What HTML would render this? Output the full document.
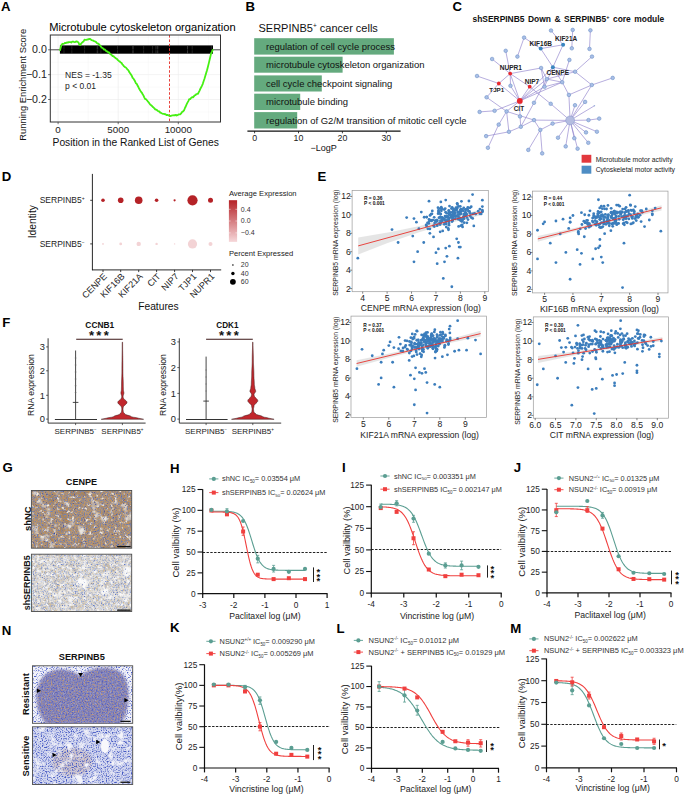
<!DOCTYPE html><html><head><meta charset="utf-8"><style>html,body{margin:0;padding:0;background:#fff;}svg{display:block;font-family:"Liberation Sans",sans-serif;}</style></head><body>
<svg width="685" height="796" viewBox="0 0 685 796">
<rect x="0.00" y="0.00" width="685.00" height="796.00" fill="#fff"/>
<text x="1.00" y="11.00" font-size="13.20" text-anchor="start" font-weight="bold" fill="#000">A</text>
<text x="245.50" y="11.00" font-size="13.20" text-anchor="start" font-weight="bold" fill="#000">B</text>
<text x="452.50" y="11.00" font-size="13.20" text-anchor="start" font-weight="bold" fill="#000">C</text>
<text x="1.80" y="181.00" font-size="13.20" text-anchor="start" font-weight="bold" fill="#000">D</text>
<text x="317.40" y="181.00" font-size="13.20" text-anchor="start" font-weight="bold" fill="#000">E</text>
<text x="2.20" y="327.00" font-size="13.20" text-anchor="start" font-weight="bold" fill="#000">F</text>
<text x="2.60" y="472.30" font-size="13.20" text-anchor="start" font-weight="bold" fill="#000">G</text>
<text x="170.00" y="473.10" font-size="13.20" text-anchor="start" font-weight="bold" fill="#000">H</text>
<text x="342.00" y="472.00" font-size="13.20" text-anchor="start" font-weight="bold" fill="#000">I</text>
<text x="513.80" y="472.00" font-size="13.20" text-anchor="start" font-weight="bold" fill="#000">J</text>
<text x="1.80" y="635.40" font-size="13.20" text-anchor="start" font-weight="bold" fill="#000">N</text>
<text x="170.00" y="632.20" font-size="13.20" text-anchor="start" font-weight="bold" fill="#000">K</text>
<text x="336.50" y="633.00" font-size="13.20" text-anchor="start" font-weight="bold" fill="#000">L</text>
<text x="510.30" y="633.00" font-size="13.20" text-anchor="start" font-weight="bold" fill="#000">M</text>
<clipPath id="clipA"><rect x="0" y="0" width="229.5" height="40"/></clipPath>
<text x="49.20" y="30.80" font-size="11.15" text-anchor="start" fill="#000">Microtubule cytoskeleton organization</text>
<rect x="50.30" y="35.00" width="170.20" height="87.00" fill="#fff"/>
<line x1="50.30" y1="37.38" x2="220.50" y2="37.38" stroke="#f2f2f2" stroke-width="0.4"/>
<line x1="50.30" y1="49.80" x2="220.50" y2="49.80" stroke="#ebebeb" stroke-width="0.6"/>
<line x1="50.30" y1="62.22" x2="220.50" y2="62.22" stroke="#f2f2f2" stroke-width="0.4"/>
<line x1="50.30" y1="74.65" x2="220.50" y2="74.65" stroke="#ebebeb" stroke-width="0.6"/>
<line x1="50.30" y1="87.07" x2="220.50" y2="87.07" stroke="#f2f2f2" stroke-width="0.4"/>
<line x1="50.30" y1="99.50" x2="220.50" y2="99.50" stroke="#ebebeb" stroke-width="0.6"/>
<line x1="50.30" y1="111.92" x2="220.50" y2="111.92" stroke="#f2f2f2" stroke-width="0.4"/>
<line x1="58.10" y1="35.00" x2="58.10" y2="122.00" stroke="#ebebeb" stroke-width="0.6"/>
<line x1="88.15" y1="35.00" x2="88.15" y2="122.00" stroke="#f2f2f2" stroke-width="0.4"/>
<line x1="118.20" y1="35.00" x2="118.20" y2="122.00" stroke="#ebebeb" stroke-width="0.6"/>
<line x1="148.25" y1="35.00" x2="148.25" y2="122.00" stroke="#f2f2f2" stroke-width="0.4"/>
<line x1="178.30" y1="35.00" x2="178.30" y2="122.00" stroke="#ebebeb" stroke-width="0.6"/>
<line x1="208.35" y1="35.00" x2="208.35" y2="122.00" stroke="#f2f2f2" stroke-width="0.4"/>
<rect x="59.90" y="45.40" width="153.10" height="8.30" fill="#000"/>
<line x1="97.69" y1="45.40" x2="97.69" y2="53.70" stroke="#666" stroke-width="0.35"/>
<line x1="143.63" y1="45.40" x2="143.63" y2="53.70" stroke="#666" stroke-width="0.35"/>
<line x1="117.49" y1="45.40" x2="117.49" y2="53.70" stroke="#666" stroke-width="0.35"/>
<line x1="152.59" y1="45.40" x2="152.59" y2="53.70" stroke="#666" stroke-width="0.35"/>
<line x1="155.86" y1="45.40" x2="155.86" y2="53.70" stroke="#666" stroke-width="0.35"/>
<line x1="71.83" y1="45.40" x2="71.83" y2="53.70" stroke="#666" stroke-width="0.35"/>
<line x1="63.98" y1="45.40" x2="63.98" y2="53.70" stroke="#666" stroke-width="0.35"/>
<line x1="187.62" y1="45.40" x2="187.62" y2="53.70" stroke="#666" stroke-width="0.35"/>
<line x1="100.90" y1="45.40" x2="100.90" y2="53.70" stroke="#666" stroke-width="0.35"/>
<line x1="97.15" y1="45.40" x2="97.15" y2="53.70" stroke="#666" stroke-width="0.35"/>
<line x1="211.35" y1="45.40" x2="211.35" y2="53.70" stroke="#666" stroke-width="0.35"/>
<line x1="132.54" y1="45.40" x2="132.54" y2="53.70" stroke="#666" stroke-width="0.35"/>
<line x1="187.47" y1="45.40" x2="187.47" y2="53.70" stroke="#666" stroke-width="0.35"/>
<line x1="133.45" y1="45.40" x2="133.45" y2="53.70" stroke="#666" stroke-width="0.35"/>
<line x1="157.86" y1="45.40" x2="157.86" y2="53.70" stroke="#666" stroke-width="0.35"/>
<line x1="84.59" y1="45.40" x2="84.59" y2="53.70" stroke="#666" stroke-width="0.35"/>
<line x1="157.23" y1="45.40" x2="157.23" y2="53.70" stroke="#666" stroke-width="0.35"/>
<line x1="192.21" y1="45.40" x2="192.21" y2="53.70" stroke="#666" stroke-width="0.35"/>
<line x1="50.30" y1="49.80" x2="220.50" y2="49.80" stroke="#000" stroke-width="0.7"/>
<line x1="169.50" y1="35.00" x2="169.50" y2="122.00" stroke="#e8403a" stroke-width="1.0" stroke-dasharray="2.6,1.8"/>
<path d="M59.90,50.82 L60.75,47.40 L61.60,44.65 L62.48,43.77 L63.36,43.94 L64.24,43.47 L65.12,42.86 L66.00,43.01 L66.88,42.40 L67.76,42.65 L68.64,42.15 L69.52,42.03 L70.40,42.22 L71.29,42.51 L72.18,41.70 L73.06,41.69 L73.95,41.98 L74.84,42.19 L75.72,41.70 L76.61,41.41 L77.50,41.88 L78.37,42.25 L79.23,44.36 L80.10,45.09 L80.98,43.88 L81.86,42.80 L82.74,41.93 L83.62,41.38 L84.50,39.68 L85.38,39.96 L86.27,39.91 L87.15,39.52 L88.03,39.58 L88.92,38.98 L89.80,38.86 L90.67,39.37 L91.53,40.21 L92.40,40.33 L93.27,40.58 L94.13,41.22 L95.00,41.45 L95.90,41.92 L96.80,43.04 L97.70,43.57 L98.60,43.74 L99.48,44.97 L100.36,45.83 L101.24,47.08 L102.12,47.83 L103.00,48.29 L103.88,49.62 L104.75,49.39 L105.62,50.33 L106.50,51.31 L107.38,51.34 L108.25,52.31 L109.12,52.50 L110.00,53.77 L110.88,54.55 L111.76,55.05 L112.64,56.05 L113.52,56.17 L114.40,57.25 L115.28,57.83 L116.16,58.51 L117.04,59.08 L117.92,60.15 L118.80,60.94 L119.68,61.37 L120.56,62.46 L121.44,62.76 L122.32,64.30 L123.20,65.15 L124.08,66.39 L124.96,67.12 L125.84,67.48 L126.72,68.49 L127.60,69.67 L128.44,70.37 L129.28,72.16 L130.12,73.22 L130.96,74.52 L131.80,75.81 L132.64,77.87 L133.48,78.58 L134.32,80.05 L135.16,81.54 L136.00,83.37 L136.84,84.00 L137.67,85.79 L138.51,87.30 L139.35,89.06 L140.18,90.41 L141.02,91.87 L141.85,92.71 L142.69,94.26 L143.53,95.62 L144.36,97.57 L145.20,99.06 L146.05,99.24 L146.90,100.25 L147.75,101.29 L148.60,102.28 L149.45,103.52 L150.30,104.61 L151.15,105.28 L152.00,106.00 L152.81,107.01 L153.62,107.55 L154.43,108.33 L155.24,109.31 L156.06,109.63 L156.87,110.05 L157.68,110.74 L158.49,111.39 L159.30,111.35 L160.24,112.64 L161.18,112.96 L162.12,113.49 L163.06,113.86 L164.00,113.89 L164.84,114.23 L165.69,114.26 L166.53,115.12 L167.37,114.88 L168.21,115.21 L169.06,115.68 L169.90,115.96 L170.75,116.01 L171.60,115.59 L172.45,115.40 L173.30,115.42 L174.15,115.23 L175.00,115.36 L175.90,114.84 L176.80,115.51 L177.70,115.06 L178.60,114.42 L179.50,114.34 L180.40,114.25 L181.30,113.16 L182.20,111.82 L183.10,111.45 L184.00,110.49 L184.87,108.22 L185.73,106.48 L186.60,104.34 L187.47,102.60 L188.33,101.09 L189.20,99.26 L190.15,99.20 L191.10,97.91 L192.05,97.15 L193.00,97.45 L193.83,96.41 L194.67,95.41 L195.50,95.19 L196.33,94.06 L197.17,93.94 L198.00,93.78 L198.80,92.20 L199.60,90.58 L200.40,88.68 L201.20,87.33 L202.00,85.67 L202.80,83.85 L203.60,81.19 L204.40,79.02 L205.20,76.15 L206.00,73.62 L207.00,70.24 L208.00,66.45 L209.00,62.35 L210.10,57.71 L211.20,53.12 L212.10,51.29 L213.00,49.30" fill="none" stroke="#45f012" stroke-width="1.8" stroke-linejoin="round"/>
<rect x="50.3" y="35.0" width="170.2" height="87.0" fill="none" stroke="#333" stroke-width="1.0"/>
<line x1="48.10" y1="49.80" x2="50.30" y2="49.80" stroke="#333" stroke-width="0.7"/>
<text x="46.80" y="53.45" font-size="10.60" text-anchor="end" fill="#222">0.0</text>
<line x1="48.10" y1="74.65" x2="50.30" y2="74.65" stroke="#333" stroke-width="0.7"/>
<text x="46.80" y="78.30" font-size="10.60" text-anchor="end" fill="#222">−0.1</text>
<line x1="48.10" y1="99.50" x2="50.30" y2="99.50" stroke="#333" stroke-width="0.7"/>
<text x="46.80" y="103.15" font-size="10.60" text-anchor="end" fill="#222">−0.2</text>
<line x1="58.10" y1="122.00" x2="58.10" y2="124.20" stroke="#333" stroke-width="0.7"/>
<text x="58.10" y="132.97" font-size="9.80" text-anchor="middle" fill="#222">0</text>
<line x1="118.20" y1="122.00" x2="118.20" y2="124.20" stroke="#333" stroke-width="0.7"/>
<text x="118.20" y="132.97" font-size="9.80" text-anchor="middle" fill="#222">5000</text>
<line x1="178.30" y1="122.00" x2="178.30" y2="124.20" stroke="#333" stroke-width="0.7"/>
<text x="178.30" y="132.97" font-size="9.80" text-anchor="middle" fill="#222">10000</text>
<text x="135.70" y="145.54" font-size="10.29" text-anchor="middle" fill="#111">Position in the Ranked List of Genes</text>
<text x="25.72" y="84.80" font-size="9.37" text-anchor="middle" fill="#111" transform="rotate(-90 25.72 84.80)">Running Enrichment Score</text>
<text x="65.10" y="78.32" font-size="8.50" text-anchor="start" fill="#222">NES = -1.35</text>
<text x="65.10" y="88.82" font-size="8.50" text-anchor="start" fill="#222">p &lt; 0.01</text>
<text x="258.50" y="31.98" font-size="11.00" text-anchor="start" fill="#111">SERPINB5<tspan font-size="6.5" dy="-3.8">+</tspan><tspan dy="3.8"> cancer cells</tspan></text>
<rect x="254.20" y="38.20" width="139.70" height="16.40" fill="#64aa7e"/>
<rect x="254.20" y="56.70" width="88.40" height="16.00" fill="#64aa7e"/>
<rect x="254.20" y="75.40" width="67.60" height="16.10" fill="#64aa7e"/>
<rect x="254.20" y="93.70" width="46.00" height="16.30" fill="#64aa7e"/>
<rect x="254.20" y="112.10" width="43.00" height="16.40" fill="#64aa7e"/>
<text x="266.00" y="49.66" font-size="9.47" text-anchor="start" fill="#111">regulation of cell cycle process</text>
<text x="266.00" y="67.96" font-size="9.47" text-anchor="start" fill="#111">microtubule cytoskeleton organization</text>
<text x="266.00" y="86.71" font-size="9.47" text-anchor="start" fill="#111">cell cycle checkpoint signaling</text>
<text x="266.00" y="105.11" font-size="9.47" text-anchor="start" fill="#111">microtubule binding</text>
<text x="266.00" y="123.56" font-size="9.47" text-anchor="start" fill="#111">regulation of G2/M transition of mitotic cell cycle</text>
<line x1="247.40" y1="131.10" x2="400.60" y2="131.10" stroke="#111" stroke-width="1.1"/>
<line x1="254.60" y1="131.10" x2="254.60" y2="133.30" stroke="#111" stroke-width="0.8"/>
<text x="254.60" y="141.23" font-size="8.80" text-anchor="middle" fill="#222">0</text>
<line x1="298.50" y1="131.10" x2="298.50" y2="133.30" stroke="#111" stroke-width="0.8"/>
<text x="298.50" y="141.23" font-size="8.80" text-anchor="middle" fill="#222">10</text>
<line x1="342.40" y1="131.10" x2="342.40" y2="133.30" stroke="#111" stroke-width="0.8"/>
<text x="342.40" y="141.23" font-size="8.80" text-anchor="middle" fill="#222">20</text>
<line x1="386.30" y1="131.10" x2="386.30" y2="133.30" stroke="#111" stroke-width="0.8"/>
<text x="386.30" y="141.23" font-size="8.80" text-anchor="middle" fill="#222">30</text>
<text x="323.60" y="150.90" font-size="9.00" text-anchor="middle" fill="#111">−LogP</text>
<text x="472.50" y="21.70" font-size="8.44" text-anchor="start" font-weight="bold" fill="#111" word-spacing="1.2">shSERPINB5 Down &amp; SERPINB5<tspan font-size="5.5" dy="-3.2">+</tspan><tspan dy="3.2"> core module</tspan></text>
<line x1="551.00" y1="30.50" x2="563.10" y2="44.80" stroke="#8f82cc" stroke-width="0.65"/>
<line x1="572.70" y1="29.90" x2="571.80" y2="48.30" stroke="#8f82cc" stroke-width="0.65"/>
<line x1="590.40" y1="30.30" x2="589.50" y2="48.90" stroke="#8f82cc" stroke-width="0.65"/>
<line x1="524.10" y1="37.60" x2="540.70" y2="48.60" stroke="#8f82cc" stroke-width="0.65"/>
<line x1="524.10" y1="37.60" x2="517.40" y2="56.60" stroke="#8f82cc" stroke-width="0.65"/>
<line x1="540.70" y1="48.60" x2="563.10" y2="44.80" stroke="#8f82cc" stroke-width="0.65"/>
<line x1="540.70" y1="48.60" x2="552.90" y2="67.20" stroke="#8f82cc" stroke-width="0.65"/>
<line x1="563.10" y1="44.80" x2="552.90" y2="67.20" stroke="#8f82cc" stroke-width="0.65"/>
<line x1="505.70" y1="50.80" x2="510.20" y2="73.60" stroke="#8f82cc" stroke-width="0.65"/>
<line x1="492.10" y1="59.00" x2="510.20" y2="73.60" stroke="#8f82cc" stroke-width="0.65"/>
<line x1="477.00" y1="76.00" x2="498.80" y2="83.50" stroke="#8f82cc" stroke-width="0.65"/>
<line x1="510.20" y1="73.60" x2="498.80" y2="83.50" stroke="#8f82cc" stroke-width="0.65"/>
<line x1="510.20" y1="73.60" x2="541.10" y2="68.00" stroke="#8f82cc" stroke-width="0.65"/>
<line x1="510.20" y1="73.60" x2="519.80" y2="100.90" stroke="#8f82cc" stroke-width="0.65"/>
<line x1="498.80" y1="83.50" x2="519.80" y2="100.90" stroke="#8f82cc" stroke-width="0.65"/>
<line x1="529.70" y1="86.70" x2="519.80" y2="100.90" stroke="#8f82cc" stroke-width="0.65"/>
<line x1="541.10" y1="68.00" x2="546.80" y2="79.10" stroke="#8f82cc" stroke-width="0.65"/>
<line x1="541.10" y1="68.00" x2="544.50" y2="86.80" stroke="#8f82cc" stroke-width="0.65"/>
<line x1="569.40" y1="59.90" x2="562.20" y2="82.20" stroke="#8f82cc" stroke-width="0.65"/>
<line x1="592.00" y1="56.60" x2="575.10" y2="71.70" stroke="#8f82cc" stroke-width="0.65"/>
<line x1="575.10" y1="71.70" x2="546.80" y2="79.10" stroke="#8f82cc" stroke-width="0.65"/>
<line x1="575.10" y1="71.70" x2="591.80" y2="85.00" stroke="#8f82cc" stroke-width="0.65"/>
<line x1="612.70" y1="77.90" x2="591.80" y2="85.00" stroke="#8f82cc" stroke-width="0.65"/>
<line x1="591.80" y1="85.00" x2="570.10" y2="120.40" stroke="#8f82cc" stroke-width="0.65"/>
<line x1="546.80" y1="79.10" x2="519.80" y2="100.90" stroke="#8f82cc" stroke-width="0.65"/>
<line x1="544.50" y1="86.80" x2="519.80" y2="100.90" stroke="#8f82cc" stroke-width="0.65"/>
<line x1="562.20" y1="82.20" x2="546.80" y2="79.10" stroke="#8f82cc" stroke-width="0.65"/>
<line x1="562.20" y1="82.20" x2="544.50" y2="86.80" stroke="#8f82cc" stroke-width="0.65"/>
<line x1="562.20" y1="82.20" x2="568.90" y2="94.90" stroke="#8f82cc" stroke-width="0.65"/>
<line x1="568.90" y1="94.90" x2="570.10" y2="120.40" stroke="#8f82cc" stroke-width="0.65"/>
<line x1="575.00" y1="105.20" x2="570.10" y2="120.40" stroke="#8f82cc" stroke-width="0.65"/>
<line x1="585.10" y1="101.90" x2="570.10" y2="120.40" stroke="#8f82cc" stroke-width="0.65"/>
<line x1="594.40" y1="105.80" x2="570.10" y2="120.40" stroke="#8f82cc" stroke-width="0.65"/>
<line x1="588.50" y1="120.10" x2="570.10" y2="120.40" stroke="#8f82cc" stroke-width="0.65"/>
<line x1="599.20" y1="118.60" x2="588.50" y2="120.10" stroke="#8f82cc" stroke-width="0.65"/>
<line x1="586.00" y1="132.40" x2="570.10" y2="120.40" stroke="#8f82cc" stroke-width="0.65"/>
<line x1="596.90" y1="131.70" x2="570.10" y2="120.40" stroke="#8f82cc" stroke-width="0.65"/>
<line x1="574.30" y1="138.20" x2="570.10" y2="120.40" stroke="#8f82cc" stroke-width="0.65"/>
<line x1="588.30" y1="142.80" x2="570.10" y2="120.40" stroke="#8f82cc" stroke-width="0.65"/>
<line x1="565.70" y1="146.40" x2="570.10" y2="120.40" stroke="#8f82cc" stroke-width="0.65"/>
<line x1="577.60" y1="148.70" x2="570.10" y2="120.40" stroke="#8f82cc" stroke-width="0.65"/>
<line x1="558.00" y1="137.70" x2="570.10" y2="120.40" stroke="#8f82cc" stroke-width="0.65"/>
<line x1="552.60" y1="123.60" x2="570.10" y2="120.40" stroke="#8f82cc" stroke-width="0.65"/>
<line x1="534.00" y1="120.10" x2="570.10" y2="120.40" stroke="#8f82cc" stroke-width="0.65"/>
<line x1="550.70" y1="103.80" x2="570.10" y2="120.40" stroke="#8f82cc" stroke-width="0.65"/>
<line x1="529.70" y1="86.70" x2="550.70" y2="103.80" stroke="#8f82cc" stroke-width="0.65"/>
<line x1="534.00" y1="102.80" x2="546.80" y2="79.10" stroke="#8f82cc" stroke-width="0.65"/>
<line x1="486.60" y1="97.30" x2="498.80" y2="83.50" stroke="#8f82cc" stroke-width="0.65"/>
<line x1="486.60" y1="97.30" x2="506.60" y2="111.40" stroke="#8f82cc" stroke-width="0.65"/>
<line x1="479.60" y1="111.90" x2="494.60" y2="110.80" stroke="#8f82cc" stroke-width="0.65"/>
<line x1="494.60" y1="110.80" x2="519.80" y2="100.90" stroke="#8f82cc" stroke-width="0.65"/>
<line x1="506.60" y1="111.40" x2="534.00" y2="120.10" stroke="#8f82cc" stroke-width="0.65"/>
<line x1="520.00" y1="116.40" x2="519.80" y2="100.90" stroke="#8f82cc" stroke-width="0.65"/>
<line x1="520.00" y1="116.40" x2="520.80" y2="126.80" stroke="#8f82cc" stroke-width="0.65"/>
<line x1="506.60" y1="111.40" x2="508.90" y2="131.80" stroke="#8f82cc" stroke-width="0.65"/>
<line x1="498.70" y1="124.60" x2="506.60" y2="111.40" stroke="#8f82cc" stroke-width="0.65"/>
<line x1="498.70" y1="124.60" x2="487.90" y2="147.80" stroke="#8f82cc" stroke-width="0.65"/>
<line x1="486.10" y1="136.10" x2="508.90" y2="131.80" stroke="#8f82cc" stroke-width="0.65"/>
<line x1="508.90" y1="131.80" x2="520.80" y2="126.80" stroke="#8f82cc" stroke-width="0.65"/>
<line x1="520.80" y1="126.80" x2="534.00" y2="120.10" stroke="#8f82cc" stroke-width="0.65"/>
<line x1="534.00" y1="120.10" x2="540.30" y2="129.90" stroke="#8f82cc" stroke-width="0.65"/>
<line x1="540.30" y1="129.90" x2="528.30" y2="149.90" stroke="#8f82cc" stroke-width="0.65"/>
<line x1="540.30" y1="129.90" x2="542.20" y2="153.40" stroke="#8f82cc" stroke-width="0.65"/>
<line x1="540.30" y1="129.90" x2="552.60" y2="123.60" stroke="#8f82cc" stroke-width="0.65"/>
<line x1="510.50" y1="85.80" x2="519.80" y2="100.90" stroke="#8f82cc" stroke-width="0.65"/>
<line x1="510.20" y1="73.60" x2="510.50" y2="85.80" stroke="#8f82cc" stroke-width="0.65"/>
<line x1="552.90" y1="67.20" x2="544.50" y2="86.80" stroke="#8f82cc" stroke-width="0.65"/>
<line x1="575.10" y1="71.70" x2="552.90" y2="67.20" stroke="#8f82cc" stroke-width="0.65"/>
<line x1="534.00" y1="102.80" x2="520.80" y2="126.80" stroke="#8f82cc" stroke-width="0.65"/>
<line x1="519.80" y1="100.90" x2="552.90" y2="67.20" stroke="#8f82cc" stroke-width="0.65"/>
<line x1="529.70" y1="86.70" x2="510.20" y2="73.60" stroke="#8f82cc" stroke-width="0.65"/>
<line x1="506.60" y1="111.40" x2="519.80" y2="100.90" stroke="#8f82cc" stroke-width="0.65"/>
<line x1="568.90" y1="94.90" x2="591.80" y2="85.00" stroke="#8f82cc" stroke-width="0.65"/>
<line x1="519.80" y1="100.90" x2="562.20" y2="82.20" stroke="#8f82cc" stroke-width="0.65"/>
<line x1="552.90" y1="67.20" x2="562.20" y2="82.20" stroke="#8f82cc" stroke-width="0.65"/>
<circle cx="551.00" cy="30.50" r="1.80" fill="#a9bfe6" stroke="#6f92c8" stroke-width="0.6"/>
<circle cx="572.70" cy="29.90" r="1.80" fill="#a9bfe6" stroke="#6f92c8" stroke-width="0.6"/>
<circle cx="590.40" cy="30.30" r="1.80" fill="#a9bfe6" stroke="#6f92c8" stroke-width="0.6"/>
<circle cx="524.10" cy="37.60" r="1.80" fill="#a9bfe6" stroke="#6f92c8" stroke-width="0.6"/>
<circle cx="540.70" cy="48.60" r="2.00" fill="#3a86c0"/>
<circle cx="563.10" cy="44.80" r="2.00" fill="#3a86c0"/>
<circle cx="571.80" cy="48.30" r="1.80" fill="#a9bfe6" stroke="#6f92c8" stroke-width="0.6"/>
<circle cx="589.50" cy="48.90" r="1.80" fill="#a9bfe6" stroke="#6f92c8" stroke-width="0.6"/>
<circle cx="505.70" cy="50.80" r="1.80" fill="#a9bfe6" stroke="#6f92c8" stroke-width="0.6"/>
<circle cx="517.40" cy="56.60" r="1.80" fill="#a9bfe6" stroke="#6f92c8" stroke-width="0.6"/>
<circle cx="492.10" cy="59.00" r="1.80" fill="#a9bfe6" stroke="#6f92c8" stroke-width="0.6"/>
<circle cx="569.40" cy="59.90" r="1.80" fill="#a9bfe6" stroke="#6f92c8" stroke-width="0.6"/>
<circle cx="592.00" cy="56.60" r="1.80" fill="#a9bfe6" stroke="#6f92c8" stroke-width="0.6"/>
<circle cx="552.90" cy="67.20" r="2.00" fill="#3a86c0"/>
<circle cx="541.10" cy="68.00" r="1.80" fill="#a9bfe6" stroke="#6f92c8" stroke-width="0.6"/>
<circle cx="575.10" cy="71.70" r="1.80" fill="#a9bfe6" stroke="#6f92c8" stroke-width="0.6"/>
<circle cx="510.20" cy="73.60" r="1.90" fill="#e8282e"/>
<circle cx="477.00" cy="76.00" r="1.80" fill="#a9bfe6" stroke="#6f92c8" stroke-width="0.6"/>
<circle cx="546.80" cy="79.10" r="1.80" fill="#a9bfe6" stroke="#6f92c8" stroke-width="0.6"/>
<circle cx="562.20" cy="82.20" r="1.80" fill="#a9bfe6" stroke="#6f92c8" stroke-width="0.6"/>
<circle cx="498.80" cy="83.50" r="1.90" fill="#e8282e"/>
<circle cx="529.70" cy="86.70" r="1.90" fill="#e8282e"/>
<circle cx="510.50" cy="85.80" r="1.80" fill="#a9bfe6" stroke="#6f92c8" stroke-width="0.6"/>
<circle cx="544.50" cy="86.80" r="1.80" fill="#a9bfe6" stroke="#6f92c8" stroke-width="0.6"/>
<circle cx="612.70" cy="77.90" r="1.80" fill="#a9bfe6" stroke="#6f92c8" stroke-width="0.6"/>
<circle cx="591.80" cy="85.00" r="1.80" fill="#a9bfe6" stroke="#6f92c8" stroke-width="0.6"/>
<circle cx="486.60" cy="97.30" r="1.80" fill="#a9bfe6" stroke="#6f92c8" stroke-width="0.6"/>
<circle cx="568.90" cy="94.90" r="1.80" fill="#a9bfe6" stroke="#6f92c8" stroke-width="0.6"/>
<circle cx="519.80" cy="100.90" r="2.90" fill="#e8282e"/>
<circle cx="534.00" cy="102.80" r="1.80" fill="#a9bfe6" stroke="#6f92c8" stroke-width="0.6"/>
<circle cx="550.70" cy="103.80" r="1.80" fill="#a9bfe6" stroke="#6f92c8" stroke-width="0.6"/>
<circle cx="575.00" cy="105.20" r="1.80" fill="#a9bfe6" stroke="#6f92c8" stroke-width="0.6"/>
<circle cx="585.10" cy="101.90" r="1.80" fill="#a9bfe6" stroke="#6f92c8" stroke-width="0.6"/>
<circle cx="594.40" cy="105.80" r="0.80" fill="#9ab0dc"/>
<circle cx="479.60" cy="111.90" r="1.80" fill="#a9bfe6" stroke="#6f92c8" stroke-width="0.6"/>
<circle cx="494.60" cy="110.80" r="1.80" fill="#a9bfe6" stroke="#6f92c8" stroke-width="0.6"/>
<circle cx="506.60" cy="111.40" r="1.80" fill="#a9bfe6" stroke="#6f92c8" stroke-width="0.6"/>
<circle cx="520.00" cy="116.40" r="1.80" fill="#a9bfe6" stroke="#6f92c8" stroke-width="0.6"/>
<circle cx="534.00" cy="120.10" r="1.80" fill="#a9bfe6" stroke="#6f92c8" stroke-width="0.6"/>
<circle cx="552.60" cy="123.60" r="1.80" fill="#a9bfe6" stroke="#6f92c8" stroke-width="0.6"/>
<circle cx="570.10" cy="120.40" r="4.40" fill="#b4bce0" stroke="#8a98cc" stroke-width="0.6"/>
<circle cx="588.50" cy="120.10" r="1.80" fill="#a9bfe6" stroke="#6f92c8" stroke-width="0.6"/>
<circle cx="599.20" cy="118.60" r="1.80" fill="#a9bfe6" stroke="#6f92c8" stroke-width="0.6"/>
<circle cx="498.70" cy="124.60" r="1.80" fill="#a9bfe6" stroke="#6f92c8" stroke-width="0.6"/>
<circle cx="520.80" cy="126.80" r="1.80" fill="#a9bfe6" stroke="#6f92c8" stroke-width="0.6"/>
<circle cx="540.30" cy="129.90" r="1.80" fill="#a9bfe6" stroke="#6f92c8" stroke-width="0.6"/>
<circle cx="508.90" cy="131.80" r="1.80" fill="#a9bfe6" stroke="#6f92c8" stroke-width="0.6"/>
<circle cx="586.00" cy="132.40" r="1.80" fill="#a9bfe6" stroke="#6f92c8" stroke-width="0.6"/>
<circle cx="596.90" cy="131.70" r="1.80" fill="#a9bfe6" stroke="#6f92c8" stroke-width="0.6"/>
<circle cx="486.10" cy="136.10" r="1.80" fill="#a9bfe6" stroke="#6f92c8" stroke-width="0.6"/>
<circle cx="558.00" cy="137.70" r="1.80" fill="#a9bfe6" stroke="#6f92c8" stroke-width="0.6"/>
<circle cx="574.30" cy="138.20" r="1.80" fill="#a9bfe6" stroke="#6f92c8" stroke-width="0.6"/>
<circle cx="588.30" cy="142.80" r="1.80" fill="#a9bfe6" stroke="#6f92c8" stroke-width="0.6"/>
<circle cx="487.90" cy="147.80" r="1.80" fill="#a9bfe6" stroke="#6f92c8" stroke-width="0.6"/>
<circle cx="565.70" cy="146.40" r="1.80" fill="#a9bfe6" stroke="#6f92c8" stroke-width="0.6"/>
<circle cx="577.60" cy="148.70" r="1.80" fill="#a9bfe6" stroke="#6f92c8" stroke-width="0.6"/>
<circle cx="528.30" cy="149.90" r="1.80" fill="#a9bfe6" stroke="#6f92c8" stroke-width="0.6"/>
<circle cx="542.20" cy="153.40" r="1.80" fill="#a9bfe6" stroke="#6f92c8" stroke-width="0.6"/>
<text x="540.80" y="45.54" font-size="6.50" text-anchor="middle" font-weight="bold" fill="#222">KIF16B</text>
<text x="566.10" y="41.12" font-size="6.44" text-anchor="middle" font-weight="bold" fill="#222">KIF21A</text>
<text x="510.90" y="69.95" font-size="6.55" text-anchor="middle" font-weight="bold" fill="#222">NUPR1</text>
<text x="557.80" y="74.84" font-size="6.50" text-anchor="middle" font-weight="bold" fill="#222">CENPE</text>
<text x="532.00" y="83.94" font-size="6.52" text-anchor="middle" font-weight="bold" fill="#222">NIP7</text>
<text x="496.80" y="91.84" font-size="6.23" text-anchor="middle" font-weight="bold" fill="#222">TJP1</text>
<text x="518.90" y="110.58" font-size="6.33" text-anchor="middle" font-weight="bold" fill="#222">CIT</text>
<rect x="581.60" y="154.80" width="9.70" height="7.90" fill="#e2383d"/>
<rect x="581.60" y="165.70" width="9.70" height="8.00" fill="#4e8dc4"/>
<text x="595.70" y="161.54" font-size="6.79" text-anchor="start" fill="#222">Microtubule motor activity</text>
<text x="595.70" y="172.05" font-size="6.83" text-anchor="start" fill="#222">Cytoskeletal motor activity</text>
<line x1="92.40" y1="173.90" x2="92.40" y2="270.20" stroke="#111" stroke-width="0.9"/>
<line x1="92.00" y1="269.90" x2="221.20" y2="269.90" stroke="#111" stroke-width="0.9"/>
<line x1="90.20" y1="200.30" x2="92.40" y2="200.30" stroke="#111" stroke-width="0.8"/>
<text x="84.60" y="203.22" font-size="8.49" text-anchor="end" fill="#222">SERPINB5<tspan font-size="5" dy="-3">+</tspan></text>
<line x1="90.20" y1="243.90" x2="92.40" y2="243.90" stroke="#111" stroke-width="0.8"/>
<text x="84.60" y="246.82" font-size="8.49" text-anchor="end" fill="#222">SERPINB5<tspan font-size="5" dy="-3">−</tspan></text>
<text x="35.94" y="221.70" font-size="10.30" text-anchor="middle" fill="#111" transform="rotate(-90 35.94 221.70)">Identity</text>
<circle cx="103.00" cy="200.30" r="1.80" fill="#b52227"/>
<circle cx="103.00" cy="243.90" r="0.90" fill="#f3d3d5"/>
<line x1="103.00" y1="269.90" x2="103.00" y2="272.10" stroke="#111" stroke-width="0.8"/>
<text x="107.60" y="277.00" font-size="9.00" text-anchor="end" fill="#222" transform="rotate(-45 107.60 277.00)">CENPE</text>
<circle cx="120.70" cy="200.30" r="2.80" fill="#b52227"/>
<circle cx="120.70" cy="243.90" r="1.40" fill="#f3d3d5"/>
<line x1="120.70" y1="269.90" x2="120.70" y2="272.10" stroke="#111" stroke-width="0.8"/>
<text x="125.30" y="277.00" font-size="9.00" text-anchor="end" fill="#222" transform="rotate(-45 125.30 277.00)">KIF16B</text>
<circle cx="138.70" cy="200.30" r="3.80" fill="#b52227"/>
<circle cx="138.70" cy="243.90" r="2.20" fill="#f3d3d5"/>
<line x1="138.70" y1="269.90" x2="138.70" y2="272.10" stroke="#111" stroke-width="0.8"/>
<text x="143.30" y="277.00" font-size="9.00" text-anchor="end" fill="#222" transform="rotate(-45 143.30 277.00)">KIF21A</text>
<circle cx="156.60" cy="200.30" r="1.80" fill="#b52227"/>
<circle cx="156.60" cy="243.90" r="1.20" fill="#f3d3d5"/>
<line x1="156.60" y1="269.90" x2="156.60" y2="272.10" stroke="#111" stroke-width="0.8"/>
<text x="161.20" y="277.00" font-size="9.00" text-anchor="end" fill="#222" transform="rotate(-45 161.20 277.00)">CIT</text>
<circle cx="174.60" cy="200.30" r="1.10" fill="#b52227"/>
<circle cx="174.60" cy="243.90" r="0.70" fill="#f3d3d5"/>
<line x1="174.60" y1="269.90" x2="174.60" y2="272.10" stroke="#111" stroke-width="0.8"/>
<text x="179.20" y="277.00" font-size="9.00" text-anchor="end" fill="#222" transform="rotate(-45 179.20 277.00)">NIP7</text>
<circle cx="192.50" cy="200.30" r="5.10" fill="#b52227"/>
<circle cx="192.50" cy="243.90" r="4.60" fill="#f3d3d5"/>
<line x1="192.50" y1="269.90" x2="192.50" y2="272.10" stroke="#111" stroke-width="0.8"/>
<text x="197.10" y="277.00" font-size="9.00" text-anchor="end" fill="#222" transform="rotate(-45 197.10 277.00)">TJP1</text>
<circle cx="210.50" cy="200.30" r="2.50" fill="#b52227"/>
<circle cx="210.50" cy="243.90" r="2.00" fill="#f3d3d5"/>
<line x1="210.50" y1="269.90" x2="210.50" y2="272.10" stroke="#111" stroke-width="0.8"/>
<text x="215.10" y="277.00" font-size="9.00" text-anchor="end" fill="#222" transform="rotate(-45 215.10 277.00)">NUPR1</text>
<text x="158.40" y="309.53" font-size="10.26" text-anchor="middle" fill="#111">Features</text>
<text x="228.90" y="195.61" font-size="7.58" text-anchor="start" fill="#222">Average Expression</text>
<defs><linearGradient id="gD" x1="0" y1="0" x2="0" y2="1"><stop offset="0" stop-color="#b52227"/><stop offset="1" stop-color="#f6d8da"/></linearGradient></defs>
<rect x="228.90" y="200.20" width="8.20" height="41.70" fill="url(#gD)"/>
<line x1="228.90" y1="209.30" x2="230.60" y2="209.30" stroke="#fff" stroke-width="0.5"/>
<line x1="235.40" y1="209.30" x2="237.10" y2="209.30" stroke="#fff" stroke-width="0.5"/>
<text x="240.80" y="211.71" font-size="7.00" text-anchor="start" fill="#333">0.4</text>
<line x1="228.90" y1="221.00" x2="230.60" y2="221.00" stroke="#fff" stroke-width="0.5"/>
<line x1="235.40" y1="221.00" x2="237.10" y2="221.00" stroke="#fff" stroke-width="0.5"/>
<text x="240.80" y="223.41" font-size="7.00" text-anchor="start" fill="#333">0.0</text>
<line x1="228.90" y1="232.90" x2="230.60" y2="232.90" stroke="#fff" stroke-width="0.5"/>
<line x1="235.40" y1="232.90" x2="237.10" y2="232.90" stroke="#fff" stroke-width="0.5"/>
<text x="240.80" y="235.31" font-size="7.00" text-anchor="start" fill="#333">−0.4</text>
<text x="228.90" y="256.12" font-size="7.62" text-anchor="start" fill="#222">Percent Expressed</text>
<circle cx="232.90" cy="265.00" r="0.80" fill="#000"/>
<text x="240.80" y="267.41" font-size="7.00" text-anchor="start" fill="#333">20</text>
<circle cx="232.90" cy="273.50" r="1.70" fill="#000"/>
<text x="240.80" y="275.91" font-size="7.00" text-anchor="start" fill="#333">40</text>
<circle cx="232.90" cy="281.80" r="2.90" fill="#000"/>
<text x="240.80" y="284.21" font-size="7.00" text-anchor="start" fill="#333">60</text>
<rect x="352.10" y="190.50" width="136.20" height="101.20" fill="#fff" stroke="#9a9a9a" stroke-width="0.7"/>
<path d="M358.20,237.40 Q420.00,228.65 481.80,209.00 L481.80,215.00 Q420.00,229.25 358.20,254.40 Z" fill="#d4d4d4" fill-opacity="0.6"/>
<circle cx="434.17" cy="217.34" r="1.40" fill="#3b7dbc"/>
<circle cx="463.98" cy="216.42" r="1.40" fill="#3b7dbc"/>
<circle cx="432.76" cy="220.07" r="1.40" fill="#3b7dbc"/>
<circle cx="457.03" cy="208.87" r="1.40" fill="#3b7dbc"/>
<circle cx="434.28" cy="226.56" r="1.40" fill="#3b7dbc"/>
<circle cx="460.09" cy="211.72" r="1.40" fill="#3b7dbc"/>
<circle cx="471.21" cy="206.73" r="1.40" fill="#3b7dbc"/>
<circle cx="449.24" cy="217.99" r="1.40" fill="#3b7dbc"/>
<circle cx="482.36" cy="211.57" r="1.40" fill="#3b7dbc"/>
<circle cx="440.07" cy="224.57" r="1.40" fill="#3b7dbc"/>
<circle cx="451.89" cy="215.15" r="1.40" fill="#3b7dbc"/>
<circle cx="445.98" cy="217.46" r="1.40" fill="#3b7dbc"/>
<circle cx="454.28" cy="211.65" r="1.40" fill="#3b7dbc"/>
<circle cx="465.34" cy="212.15" r="1.40" fill="#3b7dbc"/>
<circle cx="426.57" cy="217.04" r="1.40" fill="#3b7dbc"/>
<circle cx="431.54" cy="220.90" r="1.40" fill="#3b7dbc"/>
<circle cx="430.82" cy="220.08" r="1.40" fill="#3b7dbc"/>
<circle cx="440.16" cy="217.07" r="1.40" fill="#3b7dbc"/>
<circle cx="482.36" cy="210.24" r="1.40" fill="#3b7dbc"/>
<circle cx="461.93" cy="221.30" r="1.40" fill="#3b7dbc"/>
<circle cx="446.74" cy="213.30" r="1.40" fill="#3b7dbc"/>
<circle cx="449.37" cy="214.40" r="1.40" fill="#3b7dbc"/>
<circle cx="452.00" cy="221.50" r="1.40" fill="#3b7dbc"/>
<circle cx="458.18" cy="219.21" r="1.40" fill="#3b7dbc"/>
<circle cx="475.75" cy="214.06" r="1.40" fill="#3b7dbc"/>
<circle cx="459.83" cy="214.38" r="1.40" fill="#3b7dbc"/>
<circle cx="463.40" cy="217.02" r="1.40" fill="#3b7dbc"/>
<circle cx="464.03" cy="214.26" r="1.40" fill="#3b7dbc"/>
<circle cx="467.58" cy="209.42" r="1.40" fill="#3b7dbc"/>
<circle cx="452.51" cy="220.15" r="1.40" fill="#3b7dbc"/>
<circle cx="460.92" cy="211.59" r="1.40" fill="#3b7dbc"/>
<circle cx="472.66" cy="213.96" r="1.40" fill="#3b7dbc"/>
<circle cx="458.06" cy="211.93" r="1.40" fill="#3b7dbc"/>
<circle cx="454.41" cy="214.31" r="1.40" fill="#3b7dbc"/>
<circle cx="453.06" cy="219.03" r="1.40" fill="#3b7dbc"/>
<circle cx="436.99" cy="221.07" r="1.40" fill="#3b7dbc"/>
<circle cx="458.55" cy="206.29" r="1.40" fill="#3b7dbc"/>
<circle cx="463.74" cy="207.80" r="1.40" fill="#3b7dbc"/>
<circle cx="461.05" cy="210.29" r="1.40" fill="#3b7dbc"/>
<circle cx="453.07" cy="211.45" r="1.40" fill="#3b7dbc"/>
<circle cx="474.43" cy="213.34" r="1.40" fill="#3b7dbc"/>
<circle cx="441.29" cy="207.19" r="1.40" fill="#3b7dbc"/>
<circle cx="453.90" cy="210.19" r="1.40" fill="#3b7dbc"/>
<circle cx="462.35" cy="220.18" r="1.40" fill="#3b7dbc"/>
<circle cx="482.36" cy="200.15" r="1.40" fill="#3b7dbc"/>
<circle cx="452.99" cy="211.58" r="1.40" fill="#3b7dbc"/>
<circle cx="452.32" cy="220.76" r="1.40" fill="#3b7dbc"/>
<circle cx="449.11" cy="214.43" r="1.40" fill="#3b7dbc"/>
<circle cx="465.60" cy="209.34" r="1.40" fill="#3b7dbc"/>
<circle cx="451.41" cy="208.55" r="1.40" fill="#3b7dbc"/>
<circle cx="440.39" cy="213.82" r="1.40" fill="#3b7dbc"/>
<circle cx="465.55" cy="214.89" r="1.40" fill="#3b7dbc"/>
<circle cx="426.56" cy="225.94" r="1.40" fill="#3b7dbc"/>
<circle cx="453.80" cy="212.66" r="1.40" fill="#3b7dbc"/>
<circle cx="471.41" cy="217.68" r="1.40" fill="#3b7dbc"/>
<circle cx="450.64" cy="212.61" r="1.40" fill="#3b7dbc"/>
<circle cx="448.49" cy="229.73" r="1.40" fill="#3b7dbc"/>
<circle cx="461.44" cy="201.29" r="1.40" fill="#3b7dbc"/>
<circle cx="464.10" cy="218.63" r="1.40" fill="#3b7dbc"/>
<circle cx="445.07" cy="216.06" r="1.40" fill="#3b7dbc"/>
<circle cx="482.36" cy="206.56" r="1.40" fill="#3b7dbc"/>
<circle cx="452.14" cy="207.29" r="1.40" fill="#3b7dbc"/>
<circle cx="449.51" cy="206.12" r="1.40" fill="#3b7dbc"/>
<circle cx="441.41" cy="220.64" r="1.40" fill="#3b7dbc"/>
<circle cx="460.29" cy="206.42" r="1.40" fill="#3b7dbc"/>
<circle cx="459.39" cy="212.81" r="1.40" fill="#3b7dbc"/>
<circle cx="426.15" cy="224.95" r="1.40" fill="#3b7dbc"/>
<circle cx="442.41" cy="220.77" r="1.40" fill="#3b7dbc"/>
<circle cx="458.49" cy="216.51" r="1.40" fill="#3b7dbc"/>
<circle cx="461.19" cy="213.67" r="1.40" fill="#3b7dbc"/>
<circle cx="446.14" cy="216.43" r="1.40" fill="#3b7dbc"/>
<circle cx="456.37" cy="210.33" r="1.40" fill="#3b7dbc"/>
<circle cx="444.20" cy="218.75" r="1.40" fill="#3b7dbc"/>
<circle cx="432.30" cy="210.93" r="1.40" fill="#3b7dbc"/>
<circle cx="470.11" cy="213.37" r="1.40" fill="#3b7dbc"/>
<circle cx="444.19" cy="224.30" r="1.40" fill="#3b7dbc"/>
<circle cx="452.89" cy="214.62" r="1.40" fill="#3b7dbc"/>
<circle cx="479.91" cy="209.09" r="1.40" fill="#3b7dbc"/>
<circle cx="440.16" cy="231.78" r="1.40" fill="#3b7dbc"/>
<circle cx="469.54" cy="211.44" r="1.40" fill="#3b7dbc"/>
<circle cx="429.00" cy="219.45" r="1.40" fill="#3b7dbc"/>
<circle cx="429.01" cy="201.19" r="1.40" fill="#3b7dbc"/>
<circle cx="465.64" cy="210.09" r="1.40" fill="#3b7dbc"/>
<circle cx="448.26" cy="228.50" r="1.40" fill="#3b7dbc"/>
<circle cx="448.91" cy="225.14" r="1.40" fill="#3b7dbc"/>
<circle cx="458.62" cy="226.46" r="1.40" fill="#3b7dbc"/>
<circle cx="438.42" cy="211.85" r="1.40" fill="#3b7dbc"/>
<circle cx="472.69" cy="218.40" r="1.40" fill="#3b7dbc"/>
<circle cx="430.01" cy="215.38" r="1.40" fill="#3b7dbc"/>
<circle cx="462.07" cy="219.41" r="1.40" fill="#3b7dbc"/>
<circle cx="441.29" cy="221.87" r="1.40" fill="#3b7dbc"/>
<circle cx="434.64" cy="223.10" r="1.40" fill="#3b7dbc"/>
<circle cx="467.41" cy="209.09" r="1.40" fill="#3b7dbc"/>
<circle cx="478.23" cy="211.26" r="1.40" fill="#3b7dbc"/>
<circle cx="448.79" cy="222.00" r="1.40" fill="#3b7dbc"/>
<circle cx="448.95" cy="223.80" r="1.40" fill="#3b7dbc"/>
<circle cx="426.74" cy="217.04" r="1.40" fill="#3b7dbc"/>
<circle cx="469.95" cy="207.78" r="1.40" fill="#3b7dbc"/>
<circle cx="468.51" cy="211.30" r="1.40" fill="#3b7dbc"/>
<circle cx="440.97" cy="217.62" r="1.40" fill="#3b7dbc"/>
<circle cx="445.59" cy="223.34" r="1.40" fill="#3b7dbc"/>
<circle cx="427.88" cy="228.87" r="1.40" fill="#3b7dbc"/>
<circle cx="450.54" cy="215.39" r="1.40" fill="#3b7dbc"/>
<circle cx="444.24" cy="209.55" r="1.40" fill="#3b7dbc"/>
<circle cx="453.02" cy="212.51" r="1.40" fill="#3b7dbc"/>
<circle cx="466.98" cy="217.53" r="1.40" fill="#3b7dbc"/>
<circle cx="424.16" cy="217.24" r="1.40" fill="#3b7dbc"/>
<circle cx="441.37" cy="210.77" r="1.40" fill="#3b7dbc"/>
<circle cx="455.15" cy="209.75" r="1.40" fill="#3b7dbc"/>
<circle cx="460.87" cy="225.70" r="1.40" fill="#3b7dbc"/>
<circle cx="460.27" cy="218.03" r="1.40" fill="#3b7dbc"/>
<circle cx="440.46" cy="220.61" r="1.40" fill="#3b7dbc"/>
<circle cx="460.93" cy="209.29" r="1.40" fill="#3b7dbc"/>
<circle cx="464.19" cy="222.72" r="1.40" fill="#3b7dbc"/>
<circle cx="442.68" cy="230.90" r="1.40" fill="#3b7dbc"/>
<circle cx="449.24" cy="213.15" r="1.40" fill="#3b7dbc"/>
<circle cx="440.35" cy="216.86" r="1.40" fill="#3b7dbc"/>
<circle cx="453.72" cy="210.02" r="1.40" fill="#3b7dbc"/>
<circle cx="439.58" cy="222.96" r="1.40" fill="#3b7dbc"/>
<circle cx="440.36" cy="208.52" r="1.40" fill="#3b7dbc"/>
<circle cx="465.26" cy="214.01" r="1.40" fill="#3b7dbc"/>
<circle cx="453.64" cy="214.98" r="1.40" fill="#3b7dbc"/>
<circle cx="453.34" cy="216.82" r="1.40" fill="#3b7dbc"/>
<circle cx="446.12" cy="224.04" r="1.40" fill="#3b7dbc"/>
<circle cx="441.99" cy="208.77" r="1.40" fill="#3b7dbc"/>
<circle cx="457.82" cy="214.43" r="1.40" fill="#3b7dbc"/>
<circle cx="447.73" cy="216.42" r="1.40" fill="#3b7dbc"/>
<circle cx="455.36" cy="218.85" r="1.40" fill="#3b7dbc"/>
<circle cx="453.25" cy="214.36" r="1.40" fill="#3b7dbc"/>
<circle cx="440.56" cy="222.54" r="1.40" fill="#3b7dbc"/>
<circle cx="437.19" cy="224.72" r="1.40" fill="#3b7dbc"/>
<circle cx="462.56" cy="226.91" r="1.40" fill="#3b7dbc"/>
<circle cx="447.03" cy="220.29" r="1.40" fill="#3b7dbc"/>
<circle cx="442.29" cy="217.30" r="1.40" fill="#3b7dbc"/>
<circle cx="465.76" cy="212.81" r="1.40" fill="#3b7dbc"/>
<circle cx="448.73" cy="219.96" r="1.40" fill="#3b7dbc"/>
<circle cx="448.88" cy="211.50" r="1.40" fill="#3b7dbc"/>
<circle cx="445.32" cy="223.59" r="1.40" fill="#3b7dbc"/>
<circle cx="433.63" cy="225.66" r="1.40" fill="#3b7dbc"/>
<circle cx="431.94" cy="213.79" r="1.40" fill="#3b7dbc"/>
<circle cx="455.38" cy="216.58" r="1.40" fill="#3b7dbc"/>
<circle cx="470.21" cy="216.00" r="1.40" fill="#3b7dbc"/>
<circle cx="460.73" cy="209.79" r="1.40" fill="#3b7dbc"/>
<circle cx="429.84" cy="228.90" r="1.40" fill="#3b7dbc"/>
<circle cx="438.15" cy="213.63" r="1.40" fill="#3b7dbc"/>
<circle cx="468.02" cy="219.58" r="1.40" fill="#3b7dbc"/>
<circle cx="464.69" cy="215.56" r="1.40" fill="#3b7dbc"/>
<circle cx="445.33" cy="220.29" r="1.40" fill="#3b7dbc"/>
<circle cx="446.26" cy="227.12" r="1.40" fill="#3b7dbc"/>
<circle cx="437.16" cy="225.68" r="1.40" fill="#3b7dbc"/>
<circle cx="457.20" cy="203.35" r="1.40" fill="#3b7dbc"/>
<circle cx="482.36" cy="211.83" r="1.40" fill="#3b7dbc"/>
<circle cx="427.49" cy="223.00" r="1.40" fill="#3b7dbc"/>
<circle cx="438.00" cy="207.71" r="1.40" fill="#3b7dbc"/>
<circle cx="458.28" cy="218.73" r="1.40" fill="#3b7dbc"/>
<circle cx="463.18" cy="210.77" r="1.40" fill="#3b7dbc"/>
<circle cx="428.78" cy="223.43" r="1.40" fill="#3b7dbc"/>
<circle cx="447.40" cy="216.73" r="1.40" fill="#3b7dbc"/>
<circle cx="452.39" cy="217.73" r="1.40" fill="#3b7dbc"/>
<circle cx="453.16" cy="218.95" r="1.40" fill="#3b7dbc"/>
<circle cx="438.57" cy="210.18" r="1.40" fill="#3b7dbc"/>
<circle cx="455.45" cy="212.83" r="1.40" fill="#3b7dbc"/>
<circle cx="429.19" cy="221.33" r="1.40" fill="#3b7dbc"/>
<circle cx="461.61" cy="221.19" r="1.40" fill="#3b7dbc"/>
<circle cx="465.36" cy="215.46" r="1.40" fill="#3b7dbc"/>
<circle cx="456.02" cy="215.88" r="1.40" fill="#3b7dbc"/>
<circle cx="453.55" cy="208.97" r="1.40" fill="#3b7dbc"/>
<circle cx="445.19" cy="208.61" r="1.40" fill="#3b7dbc"/>
<circle cx="440.11" cy="223.42" r="1.40" fill="#3b7dbc"/>
<circle cx="460.16" cy="220.23" r="1.40" fill="#3b7dbc"/>
<circle cx="445.64" cy="212.16" r="1.40" fill="#3b7dbc"/>
<circle cx="466.87" cy="222.83" r="1.40" fill="#3b7dbc"/>
<circle cx="457.41" cy="204.45" r="1.40" fill="#3b7dbc"/>
<circle cx="466.66" cy="214.38" r="1.40" fill="#3b7dbc"/>
<circle cx="442.54" cy="219.43" r="1.40" fill="#3b7dbc"/>
<circle cx="435.13" cy="220.71" r="1.40" fill="#3b7dbc"/>
<circle cx="448.10" cy="217.50" r="1.40" fill="#3b7dbc"/>
<circle cx="466.49" cy="214.36" r="1.40" fill="#3b7dbc"/>
<circle cx="431.03" cy="214.23" r="1.40" fill="#3b7dbc"/>
<circle cx="436.20" cy="221.51" r="1.40" fill="#3b7dbc"/>
<circle cx="448.81" cy="218.46" r="1.40" fill="#3b7dbc"/>
<circle cx="437.14" cy="220.23" r="1.40" fill="#3b7dbc"/>
<circle cx="479.95" cy="213.80" r="1.40" fill="#3b7dbc"/>
<circle cx="448.78" cy="210.35" r="1.40" fill="#3b7dbc"/>
<circle cx="460.61" cy="210.02" r="1.40" fill="#3b7dbc"/>
<circle cx="462.19" cy="224.82" r="1.40" fill="#3b7dbc"/>
<circle cx="439.01" cy="217.77" r="1.40" fill="#3b7dbc"/>
<circle cx="457.31" cy="207.73" r="1.40" fill="#3b7dbc"/>
<circle cx="456.92" cy="216.28" r="1.40" fill="#3b7dbc"/>
<circle cx="451.14" cy="217.27" r="1.40" fill="#3b7dbc"/>
<circle cx="453.93" cy="211.82" r="1.40" fill="#3b7dbc"/>
<circle cx="446.05" cy="221.60" r="1.40" fill="#3b7dbc"/>
<circle cx="439.13" cy="212.39" r="1.40" fill="#3b7dbc"/>
<circle cx="467.82" cy="207.34" r="1.40" fill="#3b7dbc"/>
<circle cx="462.12" cy="209.34" r="1.40" fill="#3b7dbc"/>
<circle cx="450.58" cy="212.54" r="1.40" fill="#3b7dbc"/>
<circle cx="436.48" cy="220.10" r="1.40" fill="#3b7dbc"/>
<circle cx="440.76" cy="214.12" r="1.40" fill="#3b7dbc"/>
<circle cx="442.82" cy="218.33" r="1.40" fill="#3b7dbc"/>
<circle cx="455.99" cy="207.65" r="1.40" fill="#3b7dbc"/>
<circle cx="357.82" cy="258.17" r="1.40" fill="#3b7dbc"/>
<circle cx="392.00" cy="229.59" r="1.40" fill="#3b7dbc"/>
<circle cx="398.11" cy="242.50" r="1.40" fill="#3b7dbc"/>
<circle cx="406.66" cy="217.61" r="1.40" fill="#3b7dbc"/>
<circle cx="413.98" cy="261.86" r="1.40" fill="#3b7dbc"/>
<circle cx="417.64" cy="251.72" r="1.40" fill="#3b7dbc"/>
<circle cx="423.75" cy="242.50" r="1.40" fill="#3b7dbc"/>
<circle cx="412.76" cy="236.05" r="1.40" fill="#3b7dbc"/>
<circle cx="435.96" cy="252.64" r="1.40" fill="#3b7dbc"/>
<circle cx="437.18" cy="263.71" r="1.40" fill="#3b7dbc"/>
<circle cx="438.40" cy="248.95" r="1.40" fill="#3b7dbc"/>
<circle cx="443.29" cy="278.46" r="1.40" fill="#3b7dbc"/>
<circle cx="444.51" cy="261.86" r="1.40" fill="#3b7dbc"/>
<circle cx="446.95" cy="256.33" r="1.40" fill="#3b7dbc"/>
<circle cx="445.73" cy="248.03" r="1.40" fill="#3b7dbc"/>
<circle cx="449.39" cy="246.19" r="1.40" fill="#3b7dbc"/>
<circle cx="451.83" cy="286.76" r="1.40" fill="#3b7dbc"/>
<circle cx="456.72" cy="238.81" r="1.40" fill="#3b7dbc"/>
<circle cx="458.43" cy="242.50" r="1.40" fill="#3b7dbc"/>
<circle cx="459.16" cy="247.11" r="1.40" fill="#3b7dbc"/>
<circle cx="457.94" cy="258.17" r="1.40" fill="#3b7dbc"/>
<circle cx="433.52" cy="236.97" r="1.40" fill="#3b7dbc"/>
<circle cx="472.59" cy="194.56" r="1.40" fill="#3b7dbc"/>
<circle cx="468.93" cy="201.01" r="1.40" fill="#3b7dbc"/>
<circle cx="445.73" cy="200.09" r="1.40" fill="#3b7dbc"/>
<circle cx="440.84" cy="201.93" r="1.40" fill="#3b7dbc"/>
<circle cx="481.14" cy="213.92" r="1.40" fill="#3b7dbc"/>
<circle cx="473.81" cy="225.90" r="1.40" fill="#3b7dbc"/>
<circle cx="413.98" cy="218.53" r="1.40" fill="#3b7dbc"/>
<circle cx="416.42" cy="222.22" r="1.40" fill="#3b7dbc"/>
<circle cx="421.31" cy="212.07" r="1.40" fill="#3b7dbc"/>
<circle cx="418.87" cy="228.67" r="1.40" fill="#3b7dbc"/>
<circle cx="429.86" cy="233.28" r="1.40" fill="#3b7dbc"/>
<circle cx="460.38" cy="247.11" r="1.40" fill="#3b7dbc"/>
<line x1="358.20" y1="245.90" x2="481.80" y2="212.00" stroke="#e8322c" stroke-width="0.9"/>
<line x1="350.10" y1="196.40" x2="352.10" y2="196.40" stroke="#333" stroke-width="0.6"/>
<text x="350.90" y="199.36" font-size="8.60" text-anchor="end" fill="#222">12</text>
<line x1="350.10" y1="214.84" x2="352.10" y2="214.84" stroke="#333" stroke-width="0.6"/>
<text x="350.90" y="217.80" font-size="8.60" text-anchor="end" fill="#222">10</text>
<line x1="350.10" y1="233.28" x2="352.10" y2="233.28" stroke="#333" stroke-width="0.6"/>
<text x="350.90" y="236.24" font-size="8.60" text-anchor="end" fill="#222">8</text>
<line x1="350.10" y1="251.72" x2="352.10" y2="251.72" stroke="#333" stroke-width="0.6"/>
<text x="350.90" y="254.68" font-size="8.60" text-anchor="end" fill="#222">6</text>
<line x1="350.10" y1="270.16" x2="352.10" y2="270.16" stroke="#333" stroke-width="0.6"/>
<text x="350.90" y="273.12" font-size="8.60" text-anchor="end" fill="#222">4</text>
<line x1="350.10" y1="288.60" x2="352.10" y2="288.60" stroke="#333" stroke-width="0.6"/>
<text x="350.90" y="291.56" font-size="8.60" text-anchor="end" fill="#222">2</text>
<line x1="362.70" y1="291.70" x2="362.70" y2="293.70" stroke="#333" stroke-width="0.6"/>
<text x="362.70" y="301.26" font-size="8.60" text-anchor="middle" fill="#222">4</text>
<line x1="387.12" y1="291.70" x2="387.12" y2="293.70" stroke="#333" stroke-width="0.6"/>
<text x="387.12" y="301.26" font-size="8.60" text-anchor="middle" fill="#222">5</text>
<line x1="411.54" y1="291.70" x2="411.54" y2="293.70" stroke="#333" stroke-width="0.6"/>
<text x="411.54" y="301.26" font-size="8.60" text-anchor="middle" fill="#222">6</text>
<line x1="435.96" y1="291.70" x2="435.96" y2="293.70" stroke="#333" stroke-width="0.6"/>
<text x="435.96" y="301.26" font-size="8.60" text-anchor="middle" fill="#222">7</text>
<line x1="460.38" y1="291.70" x2="460.38" y2="293.70" stroke="#333" stroke-width="0.6"/>
<text x="460.38" y="301.26" font-size="8.60" text-anchor="middle" fill="#222">8</text>
<line x1="484.80" y1="291.70" x2="484.80" y2="293.70" stroke="#333" stroke-width="0.6"/>
<text x="484.80" y="301.26" font-size="8.60" text-anchor="middle" fill="#222">9</text>
<text x="420.80" y="311.05" font-size="8.57" text-anchor="middle" fill="#222">CENPE mRNA expression (log)</text>
<text x="338.26" y="242.60" font-size="6.86" text-anchor="middle" fill="#222" transform="rotate(-90 338.26 242.60)">SERPINB5 mRNA expression (log)</text>
<text x="364.00" y="199.57" font-size="4.85" text-anchor="start" font-weight="bold" fill="#111">R = 0.36</text>
<text x="364.00" y="205.17" font-size="4.85" text-anchor="start" font-weight="bold" fill="#111">P &lt; 0.001</text>
<rect x="532.40" y="191.10" width="135.60" height="101.80" fill="#fff" stroke="#9a9a9a" stroke-width="0.7"/>
<path d="M537.80,236.10 Q599.65,223.11 661.50,205.20 L661.50,210.40 Q599.65,223.59 537.80,241.70 Z" fill="#d4d4d4" fill-opacity="0.6"/>
<circle cx="586.64" cy="220.45" r="1.40" fill="#3b7dbc"/>
<circle cx="606.49" cy="221.68" r="1.40" fill="#3b7dbc"/>
<circle cx="627.67" cy="215.75" r="1.40" fill="#3b7dbc"/>
<circle cx="606.55" cy="209.02" r="1.40" fill="#3b7dbc"/>
<circle cx="602.81" cy="226.53" r="1.40" fill="#3b7dbc"/>
<circle cx="587.85" cy="224.49" r="1.40" fill="#3b7dbc"/>
<circle cx="622.42" cy="212.11" r="1.40" fill="#3b7dbc"/>
<circle cx="630.59" cy="205.45" r="1.40" fill="#3b7dbc"/>
<circle cx="640.54" cy="210.66" r="1.40" fill="#3b7dbc"/>
<circle cx="634.35" cy="211.39" r="1.40" fill="#3b7dbc"/>
<circle cx="602.22" cy="214.78" r="1.40" fill="#3b7dbc"/>
<circle cx="613.03" cy="219.02" r="1.40" fill="#3b7dbc"/>
<circle cx="646.27" cy="208.99" r="1.40" fill="#3b7dbc"/>
<circle cx="603.80" cy="219.52" r="1.40" fill="#3b7dbc"/>
<circle cx="652.28" cy="213.84" r="1.40" fill="#3b7dbc"/>
<circle cx="624.79" cy="212.74" r="1.40" fill="#3b7dbc"/>
<circle cx="620.96" cy="213.44" r="1.40" fill="#3b7dbc"/>
<circle cx="603.88" cy="221.67" r="1.40" fill="#3b7dbc"/>
<circle cx="609.41" cy="220.32" r="1.40" fill="#3b7dbc"/>
<circle cx="626.08" cy="207.37" r="1.40" fill="#3b7dbc"/>
<circle cx="596.85" cy="216.96" r="1.40" fill="#3b7dbc"/>
<circle cx="595.28" cy="224.13" r="1.40" fill="#3b7dbc"/>
<circle cx="608.05" cy="217.89" r="1.40" fill="#3b7dbc"/>
<circle cx="604.62" cy="233.63" r="1.40" fill="#3b7dbc"/>
<circle cx="636.05" cy="216.19" r="1.40" fill="#3b7dbc"/>
<circle cx="601.21" cy="215.61" r="1.40" fill="#3b7dbc"/>
<circle cx="601.87" cy="227.37" r="1.40" fill="#3b7dbc"/>
<circle cx="620.62" cy="214.42" r="1.40" fill="#3b7dbc"/>
<circle cx="597.92" cy="215.17" r="1.40" fill="#3b7dbc"/>
<circle cx="618.61" cy="223.43" r="1.40" fill="#3b7dbc"/>
<circle cx="642.36" cy="212.30" r="1.40" fill="#3b7dbc"/>
<circle cx="592.59" cy="218.07" r="1.40" fill="#3b7dbc"/>
<circle cx="614.35" cy="212.18" r="1.40" fill="#3b7dbc"/>
<circle cx="588.89" cy="215.27" r="1.40" fill="#3b7dbc"/>
<circle cx="628.40" cy="211.81" r="1.40" fill="#3b7dbc"/>
<circle cx="622.69" cy="209.11" r="1.40" fill="#3b7dbc"/>
<circle cx="624.54" cy="215.52" r="1.40" fill="#3b7dbc"/>
<circle cx="597.72" cy="213.67" r="1.40" fill="#3b7dbc"/>
<circle cx="629.08" cy="213.95" r="1.40" fill="#3b7dbc"/>
<circle cx="614.77" cy="213.53" r="1.40" fill="#3b7dbc"/>
<circle cx="570.12" cy="221.92" r="1.40" fill="#3b7dbc"/>
<circle cx="570.12" cy="222.35" r="1.40" fill="#3b7dbc"/>
<circle cx="630.35" cy="204.81" r="1.40" fill="#3b7dbc"/>
<circle cx="603.98" cy="216.66" r="1.40" fill="#3b7dbc"/>
<circle cx="610.88" cy="230.64" r="1.40" fill="#3b7dbc"/>
<circle cx="624.65" cy="216.35" r="1.40" fill="#3b7dbc"/>
<circle cx="613.24" cy="223.12" r="1.40" fill="#3b7dbc"/>
<circle cx="611.34" cy="217.63" r="1.40" fill="#3b7dbc"/>
<circle cx="634.11" cy="213.32" r="1.40" fill="#3b7dbc"/>
<circle cx="652.33" cy="214.77" r="1.40" fill="#3b7dbc"/>
<circle cx="607.48" cy="218.91" r="1.40" fill="#3b7dbc"/>
<circle cx="598.06" cy="211.41" r="1.40" fill="#3b7dbc"/>
<circle cx="623.19" cy="223.63" r="1.40" fill="#3b7dbc"/>
<circle cx="613.90" cy="211.28" r="1.40" fill="#3b7dbc"/>
<circle cx="587.57" cy="220.51" r="1.40" fill="#3b7dbc"/>
<circle cx="607.95" cy="205.44" r="1.40" fill="#3b7dbc"/>
<circle cx="619.19" cy="219.31" r="1.40" fill="#3b7dbc"/>
<circle cx="602.35" cy="208.70" r="1.40" fill="#3b7dbc"/>
<circle cx="604.00" cy="206.26" r="1.40" fill="#3b7dbc"/>
<circle cx="585.09" cy="222.76" r="1.40" fill="#3b7dbc"/>
<circle cx="607.91" cy="222.52" r="1.40" fill="#3b7dbc"/>
<circle cx="608.37" cy="214.61" r="1.40" fill="#3b7dbc"/>
<circle cx="600.57" cy="227.63" r="1.40" fill="#3b7dbc"/>
<circle cx="635.23" cy="206.57" r="1.40" fill="#3b7dbc"/>
<circle cx="600.13" cy="217.91" r="1.40" fill="#3b7dbc"/>
<circle cx="570.12" cy="217.89" r="1.40" fill="#3b7dbc"/>
<circle cx="589.08" cy="224.26" r="1.40" fill="#3b7dbc"/>
<circle cx="649.33" cy="219.99" r="1.40" fill="#3b7dbc"/>
<circle cx="612.38" cy="223.97" r="1.40" fill="#3b7dbc"/>
<circle cx="580.15" cy="228.92" r="1.40" fill="#3b7dbc"/>
<circle cx="616.69" cy="224.71" r="1.40" fill="#3b7dbc"/>
<circle cx="601.85" cy="215.31" r="1.40" fill="#3b7dbc"/>
<circle cx="609.28" cy="225.75" r="1.40" fill="#3b7dbc"/>
<circle cx="637.84" cy="213.79" r="1.40" fill="#3b7dbc"/>
<circle cx="636.25" cy="220.58" r="1.40" fill="#3b7dbc"/>
<circle cx="641.11" cy="221.60" r="1.40" fill="#3b7dbc"/>
<circle cx="581.93" cy="224.51" r="1.40" fill="#3b7dbc"/>
<circle cx="605.60" cy="217.41" r="1.40" fill="#3b7dbc"/>
<circle cx="602.34" cy="215.77" r="1.40" fill="#3b7dbc"/>
<circle cx="635.02" cy="218.53" r="1.40" fill="#3b7dbc"/>
<circle cx="588.30" cy="223.51" r="1.40" fill="#3b7dbc"/>
<circle cx="626.12" cy="211.50" r="1.40" fill="#3b7dbc"/>
<circle cx="606.02" cy="224.37" r="1.40" fill="#3b7dbc"/>
<circle cx="611.69" cy="212.64" r="1.40" fill="#3b7dbc"/>
<circle cx="599.68" cy="212.41" r="1.40" fill="#3b7dbc"/>
<circle cx="615.88" cy="215.86" r="1.40" fill="#3b7dbc"/>
<circle cx="601.18" cy="211.84" r="1.40" fill="#3b7dbc"/>
<circle cx="612.73" cy="226.29" r="1.40" fill="#3b7dbc"/>
<circle cx="626.10" cy="218.44" r="1.40" fill="#3b7dbc"/>
<circle cx="630.56" cy="214.53" r="1.40" fill="#3b7dbc"/>
<circle cx="601.19" cy="218.54" r="1.40" fill="#3b7dbc"/>
<circle cx="603.51" cy="223.83" r="1.40" fill="#3b7dbc"/>
<circle cx="612.33" cy="213.30" r="1.40" fill="#3b7dbc"/>
<circle cx="613.21" cy="218.34" r="1.40" fill="#3b7dbc"/>
<circle cx="602.42" cy="216.12" r="1.40" fill="#3b7dbc"/>
<circle cx="616.67" cy="212.00" r="1.40" fill="#3b7dbc"/>
<circle cx="618.28" cy="205.20" r="1.40" fill="#3b7dbc"/>
<circle cx="584.90" cy="222.03" r="1.40" fill="#3b7dbc"/>
<circle cx="621.17" cy="211.73" r="1.40" fill="#3b7dbc"/>
<circle cx="585.56" cy="228.50" r="1.40" fill="#3b7dbc"/>
<circle cx="611.24" cy="212.22" r="1.40" fill="#3b7dbc"/>
<circle cx="630.87" cy="223.96" r="1.40" fill="#3b7dbc"/>
<circle cx="614.20" cy="211.14" r="1.40" fill="#3b7dbc"/>
<circle cx="612.43" cy="223.75" r="1.40" fill="#3b7dbc"/>
<circle cx="599.60" cy="227.21" r="1.40" fill="#3b7dbc"/>
<circle cx="632.51" cy="216.67" r="1.40" fill="#3b7dbc"/>
<circle cx="604.57" cy="223.95" r="1.40" fill="#3b7dbc"/>
<circle cx="609.55" cy="223.46" r="1.40" fill="#3b7dbc"/>
<circle cx="595.13" cy="220.57" r="1.40" fill="#3b7dbc"/>
<circle cx="607.99" cy="216.01" r="1.40" fill="#3b7dbc"/>
<circle cx="614.47" cy="211.06" r="1.40" fill="#3b7dbc"/>
<circle cx="611.16" cy="216.68" r="1.40" fill="#3b7dbc"/>
<circle cx="615.83" cy="222.03" r="1.40" fill="#3b7dbc"/>
<circle cx="632.39" cy="218.40" r="1.40" fill="#3b7dbc"/>
<circle cx="584.72" cy="214.77" r="1.40" fill="#3b7dbc"/>
<circle cx="623.18" cy="219.67" r="1.40" fill="#3b7dbc"/>
<circle cx="628.35" cy="210.39" r="1.40" fill="#3b7dbc"/>
<circle cx="624.04" cy="222.96" r="1.40" fill="#3b7dbc"/>
<circle cx="614.98" cy="223.44" r="1.40" fill="#3b7dbc"/>
<circle cx="601.41" cy="222.64" r="1.40" fill="#3b7dbc"/>
<circle cx="597.36" cy="217.28" r="1.40" fill="#3b7dbc"/>
<circle cx="598.36" cy="216.42" r="1.40" fill="#3b7dbc"/>
<circle cx="614.87" cy="221.04" r="1.40" fill="#3b7dbc"/>
<circle cx="614.85" cy="213.79" r="1.40" fill="#3b7dbc"/>
<circle cx="631.57" cy="216.81" r="1.40" fill="#3b7dbc"/>
<circle cx="641.76" cy="210.75" r="1.40" fill="#3b7dbc"/>
<circle cx="633.33" cy="222.69" r="1.40" fill="#3b7dbc"/>
<circle cx="593.72" cy="213.77" r="1.40" fill="#3b7dbc"/>
<circle cx="608.06" cy="215.97" r="1.40" fill="#3b7dbc"/>
<circle cx="632.55" cy="223.31" r="1.40" fill="#3b7dbc"/>
<circle cx="619.67" cy="206.14" r="1.40" fill="#3b7dbc"/>
<circle cx="625.66" cy="215.66" r="1.40" fill="#3b7dbc"/>
<circle cx="621.61" cy="216.67" r="1.40" fill="#3b7dbc"/>
<circle cx="625.21" cy="208.94" r="1.40" fill="#3b7dbc"/>
<circle cx="608.04" cy="215.36" r="1.40" fill="#3b7dbc"/>
<circle cx="617.14" cy="213.17" r="1.40" fill="#3b7dbc"/>
<circle cx="626.28" cy="222.08" r="1.40" fill="#3b7dbc"/>
<circle cx="631.91" cy="210.49" r="1.40" fill="#3b7dbc"/>
<circle cx="593.15" cy="222.21" r="1.40" fill="#3b7dbc"/>
<circle cx="586.89" cy="223.09" r="1.40" fill="#3b7dbc"/>
<circle cx="617.54" cy="223.75" r="1.40" fill="#3b7dbc"/>
<circle cx="598.65" cy="224.77" r="1.40" fill="#3b7dbc"/>
<circle cx="599.99" cy="224.01" r="1.40" fill="#3b7dbc"/>
<circle cx="593.58" cy="217.38" r="1.40" fill="#3b7dbc"/>
<circle cx="608.23" cy="223.15" r="1.40" fill="#3b7dbc"/>
<circle cx="628.84" cy="218.89" r="1.40" fill="#3b7dbc"/>
<circle cx="627.25" cy="222.87" r="1.40" fill="#3b7dbc"/>
<circle cx="636.02" cy="217.25" r="1.40" fill="#3b7dbc"/>
<circle cx="595.67" cy="217.99" r="1.40" fill="#3b7dbc"/>
<circle cx="589.01" cy="227.22" r="1.40" fill="#3b7dbc"/>
<circle cx="615.97" cy="220.19" r="1.40" fill="#3b7dbc"/>
<circle cx="618.74" cy="216.33" r="1.40" fill="#3b7dbc"/>
<circle cx="616.23" cy="216.73" r="1.40" fill="#3b7dbc"/>
<circle cx="624.09" cy="216.39" r="1.40" fill="#3b7dbc"/>
<circle cx="630.82" cy="210.19" r="1.40" fill="#3b7dbc"/>
<circle cx="578.24" cy="232.46" r="1.40" fill="#3b7dbc"/>
<circle cx="638.55" cy="216.89" r="1.40" fill="#3b7dbc"/>
<circle cx="615.08" cy="218.26" r="1.40" fill="#3b7dbc"/>
<circle cx="616.59" cy="205.10" r="1.40" fill="#3b7dbc"/>
<circle cx="599.79" cy="219.36" r="1.40" fill="#3b7dbc"/>
<circle cx="611.99" cy="224.08" r="1.40" fill="#3b7dbc"/>
<circle cx="596.94" cy="221.62" r="1.40" fill="#3b7dbc"/>
<circle cx="611.60" cy="215.96" r="1.40" fill="#3b7dbc"/>
<circle cx="578.32" cy="231.40" r="1.40" fill="#3b7dbc"/>
<circle cx="640.08" cy="215.21" r="1.40" fill="#3b7dbc"/>
<circle cx="625.96" cy="218.49" r="1.40" fill="#3b7dbc"/>
<circle cx="599.73" cy="207.95" r="1.40" fill="#3b7dbc"/>
<circle cx="590.77" cy="226.02" r="1.40" fill="#3b7dbc"/>
<circle cx="623.44" cy="216.39" r="1.40" fill="#3b7dbc"/>
<circle cx="583.83" cy="221.13" r="1.40" fill="#3b7dbc"/>
<circle cx="624.35" cy="224.87" r="1.40" fill="#3b7dbc"/>
<circle cx="602.31" cy="215.00" r="1.40" fill="#3b7dbc"/>
<circle cx="644.56" cy="226.55" r="1.40" fill="#3b7dbc"/>
<circle cx="600.08" cy="219.55" r="1.40" fill="#3b7dbc"/>
<circle cx="596.27" cy="225.26" r="1.40" fill="#3b7dbc"/>
<circle cx="603.27" cy="216.39" r="1.40" fill="#3b7dbc"/>
<circle cx="593.62" cy="215.75" r="1.40" fill="#3b7dbc"/>
<circle cx="626.06" cy="211.39" r="1.40" fill="#3b7dbc"/>
<circle cx="638.09" cy="217.40" r="1.40" fill="#3b7dbc"/>
<circle cx="610.99" cy="212.63" r="1.40" fill="#3b7dbc"/>
<circle cx="633.47" cy="209.89" r="1.40" fill="#3b7dbc"/>
<circle cx="604.14" cy="221.86" r="1.40" fill="#3b7dbc"/>
<circle cx="589.36" cy="223.58" r="1.40" fill="#3b7dbc"/>
<circle cx="596.55" cy="222.90" r="1.40" fill="#3b7dbc"/>
<circle cx="605.38" cy="214.34" r="1.40" fill="#3b7dbc"/>
<circle cx="626.45" cy="216.36" r="1.40" fill="#3b7dbc"/>
<circle cx="592.34" cy="221.05" r="1.40" fill="#3b7dbc"/>
<circle cx="619.22" cy="212.32" r="1.40" fill="#3b7dbc"/>
<circle cx="615.41" cy="213.10" r="1.40" fill="#3b7dbc"/>
<circle cx="600.63" cy="216.01" r="1.40" fill="#3b7dbc"/>
<circle cx="624.43" cy="218.33" r="1.40" fill="#3b7dbc"/>
<circle cx="598.90" cy="213.01" r="1.40" fill="#3b7dbc"/>
<circle cx="594.86" cy="216.59" r="1.40" fill="#3b7dbc"/>
<circle cx="607.23" cy="220.65" r="1.40" fill="#3b7dbc"/>
<circle cx="607.51" cy="221.14" r="1.40" fill="#3b7dbc"/>
<circle cx="611.18" cy="208.28" r="1.40" fill="#3b7dbc"/>
<circle cx="636.63" cy="215.44" r="1.40" fill="#3b7dbc"/>
<circle cx="619.86" cy="211.94" r="1.40" fill="#3b7dbc"/>
<circle cx="604.58" cy="208.87" r="1.40" fill="#3b7dbc"/>
<circle cx="612.41" cy="214.57" r="1.40" fill="#3b7dbc"/>
<circle cx="537.51" cy="230.26" r="1.40" fill="#3b7dbc"/>
<circle cx="537.51" cy="258.91" r="1.40" fill="#3b7dbc"/>
<circle cx="543.18" cy="223.80" r="1.40" fill="#3b7dbc"/>
<circle cx="544.60" cy="221.95" r="1.40" fill="#3b7dbc"/>
<circle cx="550.27" cy="243.20" r="1.40" fill="#3b7dbc"/>
<circle cx="555.94" cy="221.02" r="1.40" fill="#3b7dbc"/>
<circle cx="555.94" cy="262.60" r="1.40" fill="#3b7dbc"/>
<circle cx="560.19" cy="233.96" r="1.40" fill="#3b7dbc"/>
<circle cx="563.03" cy="219.18" r="1.40" fill="#3b7dbc"/>
<circle cx="565.86" cy="252.44" r="1.40" fill="#3b7dbc"/>
<circle cx="568.70" cy="228.42" r="1.40" fill="#3b7dbc"/>
<circle cx="570.12" cy="279.24" r="1.40" fill="#3b7dbc"/>
<circle cx="572.95" cy="215.48" r="1.40" fill="#3b7dbc"/>
<circle cx="577.20" cy="249.67" r="1.40" fill="#3b7dbc"/>
<circle cx="578.62" cy="233.96" r="1.40" fill="#3b7dbc"/>
<circle cx="580.04" cy="264.45" r="1.40" fill="#3b7dbc"/>
<circle cx="581.46" cy="253.36" r="1.40" fill="#3b7dbc"/>
<circle cx="584.29" cy="236.73" r="1.40" fill="#3b7dbc"/>
<circle cx="592.80" cy="258.91" r="1.40" fill="#3b7dbc"/>
<circle cx="595.63" cy="248.74" r="1.40" fill="#3b7dbc"/>
<circle cx="598.47" cy="247.82" r="1.40" fill="#3b7dbc"/>
<circle cx="599.88" cy="245.97" r="1.40" fill="#3b7dbc"/>
<circle cx="599.88" cy="239.50" r="1.40" fill="#3b7dbc"/>
<circle cx="601.30" cy="257.06" r="1.40" fill="#3b7dbc"/>
<circle cx="602.72" cy="262.60" r="1.40" fill="#3b7dbc"/>
<circle cx="623.98" cy="243.20" r="1.40" fill="#3b7dbc"/>
<circle cx="622.56" cy="287.55" r="1.40" fill="#3b7dbc"/>
<circle cx="660.84" cy="231.19" r="1.40" fill="#3b7dbc"/>
<circle cx="655.17" cy="208.09" r="1.40" fill="#3b7dbc"/>
<circle cx="652.33" cy="210.86" r="1.40" fill="#3b7dbc"/>
<circle cx="598.47" cy="199.77" r="1.40" fill="#3b7dbc"/>
<circle cx="629.65" cy="195.15" r="1.40" fill="#3b7dbc"/>
<circle cx="601.30" cy="206.24" r="1.40" fill="#3b7dbc"/>
<circle cx="581.46" cy="212.71" r="1.40" fill="#3b7dbc"/>
<circle cx="589.96" cy="210.86" r="1.40" fill="#3b7dbc"/>
<line x1="537.80" y1="238.90" x2="661.50" y2="207.80" stroke="#e8322c" stroke-width="0.9"/>
<line x1="530.40" y1="197.00" x2="532.40" y2="197.00" stroke="#333" stroke-width="0.6"/>
<text x="531.20" y="199.96" font-size="8.60" text-anchor="end" fill="#222">12</text>
<line x1="530.40" y1="215.48" x2="532.40" y2="215.48" stroke="#333" stroke-width="0.6"/>
<text x="531.20" y="218.44" font-size="8.60" text-anchor="end" fill="#222">10</text>
<line x1="530.40" y1="233.96" x2="532.40" y2="233.96" stroke="#333" stroke-width="0.6"/>
<text x="531.20" y="236.92" font-size="8.60" text-anchor="end" fill="#222">8</text>
<line x1="530.40" y1="252.44" x2="532.40" y2="252.44" stroke="#333" stroke-width="0.6"/>
<text x="531.20" y="255.40" font-size="8.60" text-anchor="end" fill="#222">6</text>
<line x1="530.40" y1="270.92" x2="532.40" y2="270.92" stroke="#333" stroke-width="0.6"/>
<text x="531.20" y="273.88" font-size="8.60" text-anchor="end" fill="#222">4</text>
<line x1="530.40" y1="289.40" x2="532.40" y2="289.40" stroke="#333" stroke-width="0.6"/>
<text x="531.20" y="292.36" font-size="8.60" text-anchor="end" fill="#222">2</text>
<line x1="544.60" y1="292.90" x2="544.60" y2="294.90" stroke="#333" stroke-width="0.6"/>
<text x="544.60" y="302.46" font-size="8.60" text-anchor="middle" fill="#222">5</text>
<line x1="572.95" y1="292.90" x2="572.95" y2="294.90" stroke="#333" stroke-width="0.6"/>
<text x="572.95" y="302.46" font-size="8.60" text-anchor="middle" fill="#222">6</text>
<line x1="601.30" y1="292.90" x2="601.30" y2="294.90" stroke="#333" stroke-width="0.6"/>
<text x="601.30" y="302.46" font-size="8.60" text-anchor="middle" fill="#222">7</text>
<line x1="629.65" y1="292.90" x2="629.65" y2="294.90" stroke="#333" stroke-width="0.6"/>
<text x="629.65" y="302.46" font-size="8.60" text-anchor="middle" fill="#222">8</text>
<line x1="658.00" y1="292.90" x2="658.00" y2="294.90" stroke="#333" stroke-width="0.6"/>
<text x="658.00" y="302.46" font-size="8.60" text-anchor="middle" fill="#222">9</text>
<text x="599.40" y="312.05" font-size="8.57" text-anchor="middle" fill="#222">KIF16B mRNA expression (log)</text>
<text x="517.26" y="242.90" font-size="6.86" text-anchor="middle" fill="#222" transform="rotate(-90 517.26 242.90)">SERPINB5 mRNA expression (log)</text>
<text x="543.70" y="200.17" font-size="4.85" text-anchor="start" font-weight="bold" fill="#111">R = 0.44</text>
<text x="543.70" y="205.77" font-size="4.85" text-anchor="start" font-weight="bold" fill="#111">P &lt; 0.001</text>
<rect x="351.00" y="316.10" width="135.40" height="101.50" fill="#fff" stroke="#9a9a9a" stroke-width="0.7"/>
<path d="M356.60,360.30 Q418.60,348.31 480.60,330.80 L480.60,336.40 Q418.60,348.79 356.60,366.70 Z" fill="#d4d4d4" fill-opacity="0.6"/>
<circle cx="425.95" cy="335.02" r="1.40" fill="#3b7dbc"/>
<circle cx="417.07" cy="354.54" r="1.40" fill="#3b7dbc"/>
<circle cx="430.68" cy="339.10" r="1.40" fill="#3b7dbc"/>
<circle cx="432.53" cy="339.37" r="1.40" fill="#3b7dbc"/>
<circle cx="426.38" cy="346.30" r="1.40" fill="#3b7dbc"/>
<circle cx="418.37" cy="345.24" r="1.40" fill="#3b7dbc"/>
<circle cx="423.30" cy="338.14" r="1.40" fill="#3b7dbc"/>
<circle cx="436.19" cy="348.50" r="1.40" fill="#3b7dbc"/>
<circle cx="437.25" cy="341.48" r="1.40" fill="#3b7dbc"/>
<circle cx="442.65" cy="332.20" r="1.40" fill="#3b7dbc"/>
<circle cx="435.52" cy="351.47" r="1.40" fill="#3b7dbc"/>
<circle cx="436.78" cy="350.08" r="1.40" fill="#3b7dbc"/>
<circle cx="448.57" cy="343.41" r="1.40" fill="#3b7dbc"/>
<circle cx="426.00" cy="332.65" r="1.40" fill="#3b7dbc"/>
<circle cx="405.74" cy="345.45" r="1.40" fill="#3b7dbc"/>
<circle cx="414.62" cy="347.31" r="1.40" fill="#3b7dbc"/>
<circle cx="418.16" cy="340.09" r="1.40" fill="#3b7dbc"/>
<circle cx="424.57" cy="341.08" r="1.40" fill="#3b7dbc"/>
<circle cx="436.72" cy="350.94" r="1.40" fill="#3b7dbc"/>
<circle cx="446.51" cy="341.37" r="1.40" fill="#3b7dbc"/>
<circle cx="407.09" cy="349.12" r="1.40" fill="#3b7dbc"/>
<circle cx="439.74" cy="335.30" r="1.40" fill="#3b7dbc"/>
<circle cx="419.60" cy="343.11" r="1.40" fill="#3b7dbc"/>
<circle cx="431.60" cy="336.22" r="1.40" fill="#3b7dbc"/>
<circle cx="426.76" cy="337.18" r="1.40" fill="#3b7dbc"/>
<circle cx="416.96" cy="348.10" r="1.40" fill="#3b7dbc"/>
<circle cx="437.14" cy="337.18" r="1.40" fill="#3b7dbc"/>
<circle cx="427.90" cy="339.12" r="1.40" fill="#3b7dbc"/>
<circle cx="431.21" cy="337.74" r="1.40" fill="#3b7dbc"/>
<circle cx="443.63" cy="337.43" r="1.40" fill="#3b7dbc"/>
<circle cx="439.19" cy="343.20" r="1.40" fill="#3b7dbc"/>
<circle cx="421.29" cy="356.73" r="1.40" fill="#3b7dbc"/>
<circle cx="433.84" cy="341.53" r="1.40" fill="#3b7dbc"/>
<circle cx="435.45" cy="352.06" r="1.40" fill="#3b7dbc"/>
<circle cx="422.22" cy="346.46" r="1.40" fill="#3b7dbc"/>
<circle cx="405.08" cy="340.54" r="1.40" fill="#3b7dbc"/>
<circle cx="444.41" cy="347.45" r="1.40" fill="#3b7dbc"/>
<circle cx="434.32" cy="331.89" r="1.40" fill="#3b7dbc"/>
<circle cx="412.76" cy="339.02" r="1.40" fill="#3b7dbc"/>
<circle cx="449.20" cy="329.04" r="1.40" fill="#3b7dbc"/>
<circle cx="410.80" cy="350.90" r="1.40" fill="#3b7dbc"/>
<circle cx="431.26" cy="335.25" r="1.40" fill="#3b7dbc"/>
<circle cx="412.15" cy="348.95" r="1.40" fill="#3b7dbc"/>
<circle cx="414.01" cy="338.17" r="1.40" fill="#3b7dbc"/>
<circle cx="421.26" cy="340.19" r="1.40" fill="#3b7dbc"/>
<circle cx="436.96" cy="334.70" r="1.40" fill="#3b7dbc"/>
<circle cx="433.99" cy="339.76" r="1.40" fill="#3b7dbc"/>
<circle cx="443.66" cy="337.65" r="1.40" fill="#3b7dbc"/>
<circle cx="412.07" cy="347.75" r="1.40" fill="#3b7dbc"/>
<circle cx="440.37" cy="340.02" r="1.40" fill="#3b7dbc"/>
<circle cx="423.95" cy="341.68" r="1.40" fill="#3b7dbc"/>
<circle cx="457.65" cy="338.71" r="1.40" fill="#3b7dbc"/>
<circle cx="434.85" cy="338.97" r="1.40" fill="#3b7dbc"/>
<circle cx="425.01" cy="336.15" r="1.40" fill="#3b7dbc"/>
<circle cx="439.75" cy="338.62" r="1.40" fill="#3b7dbc"/>
<circle cx="410.86" cy="337.71" r="1.40" fill="#3b7dbc"/>
<circle cx="438.55" cy="341.53" r="1.40" fill="#3b7dbc"/>
<circle cx="393.90" cy="347.54" r="1.40" fill="#3b7dbc"/>
<circle cx="412.67" cy="345.93" r="1.40" fill="#3b7dbc"/>
<circle cx="421.87" cy="348.07" r="1.40" fill="#3b7dbc"/>
<circle cx="441.79" cy="339.96" r="1.40" fill="#3b7dbc"/>
<circle cx="444.71" cy="345.70" r="1.40" fill="#3b7dbc"/>
<circle cx="426.04" cy="335.02" r="1.40" fill="#3b7dbc"/>
<circle cx="432.80" cy="345.98" r="1.40" fill="#3b7dbc"/>
<circle cx="416.88" cy="347.42" r="1.40" fill="#3b7dbc"/>
<circle cx="427.43" cy="338.68" r="1.40" fill="#3b7dbc"/>
<circle cx="430.44" cy="337.89" r="1.40" fill="#3b7dbc"/>
<circle cx="439.52" cy="340.25" r="1.40" fill="#3b7dbc"/>
<circle cx="445.42" cy="335.92" r="1.40" fill="#3b7dbc"/>
<circle cx="426.11" cy="343.71" r="1.40" fill="#3b7dbc"/>
<circle cx="428.29" cy="346.68" r="1.40" fill="#3b7dbc"/>
<circle cx="410.95" cy="344.66" r="1.40" fill="#3b7dbc"/>
<circle cx="421.81" cy="340.04" r="1.40" fill="#3b7dbc"/>
<circle cx="420.70" cy="342.97" r="1.40" fill="#3b7dbc"/>
<circle cx="431.12" cy="344.77" r="1.40" fill="#3b7dbc"/>
<circle cx="431.04" cy="346.22" r="1.40" fill="#3b7dbc"/>
<circle cx="422.89" cy="338.67" r="1.40" fill="#3b7dbc"/>
<circle cx="433.58" cy="341.79" r="1.40" fill="#3b7dbc"/>
<circle cx="418.20" cy="339.92" r="1.40" fill="#3b7dbc"/>
<circle cx="454.61" cy="351.26" r="1.40" fill="#3b7dbc"/>
<circle cx="442.24" cy="339.34" r="1.40" fill="#3b7dbc"/>
<circle cx="442.87" cy="333.85" r="1.40" fill="#3b7dbc"/>
<circle cx="415.16" cy="334.41" r="1.40" fill="#3b7dbc"/>
<circle cx="420.71" cy="344.97" r="1.40" fill="#3b7dbc"/>
<circle cx="436.67" cy="341.83" r="1.40" fill="#3b7dbc"/>
<circle cx="431.96" cy="344.94" r="1.40" fill="#3b7dbc"/>
<circle cx="414.87" cy="344.26" r="1.40" fill="#3b7dbc"/>
<circle cx="414.16" cy="336.81" r="1.40" fill="#3b7dbc"/>
<circle cx="431.63" cy="334.06" r="1.40" fill="#3b7dbc"/>
<circle cx="412.12" cy="356.58" r="1.40" fill="#3b7dbc"/>
<circle cx="398.59" cy="348.76" r="1.40" fill="#3b7dbc"/>
<circle cx="411.56" cy="342.78" r="1.40" fill="#3b7dbc"/>
<circle cx="409.33" cy="353.02" r="1.40" fill="#3b7dbc"/>
<circle cx="432.10" cy="344.24" r="1.40" fill="#3b7dbc"/>
<circle cx="437.31" cy="336.68" r="1.40" fill="#3b7dbc"/>
<circle cx="433.07" cy="348.79" r="1.40" fill="#3b7dbc"/>
<circle cx="417.07" cy="331.17" r="1.40" fill="#3b7dbc"/>
<circle cx="425.44" cy="341.25" r="1.40" fill="#3b7dbc"/>
<circle cx="430.05" cy="342.43" r="1.40" fill="#3b7dbc"/>
<circle cx="426.17" cy="346.02" r="1.40" fill="#3b7dbc"/>
<circle cx="421.65" cy="354.91" r="1.40" fill="#3b7dbc"/>
<circle cx="450.25" cy="340.12" r="1.40" fill="#3b7dbc"/>
<circle cx="411.23" cy="341.93" r="1.40" fill="#3b7dbc"/>
<circle cx="437.15" cy="349.52" r="1.40" fill="#3b7dbc"/>
<circle cx="421.62" cy="334.95" r="1.40" fill="#3b7dbc"/>
<circle cx="435.51" cy="339.10" r="1.40" fill="#3b7dbc"/>
<circle cx="441.44" cy="341.46" r="1.40" fill="#3b7dbc"/>
<circle cx="424.56" cy="333.98" r="1.40" fill="#3b7dbc"/>
<circle cx="426.01" cy="343.29" r="1.40" fill="#3b7dbc"/>
<circle cx="436.76" cy="341.17" r="1.40" fill="#3b7dbc"/>
<circle cx="412.27" cy="333.97" r="1.40" fill="#3b7dbc"/>
<circle cx="427.47" cy="332.43" r="1.40" fill="#3b7dbc"/>
<circle cx="435.06" cy="346.76" r="1.40" fill="#3b7dbc"/>
<circle cx="448.63" cy="340.72" r="1.40" fill="#3b7dbc"/>
<circle cx="417.17" cy="344.22" r="1.40" fill="#3b7dbc"/>
<circle cx="400.38" cy="344.07" r="1.40" fill="#3b7dbc"/>
<circle cx="418.90" cy="345.24" r="1.40" fill="#3b7dbc"/>
<circle cx="416.76" cy="340.27" r="1.40" fill="#3b7dbc"/>
<circle cx="433.10" cy="335.72" r="1.40" fill="#3b7dbc"/>
<circle cx="450.17" cy="337.91" r="1.40" fill="#3b7dbc"/>
<circle cx="429.62" cy="340.61" r="1.40" fill="#3b7dbc"/>
<circle cx="417.78" cy="347.08" r="1.40" fill="#3b7dbc"/>
<circle cx="438.27" cy="346.04" r="1.40" fill="#3b7dbc"/>
<circle cx="403.08" cy="348.00" r="1.40" fill="#3b7dbc"/>
<circle cx="431.74" cy="333.70" r="1.40" fill="#3b7dbc"/>
<circle cx="419.06" cy="349.11" r="1.40" fill="#3b7dbc"/>
<circle cx="429.65" cy="343.23" r="1.40" fill="#3b7dbc"/>
<circle cx="431.65" cy="345.01" r="1.40" fill="#3b7dbc"/>
<circle cx="430.99" cy="345.46" r="1.40" fill="#3b7dbc"/>
<circle cx="441.23" cy="339.18" r="1.40" fill="#3b7dbc"/>
<circle cx="435.84" cy="344.00" r="1.40" fill="#3b7dbc"/>
<circle cx="409.66" cy="345.04" r="1.40" fill="#3b7dbc"/>
<circle cx="427.67" cy="336.39" r="1.40" fill="#3b7dbc"/>
<circle cx="440.95" cy="341.01" r="1.40" fill="#3b7dbc"/>
<circle cx="427.76" cy="348.24" r="1.40" fill="#3b7dbc"/>
<circle cx="427.81" cy="341.43" r="1.40" fill="#3b7dbc"/>
<circle cx="422.94" cy="349.43" r="1.40" fill="#3b7dbc"/>
<circle cx="445.01" cy="345.50" r="1.40" fill="#3b7dbc"/>
<circle cx="449.87" cy="332.90" r="1.40" fill="#3b7dbc"/>
<circle cx="448.43" cy="344.59" r="1.40" fill="#3b7dbc"/>
<circle cx="436.48" cy="349.31" r="1.40" fill="#3b7dbc"/>
<circle cx="423.60" cy="351.85" r="1.40" fill="#3b7dbc"/>
<circle cx="418.77" cy="346.74" r="1.40" fill="#3b7dbc"/>
<circle cx="440.76" cy="334.76" r="1.40" fill="#3b7dbc"/>
<circle cx="423.48" cy="344.86" r="1.40" fill="#3b7dbc"/>
<circle cx="416.04" cy="350.72" r="1.40" fill="#3b7dbc"/>
<circle cx="405.08" cy="347.01" r="1.40" fill="#3b7dbc"/>
<circle cx="435.96" cy="345.87" r="1.40" fill="#3b7dbc"/>
<circle cx="432.98" cy="348.46" r="1.40" fill="#3b7dbc"/>
<circle cx="415.19" cy="347.42" r="1.40" fill="#3b7dbc"/>
<circle cx="439.67" cy="344.01" r="1.40" fill="#3b7dbc"/>
<circle cx="438.12" cy="343.25" r="1.40" fill="#3b7dbc"/>
<circle cx="413.85" cy="355.92" r="1.40" fill="#3b7dbc"/>
<circle cx="422.04" cy="348.90" r="1.40" fill="#3b7dbc"/>
<circle cx="439.90" cy="338.55" r="1.40" fill="#3b7dbc"/>
<circle cx="406.97" cy="340.84" r="1.40" fill="#3b7dbc"/>
<circle cx="435.04" cy="358.03" r="1.40" fill="#3b7dbc"/>
<circle cx="414.64" cy="343.16" r="1.40" fill="#3b7dbc"/>
<circle cx="407.53" cy="349.60" r="1.40" fill="#3b7dbc"/>
<circle cx="434.84" cy="340.36" r="1.40" fill="#3b7dbc"/>
<circle cx="433.93" cy="338.45" r="1.40" fill="#3b7dbc"/>
<circle cx="416.72" cy="330.86" r="1.40" fill="#3b7dbc"/>
<circle cx="434.84" cy="329.76" r="1.40" fill="#3b7dbc"/>
<circle cx="424.67" cy="340.02" r="1.40" fill="#3b7dbc"/>
<circle cx="432.49" cy="342.93" r="1.40" fill="#3b7dbc"/>
<circle cx="432.13" cy="340.70" r="1.40" fill="#3b7dbc"/>
<circle cx="438.56" cy="339.47" r="1.40" fill="#3b7dbc"/>
<circle cx="428.81" cy="339.87" r="1.40" fill="#3b7dbc"/>
<circle cx="446.69" cy="339.74" r="1.40" fill="#3b7dbc"/>
<circle cx="435.86" cy="340.85" r="1.40" fill="#3b7dbc"/>
<circle cx="402.82" cy="351.22" r="1.40" fill="#3b7dbc"/>
<circle cx="416.26" cy="352.11" r="1.40" fill="#3b7dbc"/>
<circle cx="420.09" cy="353.68" r="1.40" fill="#3b7dbc"/>
<circle cx="431.51" cy="345.24" r="1.40" fill="#3b7dbc"/>
<circle cx="443.80" cy="338.41" r="1.40" fill="#3b7dbc"/>
<circle cx="411.69" cy="346.20" r="1.40" fill="#3b7dbc"/>
<circle cx="428.62" cy="346.44" r="1.40" fill="#3b7dbc"/>
<circle cx="423.39" cy="349.42" r="1.40" fill="#3b7dbc"/>
<circle cx="418.63" cy="342.49" r="1.40" fill="#3b7dbc"/>
<circle cx="423.75" cy="336.60" r="1.40" fill="#3b7dbc"/>
<circle cx="400.86" cy="350.91" r="1.40" fill="#3b7dbc"/>
<circle cx="423.24" cy="335.18" r="1.40" fill="#3b7dbc"/>
<circle cx="442.24" cy="336.59" r="1.40" fill="#3b7dbc"/>
<circle cx="440.45" cy="332.18" r="1.40" fill="#3b7dbc"/>
<circle cx="436.59" cy="342.90" r="1.40" fill="#3b7dbc"/>
<circle cx="430.26" cy="346.49" r="1.40" fill="#3b7dbc"/>
<circle cx="425.02" cy="341.14" r="1.40" fill="#3b7dbc"/>
<circle cx="421.46" cy="343.12" r="1.40" fill="#3b7dbc"/>
<circle cx="422.33" cy="350.90" r="1.40" fill="#3b7dbc"/>
<circle cx="409.47" cy="341.51" r="1.40" fill="#3b7dbc"/>
<circle cx="428.25" cy="338.18" r="1.40" fill="#3b7dbc"/>
<circle cx="426.52" cy="343.10" r="1.40" fill="#3b7dbc"/>
<circle cx="431.20" cy="344.27" r="1.40" fill="#3b7dbc"/>
<circle cx="445.40" cy="334.88" r="1.40" fill="#3b7dbc"/>
<circle cx="432.84" cy="347.98" r="1.40" fill="#3b7dbc"/>
<circle cx="420.90" cy="342.70" r="1.40" fill="#3b7dbc"/>
<circle cx="442.51" cy="341.11" r="1.40" fill="#3b7dbc"/>
<circle cx="427.33" cy="340.08" r="1.40" fill="#3b7dbc"/>
<circle cx="429.14" cy="343.61" r="1.40" fill="#3b7dbc"/>
<circle cx="413.25" cy="338.15" r="1.40" fill="#3b7dbc"/>
<circle cx="356.93" cy="368.70" r="1.40" fill="#3b7dbc"/>
<circle cx="362.03" cy="349.30" r="1.40" fill="#3b7dbc"/>
<circle cx="372.23" cy="355.76" r="1.40" fill="#3b7dbc"/>
<circle cx="378.60" cy="384.41" r="1.40" fill="#3b7dbc"/>
<circle cx="381.15" cy="362.23" r="1.40" fill="#3b7dbc"/>
<circle cx="381.15" cy="377.94" r="1.40" fill="#3b7dbc"/>
<circle cx="383.70" cy="350.22" r="1.40" fill="#3b7dbc"/>
<circle cx="382.43" cy="353.92" r="1.40" fill="#3b7dbc"/>
<circle cx="390.07" cy="341.90" r="1.40" fill="#3b7dbc"/>
<circle cx="392.62" cy="362.23" r="1.40" fill="#3b7dbc"/>
<circle cx="393.90" cy="387.18" r="1.40" fill="#3b7dbc"/>
<circle cx="399.00" cy="337.28" r="1.40" fill="#3b7dbc"/>
<circle cx="409.20" cy="360.38" r="1.40" fill="#3b7dbc"/>
<circle cx="410.48" cy="375.17" r="1.40" fill="#3b7dbc"/>
<circle cx="414.30" cy="378.86" r="1.40" fill="#3b7dbc"/>
<circle cx="415.57" cy="389.95" r="1.40" fill="#3b7dbc"/>
<circle cx="414.30" cy="404.74" r="1.40" fill="#3b7dbc"/>
<circle cx="415.57" cy="367.78" r="1.40" fill="#3b7dbc"/>
<circle cx="419.40" cy="372.40" r="1.40" fill="#3b7dbc"/>
<circle cx="421.95" cy="373.32" r="1.40" fill="#3b7dbc"/>
<circle cx="424.50" cy="368.70" r="1.40" fill="#3b7dbc"/>
<circle cx="425.78" cy="372.40" r="1.40" fill="#3b7dbc"/>
<circle cx="427.05" cy="382.56" r="1.40" fill="#3b7dbc"/>
<circle cx="427.05" cy="413.05" r="1.40" fill="#3b7dbc"/>
<circle cx="434.70" cy="384.41" r="1.40" fill="#3b7dbc"/>
<circle cx="439.80" cy="387.18" r="1.40" fill="#3b7dbc"/>
<circle cx="442.35" cy="356.69" r="1.40" fill="#3b7dbc"/>
<circle cx="447.45" cy="354.84" r="1.40" fill="#3b7dbc"/>
<circle cx="457.65" cy="320.65" r="1.40" fill="#3b7dbc"/>
<circle cx="458.93" cy="350.22" r="1.40" fill="#3b7dbc"/>
<circle cx="466.58" cy="350.22" r="1.40" fill="#3b7dbc"/>
<circle cx="467.85" cy="338.21" r="1.40" fill="#3b7dbc"/>
<circle cx="475.50" cy="340.06" r="1.40" fill="#3b7dbc"/>
<circle cx="480.60" cy="353.92" r="1.40" fill="#3b7dbc"/>
<circle cx="450.00" cy="326.20" r="1.40" fill="#3b7dbc"/>
<circle cx="388.80" cy="345.60" r="1.40" fill="#3b7dbc"/>
<line x1="356.60" y1="363.50" x2="480.60" y2="333.60" stroke="#e8322c" stroke-width="0.9"/>
<line x1="349.00" y1="322.50" x2="351.00" y2="322.50" stroke="#333" stroke-width="0.6"/>
<text x="349.80" y="325.46" font-size="8.60" text-anchor="end" fill="#222">12</text>
<line x1="349.00" y1="340.98" x2="351.00" y2="340.98" stroke="#333" stroke-width="0.6"/>
<text x="349.80" y="343.94" font-size="8.60" text-anchor="end" fill="#222">10</text>
<line x1="349.00" y1="359.46" x2="351.00" y2="359.46" stroke="#333" stroke-width="0.6"/>
<text x="349.80" y="362.42" font-size="8.60" text-anchor="end" fill="#222">8</text>
<line x1="349.00" y1="377.94" x2="351.00" y2="377.94" stroke="#333" stroke-width="0.6"/>
<text x="349.80" y="380.90" font-size="8.60" text-anchor="end" fill="#222">6</text>
<line x1="349.00" y1="396.42" x2="351.00" y2="396.42" stroke="#333" stroke-width="0.6"/>
<text x="349.80" y="399.38" font-size="8.60" text-anchor="end" fill="#222">4</text>
<line x1="349.00" y1="414.90" x2="351.00" y2="414.90" stroke="#333" stroke-width="0.6"/>
<text x="349.80" y="417.86" font-size="8.60" text-anchor="end" fill="#222">2</text>
<line x1="363.30" y1="417.60" x2="363.30" y2="419.60" stroke="#333" stroke-width="0.6"/>
<text x="363.30" y="427.16" font-size="8.60" text-anchor="middle" fill="#222">5</text>
<line x1="388.80" y1="417.60" x2="388.80" y2="419.60" stroke="#333" stroke-width="0.6"/>
<text x="388.80" y="427.16" font-size="8.60" text-anchor="middle" fill="#222">6</text>
<line x1="414.30" y1="417.60" x2="414.30" y2="419.60" stroke="#333" stroke-width="0.6"/>
<text x="414.30" y="427.16" font-size="8.60" text-anchor="middle" fill="#222">7</text>
<line x1="439.80" y1="417.60" x2="439.80" y2="419.60" stroke="#333" stroke-width="0.6"/>
<text x="439.80" y="427.16" font-size="8.60" text-anchor="middle" fill="#222">8</text>
<line x1="465.30" y1="417.60" x2="465.30" y2="419.60" stroke="#333" stroke-width="0.6"/>
<text x="465.30" y="427.16" font-size="8.60" text-anchor="middle" fill="#222">9</text>
<text x="419.60" y="437.75" font-size="8.57" text-anchor="middle" fill="#222">KIF21A mRNA expression (log)</text>
<text x="337.86" y="369.60" font-size="6.86" text-anchor="middle" fill="#222" transform="rotate(-90 337.86 369.60)">SERPINB5 mRNA expression (log)</text>
<text x="363.30" y="326.77" font-size="4.85" text-anchor="start" font-weight="bold" fill="#111">R = 0.37</text>
<text x="363.30" y="332.37" font-size="4.85" text-anchor="start" font-weight="bold" fill="#111">P &lt; 0.001</text>
<rect x="533.30" y="316.90" width="135.10" height="101.30" fill="#fff" stroke="#9a9a9a" stroke-width="0.7"/>
<path d="M538.00,355.90 Q600.15,349.05 662.30,336.90 L662.30,341.30 Q600.15,349.45 538.00,362.90 Z" fill="#d4d4d4" fill-opacity="0.6"/>
<circle cx="635.31" cy="336.54" r="1.40" fill="#3b7dbc"/>
<circle cx="582.60" cy="356.60" r="1.40" fill="#3b7dbc"/>
<circle cx="608.43" cy="339.66" r="1.40" fill="#3b7dbc"/>
<circle cx="607.51" cy="352.10" r="1.40" fill="#3b7dbc"/>
<circle cx="600.40" cy="336.49" r="1.40" fill="#3b7dbc"/>
<circle cx="582.39" cy="339.97" r="1.40" fill="#3b7dbc"/>
<circle cx="621.14" cy="340.29" r="1.40" fill="#3b7dbc"/>
<circle cx="626.10" cy="345.66" r="1.40" fill="#3b7dbc"/>
<circle cx="608.09" cy="333.88" r="1.40" fill="#3b7dbc"/>
<circle cx="602.65" cy="346.67" r="1.40" fill="#3b7dbc"/>
<circle cx="581.99" cy="348.45" r="1.40" fill="#3b7dbc"/>
<circle cx="625.55" cy="335.69" r="1.40" fill="#3b7dbc"/>
<circle cx="623.70" cy="339.26" r="1.40" fill="#3b7dbc"/>
<circle cx="622.42" cy="341.00" r="1.40" fill="#3b7dbc"/>
<circle cx="630.99" cy="343.04" r="1.40" fill="#3b7dbc"/>
<circle cx="632.32" cy="342.52" r="1.40" fill="#3b7dbc"/>
<circle cx="578.26" cy="353.19" r="1.40" fill="#3b7dbc"/>
<circle cx="606.67" cy="346.54" r="1.40" fill="#3b7dbc"/>
<circle cx="586.05" cy="349.74" r="1.40" fill="#3b7dbc"/>
<circle cx="614.30" cy="341.22" r="1.40" fill="#3b7dbc"/>
<circle cx="627.75" cy="347.23" r="1.40" fill="#3b7dbc"/>
<circle cx="618.22" cy="337.45" r="1.40" fill="#3b7dbc"/>
<circle cx="617.72" cy="333.45" r="1.40" fill="#3b7dbc"/>
<circle cx="601.03" cy="344.45" r="1.40" fill="#3b7dbc"/>
<circle cx="614.15" cy="345.68" r="1.40" fill="#3b7dbc"/>
<circle cx="609.57" cy="342.52" r="1.40" fill="#3b7dbc"/>
<circle cx="609.89" cy="346.54" r="1.40" fill="#3b7dbc"/>
<circle cx="601.62" cy="344.80" r="1.40" fill="#3b7dbc"/>
<circle cx="579.78" cy="344.96" r="1.40" fill="#3b7dbc"/>
<circle cx="588.60" cy="346.69" r="1.40" fill="#3b7dbc"/>
<circle cx="588.78" cy="344.77" r="1.40" fill="#3b7dbc"/>
<circle cx="603.00" cy="345.71" r="1.40" fill="#3b7dbc"/>
<circle cx="595.74" cy="344.18" r="1.40" fill="#3b7dbc"/>
<circle cx="642.43" cy="351.29" r="1.40" fill="#3b7dbc"/>
<circle cx="620.84" cy="341.74" r="1.40" fill="#3b7dbc"/>
<circle cx="602.86" cy="351.26" r="1.40" fill="#3b7dbc"/>
<circle cx="642.06" cy="340.41" r="1.40" fill="#3b7dbc"/>
<circle cx="630.53" cy="344.31" r="1.40" fill="#3b7dbc"/>
<circle cx="595.31" cy="338.94" r="1.40" fill="#3b7dbc"/>
<circle cx="625.26" cy="344.30" r="1.40" fill="#3b7dbc"/>
<circle cx="606.25" cy="340.65" r="1.40" fill="#3b7dbc"/>
<circle cx="594.65" cy="349.44" r="1.40" fill="#3b7dbc"/>
<circle cx="609.73" cy="338.29" r="1.40" fill="#3b7dbc"/>
<circle cx="627.69" cy="341.45" r="1.40" fill="#3b7dbc"/>
<circle cx="637.37" cy="342.59" r="1.40" fill="#3b7dbc"/>
<circle cx="600.79" cy="331.66" r="1.40" fill="#3b7dbc"/>
<circle cx="600.75" cy="341.17" r="1.40" fill="#3b7dbc"/>
<circle cx="621.66" cy="342.25" r="1.40" fill="#3b7dbc"/>
<circle cx="615.13" cy="339.59" r="1.40" fill="#3b7dbc"/>
<circle cx="621.63" cy="346.07" r="1.40" fill="#3b7dbc"/>
<circle cx="610.74" cy="336.15" r="1.40" fill="#3b7dbc"/>
<circle cx="625.15" cy="344.99" r="1.40" fill="#3b7dbc"/>
<circle cx="611.91" cy="348.98" r="1.40" fill="#3b7dbc"/>
<circle cx="585.10" cy="348.42" r="1.40" fill="#3b7dbc"/>
<circle cx="642.51" cy="344.74" r="1.40" fill="#3b7dbc"/>
<circle cx="571.49" cy="347.15" r="1.40" fill="#3b7dbc"/>
<circle cx="597.11" cy="340.65" r="1.40" fill="#3b7dbc"/>
<circle cx="635.26" cy="343.69" r="1.40" fill="#3b7dbc"/>
<circle cx="613.09" cy="348.36" r="1.40" fill="#3b7dbc"/>
<circle cx="634.65" cy="345.89" r="1.40" fill="#3b7dbc"/>
<circle cx="611.30" cy="330.72" r="1.40" fill="#3b7dbc"/>
<circle cx="592.32" cy="344.10" r="1.40" fill="#3b7dbc"/>
<circle cx="609.73" cy="341.22" r="1.40" fill="#3b7dbc"/>
<circle cx="620.03" cy="334.91" r="1.40" fill="#3b7dbc"/>
<circle cx="620.48" cy="339.69" r="1.40" fill="#3b7dbc"/>
<circle cx="586.35" cy="343.25" r="1.40" fill="#3b7dbc"/>
<circle cx="584.40" cy="338.99" r="1.40" fill="#3b7dbc"/>
<circle cx="609.66" cy="338.48" r="1.40" fill="#3b7dbc"/>
<circle cx="600.97" cy="343.12" r="1.40" fill="#3b7dbc"/>
<circle cx="612.48" cy="340.52" r="1.40" fill="#3b7dbc"/>
<circle cx="608.73" cy="346.99" r="1.40" fill="#3b7dbc"/>
<circle cx="603.40" cy="347.71" r="1.40" fill="#3b7dbc"/>
<circle cx="592.55" cy="351.57" r="1.40" fill="#3b7dbc"/>
<circle cx="581.85" cy="335.53" r="1.40" fill="#3b7dbc"/>
<circle cx="596.14" cy="350.73" r="1.40" fill="#3b7dbc"/>
<circle cx="630.41" cy="340.67" r="1.40" fill="#3b7dbc"/>
<circle cx="608.18" cy="337.68" r="1.40" fill="#3b7dbc"/>
<circle cx="647.63" cy="345.57" r="1.40" fill="#3b7dbc"/>
<circle cx="638.93" cy="338.49" r="1.40" fill="#3b7dbc"/>
<circle cx="633.80" cy="344.85" r="1.40" fill="#3b7dbc"/>
<circle cx="644.03" cy="334.91" r="1.40" fill="#3b7dbc"/>
<circle cx="559.62" cy="340.49" r="1.40" fill="#3b7dbc"/>
<circle cx="637.44" cy="349.22" r="1.40" fill="#3b7dbc"/>
<circle cx="617.44" cy="344.13" r="1.40" fill="#3b7dbc"/>
<circle cx="615.21" cy="347.99" r="1.40" fill="#3b7dbc"/>
<circle cx="623.62" cy="338.71" r="1.40" fill="#3b7dbc"/>
<circle cx="608.79" cy="344.17" r="1.40" fill="#3b7dbc"/>
<circle cx="576.62" cy="343.19" r="1.40" fill="#3b7dbc"/>
<circle cx="585.56" cy="345.37" r="1.40" fill="#3b7dbc"/>
<circle cx="594.93" cy="330.65" r="1.40" fill="#3b7dbc"/>
<circle cx="610.85" cy="335.30" r="1.40" fill="#3b7dbc"/>
<circle cx="610.07" cy="343.94" r="1.40" fill="#3b7dbc"/>
<circle cx="625.40" cy="342.76" r="1.40" fill="#3b7dbc"/>
<circle cx="653.23" cy="341.53" r="1.40" fill="#3b7dbc"/>
<circle cx="643.01" cy="347.77" r="1.40" fill="#3b7dbc"/>
<circle cx="592.80" cy="341.42" r="1.40" fill="#3b7dbc"/>
<circle cx="583.49" cy="334.95" r="1.40" fill="#3b7dbc"/>
<circle cx="621.35" cy="342.41" r="1.40" fill="#3b7dbc"/>
<circle cx="646.00" cy="343.89" r="1.40" fill="#3b7dbc"/>
<circle cx="595.94" cy="358.88" r="1.40" fill="#3b7dbc"/>
<circle cx="572.27" cy="348.11" r="1.40" fill="#3b7dbc"/>
<circle cx="569.55" cy="342.54" r="1.40" fill="#3b7dbc"/>
<circle cx="630.29" cy="339.77" r="1.40" fill="#3b7dbc"/>
<circle cx="578.46" cy="350.71" r="1.40" fill="#3b7dbc"/>
<circle cx="583.32" cy="341.80" r="1.40" fill="#3b7dbc"/>
<circle cx="631.26" cy="343.41" r="1.40" fill="#3b7dbc"/>
<circle cx="612.07" cy="342.33" r="1.40" fill="#3b7dbc"/>
<circle cx="625.44" cy="347.50" r="1.40" fill="#3b7dbc"/>
<circle cx="591.71" cy="340.76" r="1.40" fill="#3b7dbc"/>
<circle cx="620.98" cy="340.28" r="1.40" fill="#3b7dbc"/>
<circle cx="611.89" cy="339.39" r="1.40" fill="#3b7dbc"/>
<circle cx="620.23" cy="346.28" r="1.40" fill="#3b7dbc"/>
<circle cx="644.92" cy="335.22" r="1.40" fill="#3b7dbc"/>
<circle cx="605.97" cy="344.56" r="1.40" fill="#3b7dbc"/>
<circle cx="596.46" cy="352.35" r="1.40" fill="#3b7dbc"/>
<circle cx="589.78" cy="353.04" r="1.40" fill="#3b7dbc"/>
<circle cx="597.60" cy="342.87" r="1.40" fill="#3b7dbc"/>
<circle cx="609.47" cy="351.63" r="1.40" fill="#3b7dbc"/>
<circle cx="606.78" cy="347.43" r="1.40" fill="#3b7dbc"/>
<circle cx="588.76" cy="339.21" r="1.40" fill="#3b7dbc"/>
<circle cx="589.81" cy="340.24" r="1.40" fill="#3b7dbc"/>
<circle cx="576.88" cy="344.63" r="1.40" fill="#3b7dbc"/>
<circle cx="596.65" cy="339.43" r="1.40" fill="#3b7dbc"/>
<circle cx="618.80" cy="347.38" r="1.40" fill="#3b7dbc"/>
<circle cx="623.52" cy="335.72" r="1.40" fill="#3b7dbc"/>
<circle cx="637.39" cy="333.63" r="1.40" fill="#3b7dbc"/>
<circle cx="603.61" cy="332.34" r="1.40" fill="#3b7dbc"/>
<circle cx="598.98" cy="345.28" r="1.40" fill="#3b7dbc"/>
<circle cx="579.94" cy="347.10" r="1.40" fill="#3b7dbc"/>
<circle cx="581.71" cy="345.17" r="1.40" fill="#3b7dbc"/>
<circle cx="575.50" cy="335.97" r="1.40" fill="#3b7dbc"/>
<circle cx="627.12" cy="333.68" r="1.40" fill="#3b7dbc"/>
<circle cx="634.43" cy="341.02" r="1.40" fill="#3b7dbc"/>
<circle cx="620.38" cy="341.83" r="1.40" fill="#3b7dbc"/>
<circle cx="573.05" cy="352.86" r="1.40" fill="#3b7dbc"/>
<circle cx="602.98" cy="339.03" r="1.40" fill="#3b7dbc"/>
<circle cx="583.07" cy="344.62" r="1.40" fill="#3b7dbc"/>
<circle cx="599.33" cy="340.38" r="1.40" fill="#3b7dbc"/>
<circle cx="626.18" cy="348.26" r="1.40" fill="#3b7dbc"/>
<circle cx="587.94" cy="337.17" r="1.40" fill="#3b7dbc"/>
<circle cx="632.15" cy="342.21" r="1.40" fill="#3b7dbc"/>
<circle cx="627.79" cy="342.04" r="1.40" fill="#3b7dbc"/>
<circle cx="620.52" cy="345.07" r="1.40" fill="#3b7dbc"/>
<circle cx="621.92" cy="333.55" r="1.40" fill="#3b7dbc"/>
<circle cx="640.31" cy="334.44" r="1.40" fill="#3b7dbc"/>
<circle cx="613.49" cy="338.08" r="1.40" fill="#3b7dbc"/>
<circle cx="602.27" cy="345.88" r="1.40" fill="#3b7dbc"/>
<circle cx="613.91" cy="349.42" r="1.40" fill="#3b7dbc"/>
<circle cx="614.89" cy="352.83" r="1.40" fill="#3b7dbc"/>
<circle cx="644.02" cy="336.50" r="1.40" fill="#3b7dbc"/>
<circle cx="617.01" cy="347.02" r="1.40" fill="#3b7dbc"/>
<circle cx="598.90" cy="346.65" r="1.40" fill="#3b7dbc"/>
<circle cx="577.51" cy="348.40" r="1.40" fill="#3b7dbc"/>
<circle cx="592.53" cy="340.26" r="1.40" fill="#3b7dbc"/>
<circle cx="638.01" cy="333.57" r="1.40" fill="#3b7dbc"/>
<circle cx="583.63" cy="353.21" r="1.40" fill="#3b7dbc"/>
<circle cx="639.92" cy="337.13" r="1.40" fill="#3b7dbc"/>
<circle cx="632.37" cy="338.33" r="1.40" fill="#3b7dbc"/>
<circle cx="615.78" cy="331.46" r="1.40" fill="#3b7dbc"/>
<circle cx="628.58" cy="338.53" r="1.40" fill="#3b7dbc"/>
<circle cx="590.73" cy="344.20" r="1.40" fill="#3b7dbc"/>
<circle cx="638.19" cy="338.47" r="1.40" fill="#3b7dbc"/>
<circle cx="629.46" cy="343.29" r="1.40" fill="#3b7dbc"/>
<circle cx="625.39" cy="345.68" r="1.40" fill="#3b7dbc"/>
<circle cx="607.24" cy="337.92" r="1.40" fill="#3b7dbc"/>
<circle cx="645.36" cy="342.86" r="1.40" fill="#3b7dbc"/>
<circle cx="606.60" cy="345.21" r="1.40" fill="#3b7dbc"/>
<circle cx="607.14" cy="343.71" r="1.40" fill="#3b7dbc"/>
<circle cx="628.79" cy="340.36" r="1.40" fill="#3b7dbc"/>
<circle cx="610.85" cy="341.12" r="1.40" fill="#3b7dbc"/>
<circle cx="575.05" cy="347.06" r="1.40" fill="#3b7dbc"/>
<circle cx="650.95" cy="346.38" r="1.40" fill="#3b7dbc"/>
<circle cx="599.09" cy="343.02" r="1.40" fill="#3b7dbc"/>
<circle cx="631.29" cy="343.56" r="1.40" fill="#3b7dbc"/>
<circle cx="589.56" cy="336.62" r="1.40" fill="#3b7dbc"/>
<circle cx="563.58" cy="352.09" r="1.40" fill="#3b7dbc"/>
<circle cx="595.65" cy="357.68" r="1.40" fill="#3b7dbc"/>
<circle cx="638.36" cy="330.76" r="1.40" fill="#3b7dbc"/>
<circle cx="580.13" cy="348.20" r="1.40" fill="#3b7dbc"/>
<circle cx="605.70" cy="340.15" r="1.40" fill="#3b7dbc"/>
<circle cx="606.90" cy="340.76" r="1.40" fill="#3b7dbc"/>
<circle cx="620.44" cy="343.72" r="1.40" fill="#3b7dbc"/>
<circle cx="611.82" cy="335.77" r="1.40" fill="#3b7dbc"/>
<circle cx="614.47" cy="339.76" r="1.40" fill="#3b7dbc"/>
<circle cx="610.22" cy="339.71" r="1.40" fill="#3b7dbc"/>
<circle cx="643.83" cy="340.73" r="1.40" fill="#3b7dbc"/>
<circle cx="601.02" cy="348.49" r="1.40" fill="#3b7dbc"/>
<circle cx="631.50" cy="346.44" r="1.40" fill="#3b7dbc"/>
<circle cx="620.37" cy="328.85" r="1.40" fill="#3b7dbc"/>
<circle cx="615.21" cy="333.34" r="1.40" fill="#3b7dbc"/>
<circle cx="611.13" cy="344.10" r="1.40" fill="#3b7dbc"/>
<circle cx="622.67" cy="347.64" r="1.40" fill="#3b7dbc"/>
<circle cx="561.36" cy="347.53" r="1.40" fill="#3b7dbc"/>
<circle cx="596.05" cy="343.57" r="1.40" fill="#3b7dbc"/>
<circle cx="650.83" cy="337.26" r="1.40" fill="#3b7dbc"/>
<circle cx="579.70" cy="343.55" r="1.40" fill="#3b7dbc"/>
<circle cx="574.47" cy="358.45" r="1.40" fill="#3b7dbc"/>
<circle cx="653.23" cy="345.73" r="1.40" fill="#3b7dbc"/>
<circle cx="565.82" cy="347.36" r="1.40" fill="#3b7dbc"/>
<circle cx="606.85" cy="341.33" r="1.40" fill="#3b7dbc"/>
<circle cx="537.24" cy="384.74" r="1.40" fill="#3b7dbc"/>
<circle cx="539.27" cy="343.87" r="1.40" fill="#3b7dbc"/>
<circle cx="543.34" cy="368.95" r="1.40" fill="#3b7dbc"/>
<circle cx="555.55" cy="355.94" r="1.40" fill="#3b7dbc"/>
<circle cx="557.59" cy="378.24" r="1.40" fill="#3b7dbc"/>
<circle cx="565.73" cy="362.45" r="1.40" fill="#3b7dbc"/>
<circle cx="567.76" cy="338.29" r="1.40" fill="#3b7dbc"/>
<circle cx="571.83" cy="405.18" r="1.40" fill="#3b7dbc"/>
<circle cx="573.87" cy="363.38" r="1.40" fill="#3b7dbc"/>
<circle cx="577.94" cy="387.53" r="1.40" fill="#3b7dbc"/>
<circle cx="577.94" cy="325.29" r="1.40" fill="#3b7dbc"/>
<circle cx="582.01" cy="359.66" r="1.40" fill="#3b7dbc"/>
<circle cx="588.11" cy="368.95" r="1.40" fill="#3b7dbc"/>
<circle cx="592.18" cy="389.39" r="1.40" fill="#3b7dbc"/>
<circle cx="594.22" cy="413.54" r="1.40" fill="#3b7dbc"/>
<circle cx="596.25" cy="388.46" r="1.40" fill="#3b7dbc"/>
<circle cx="600.32" cy="368.95" r="1.40" fill="#3b7dbc"/>
<circle cx="602.36" cy="379.17" r="1.40" fill="#3b7dbc"/>
<circle cx="612.53" cy="375.45" r="1.40" fill="#3b7dbc"/>
<circle cx="614.57" cy="382.88" r="1.40" fill="#3b7dbc"/>
<circle cx="614.57" cy="385.67" r="1.40" fill="#3b7dbc"/>
<circle cx="616.60" cy="374.52" r="1.40" fill="#3b7dbc"/>
<circle cx="622.71" cy="373.60" r="1.40" fill="#3b7dbc"/>
<circle cx="624.74" cy="362.45" r="1.40" fill="#3b7dbc"/>
<circle cx="636.95" cy="372.67" r="1.40" fill="#3b7dbc"/>
<circle cx="636.95" cy="370.81" r="1.40" fill="#3b7dbc"/>
<circle cx="636.95" cy="365.23" r="1.40" fill="#3b7dbc"/>
<circle cx="659.34" cy="356.87" r="1.40" fill="#3b7dbc"/>
<circle cx="659.34" cy="354.09" r="1.40" fill="#3b7dbc"/>
<circle cx="661.37" cy="341.08" r="1.40" fill="#3b7dbc"/>
<circle cx="649.16" cy="349.44" r="1.40" fill="#3b7dbc"/>
<circle cx="636.95" cy="329.93" r="1.40" fill="#3b7dbc"/>
<circle cx="620.67" cy="320.64" r="1.40" fill="#3b7dbc"/>
<circle cx="596.25" cy="331.79" r="1.40" fill="#3b7dbc"/>
<line x1="538.00" y1="359.40" x2="662.30" y2="339.10" stroke="#e8322c" stroke-width="0.9"/>
<line x1="531.30" y1="322.50" x2="533.30" y2="322.50" stroke="#333" stroke-width="0.6"/>
<text x="532.10" y="325.46" font-size="8.60" text-anchor="end" fill="#222">12</text>
<line x1="531.30" y1="341.08" x2="533.30" y2="341.08" stroke="#333" stroke-width="0.6"/>
<text x="532.10" y="344.04" font-size="8.60" text-anchor="end" fill="#222">10</text>
<line x1="531.30" y1="359.66" x2="533.30" y2="359.66" stroke="#333" stroke-width="0.6"/>
<text x="532.10" y="362.62" font-size="8.60" text-anchor="end" fill="#222">8</text>
<line x1="531.30" y1="378.24" x2="533.30" y2="378.24" stroke="#333" stroke-width="0.6"/>
<text x="532.10" y="381.20" font-size="8.60" text-anchor="end" fill="#222">6</text>
<line x1="531.30" y1="396.82" x2="533.30" y2="396.82" stroke="#333" stroke-width="0.6"/>
<text x="532.10" y="399.78" font-size="8.60" text-anchor="end" fill="#222">4</text>
<line x1="531.30" y1="415.40" x2="533.30" y2="415.40" stroke="#333" stroke-width="0.6"/>
<text x="532.10" y="418.36" font-size="8.60" text-anchor="end" fill="#222">2</text>
<line x1="535.20" y1="418.20" x2="535.20" y2="420.20" stroke="#333" stroke-width="0.6"/>
<text x="535.20" y="427.76" font-size="8.60" text-anchor="middle" fill="#222">6.0</text>
<line x1="555.55" y1="418.20" x2="555.55" y2="420.20" stroke="#333" stroke-width="0.6"/>
<text x="555.55" y="427.76" font-size="8.60" text-anchor="middle" fill="#222">6.5</text>
<line x1="575.90" y1="418.20" x2="575.90" y2="420.20" stroke="#333" stroke-width="0.6"/>
<text x="575.90" y="427.76" font-size="8.60" text-anchor="middle" fill="#222">7.0</text>
<line x1="596.25" y1="418.20" x2="596.25" y2="420.20" stroke="#333" stroke-width="0.6"/>
<text x="596.25" y="427.76" font-size="8.60" text-anchor="middle" fill="#222">7.5</text>
<line x1="616.60" y1="418.20" x2="616.60" y2="420.20" stroke="#333" stroke-width="0.6"/>
<text x="616.60" y="427.76" font-size="8.60" text-anchor="middle" fill="#222">8.0</text>
<line x1="636.95" y1="418.20" x2="636.95" y2="420.20" stroke="#333" stroke-width="0.6"/>
<text x="636.95" y="427.76" font-size="8.60" text-anchor="middle" fill="#222">8.5</text>
<line x1="657.30" y1="418.20" x2="657.30" y2="420.20" stroke="#333" stroke-width="0.6"/>
<text x="657.30" y="427.76" font-size="8.60" text-anchor="middle" fill="#222">9.0</text>
<text x="601.80" y="437.75" font-size="8.57" text-anchor="middle" fill="#222">CIT mRNA expression (log)</text>
<text x="520.06" y="371.60" font-size="6.86" text-anchor="middle" fill="#222" transform="rotate(-90 520.06 371.60)">SERPINB5 mRNA expression (log)</text>
<text x="545.00" y="326.77" font-size="4.85" text-anchor="start" font-weight="bold" fill="#111">R = 0.30</text>
<text x="545.00" y="332.37" font-size="4.85" text-anchor="start" font-weight="bold" fill="#111">P &lt; 0.001</text>
<line x1="48.10" y1="338.30" x2="48.10" y2="423.10" stroke="#222" stroke-width="0.9"/>
<line x1="48.10" y1="423.10" x2="145.60" y2="423.10" stroke="#222" stroke-width="0.9"/>
<line x1="46.10" y1="346.90" x2="48.10" y2="346.90" stroke="#222" stroke-width="0.7"/>
<text x="44.80" y="350.10" font-size="9.30" text-anchor="end" fill="#222">3</text>
<line x1="46.10" y1="370.80" x2="48.10" y2="370.80" stroke="#222" stroke-width="0.7"/>
<text x="44.80" y="374.00" font-size="9.30" text-anchor="end" fill="#222">2</text>
<line x1="46.10" y1="395.30" x2="48.10" y2="395.30" stroke="#222" stroke-width="0.7"/>
<text x="44.80" y="398.50" font-size="9.30" text-anchor="end" fill="#222">1</text>
<line x1="46.10" y1="419.10" x2="48.10" y2="419.10" stroke="#222" stroke-width="0.7"/>
<text x="44.80" y="422.30" font-size="9.30" text-anchor="end" fill="#222">0</text>
<text x="99.80" y="327.59" font-size="8.39" text-anchor="middle" font-weight="bold" fill="#111">CCNB1</text>
<text x="91.50" y="340.23" font-size="13.00" text-anchor="middle" font-weight="bold" fill="#111">*</text>
<text x="98.90" y="340.23" font-size="13.00" text-anchor="middle" font-weight="bold" fill="#111">*</text>
<text x="106.30" y="340.23" font-size="13.00" text-anchor="middle" font-weight="bold" fill="#111">*</text>
<line x1="76.20" y1="339.30" x2="122.70" y2="339.30" stroke="#3a1515" stroke-width="1.1"/>
<line x1="75.60" y1="350.50" x2="75.60" y2="419.10" stroke="#333" stroke-width="0.9"/>
<line x1="54.90" y1="419.50" x2="97.00" y2="419.50" stroke="#333" stroke-width="1.0"/>
<line x1="72.80" y1="402.40" x2="78.40" y2="402.40" stroke="#333" stroke-width="0.9"/>
<line x1="74.70" y1="392.50" x2="76.50" y2="392.50" stroke="#666" stroke-width="0.5"/>
<line x1="74.70" y1="385.70" x2="76.50" y2="385.70" stroke="#666" stroke-width="0.5"/>
<line x1="74.70" y1="379.00" x2="76.50" y2="379.00" stroke="#666" stroke-width="0.5"/>
<line x1="74.70" y1="372.00" x2="76.50" y2="372.00" stroke="#666" stroke-width="0.5"/>
<line x1="74.70" y1="365.00" x2="76.50" y2="365.00" stroke="#666" stroke-width="0.5"/>
<line x1="74.70" y1="358.00" x2="76.50" y2="358.00" stroke="#666" stroke-width="0.5"/>
<path d="M122.60,342.20 L122.60,342.70 L122.60,343.20 L122.60,343.71 L122.60,344.21 L122.61,344.71 L122.61,345.21 L122.61,345.71 L122.61,346.21 L122.62,346.72 L122.62,347.22 L122.63,347.72 L122.63,348.22 L122.64,348.72 L122.64,349.22 L122.65,349.73 L122.65,350.23 L122.66,350.73 L122.67,351.23 L122.68,351.73 L122.68,352.24 L122.69,352.74 L122.70,353.24 L122.71,353.74 L122.71,354.24 L122.72,354.74 L122.73,355.25 L122.74,355.75 L122.75,356.25 L122.75,356.75 L122.76,357.25 L122.77,357.75 L122.78,358.26 L122.79,358.76 L122.79,359.26 L122.80,359.76 L122.81,360.26 L122.82,360.76 L122.83,361.27 L122.83,361.77 L122.84,362.27 L122.85,362.77 L122.85,363.27 L122.86,363.78 L122.86,364.28 L122.87,364.78 L122.87,365.28 L122.88,365.78 L122.88,366.28 L122.89,366.79 L122.89,367.29 L122.89,367.79 L122.89,368.29 L122.90,368.79 L122.90,369.29 L122.90,369.80 L122.90,370.30 L122.90,370.80 L122.90,371.31 L122.91,371.81 L122.91,372.32 L122.92,372.83 L122.93,373.34 L122.94,373.84 L122.96,374.35 L122.98,374.86 L122.99,375.36 L123.01,375.87 L123.03,376.38 L123.06,376.89 L123.08,377.39 L123.10,377.90 L123.12,378.41 L123.14,378.91 L123.17,379.42 L123.19,379.93 L123.21,380.44 L123.22,380.94 L123.24,381.45 L123.26,381.96 L123.27,382.46 L123.28,382.97 L123.29,383.48 L123.29,383.99 L123.30,384.49 L123.30,385.00 L123.30,385.50 L123.31,386.00 L123.32,386.50 L123.33,387.00 L123.35,387.50 L123.37,388.00 L123.38,388.50 L123.39,389.00 L123.40,389.50 L123.40,390.00 L123.45,390.58 L123.57,391.16 L123.73,391.74 L123.85,392.32 L123.90,392.90 L123.86,393.41 L123.75,393.93 L123.59,394.44 L123.41,394.96 L123.25,395.47 L123.14,395.99 L123.10,396.50 L123.15,397.00 L123.20,397.50 L123.31,398.04 L123.64,398.59 L124.15,399.13 L124.77,399.68 L125.43,400.22 L126.05,400.77 L126.56,401.31 L126.89,401.86 L127.00,402.40 L126.91,402.91 L126.64,403.42 L126.22,403.93 L125.69,404.44 L125.10,404.95 L124.51,405.46 L123.98,405.97 L123.56,406.48 L123.29,406.99 L123.20,407.50 L123.15,408.00 L123.05,408.50 L123.00,409.00 L123.02,409.50 L123.08,410.00 L123.15,410.50 L123.23,411.00 L123.28,411.50 L123.30,412.00 L123.53,412.50 L124.10,413.00 L124.67,413.50 L124.90,414.00 L125.52,414.54 L127.15,415.08 L129.15,415.62 L130.78,416.16 L131.40,416.70 L133.15,417.20 L136.65,417.70 L138.40,418.20 L141.00,418.75 L143.60,419.30 L101.20,419.30 L103.80,418.75 L106.40,418.20 L108.15,417.70 L111.65,417.20 L113.40,416.70 L114.02,416.16 L115.65,415.62 L117.65,415.08 L119.28,414.54 L119.90,414.00 L120.13,413.50 L120.70,413.00 L121.27,412.50 L121.50,412.00 L121.52,411.50 L121.58,411.00 L121.65,410.50 L121.73,410.00 L121.78,409.50 L121.80,409.00 L121.75,408.50 L121.65,408.00 L121.60,407.50 L121.51,406.99 L121.24,406.48 L120.82,405.97 L120.29,405.46 L119.70,404.95 L119.11,404.44 L118.58,403.93 L118.16,403.42 L117.89,402.91 L117.80,402.40 L117.91,401.86 L118.24,401.31 L118.75,400.77 L119.37,400.22 L120.03,399.68 L120.65,399.13 L121.16,398.59 L121.49,398.04 L121.60,397.50 L121.65,397.00 L121.70,396.50 L121.66,395.99 L121.55,395.47 L121.39,394.96 L121.21,394.44 L121.05,393.93 L120.94,393.41 L120.90,392.90 L120.95,392.32 L121.07,391.74 L121.23,391.16 L121.35,390.58 L121.40,390.00 L121.40,389.50 L121.41,389.00 L121.42,388.50 L121.43,388.00 L121.45,387.50 L121.47,387.00 L121.48,386.50 L121.49,386.00 L121.50,385.50 L121.50,385.00 L121.50,384.49 L121.51,383.99 L121.51,383.48 L121.52,382.97 L121.53,382.46 L121.54,381.96 L121.56,381.45 L121.58,380.94 L121.59,380.44 L121.61,379.93 L121.63,379.42 L121.66,378.91 L121.68,378.41 L121.70,377.90 L121.72,377.39 L121.74,376.89 L121.77,376.38 L121.79,375.87 L121.81,375.36 L121.82,374.86 L121.84,374.35 L121.86,373.84 L121.87,373.34 L121.88,372.83 L121.89,372.32 L121.89,371.81 L121.90,371.31 L121.90,370.80 L121.90,370.30 L121.90,369.80 L121.90,369.29 L121.90,368.79 L121.91,368.29 L121.91,367.79 L121.91,367.29 L121.91,366.79 L121.92,366.28 L121.92,365.78 L121.93,365.28 L121.93,364.78 L121.94,364.28 L121.94,363.78 L121.95,363.27 L121.95,362.77 L121.96,362.27 L121.97,361.77 L121.98,361.27 L121.98,360.76 L121.99,360.26 L122.00,359.76 L122.01,359.26 L122.01,358.76 L122.02,358.26 L122.03,357.75 L122.04,357.25 L122.05,356.75 L122.05,356.25 L122.06,355.75 L122.07,355.25 L122.08,354.74 L122.09,354.24 L122.09,353.74 L122.10,353.24 L122.11,352.74 L122.12,352.24 L122.12,351.73 L122.13,351.23 L122.14,350.73 L122.15,350.23 L122.15,349.73 L122.16,349.22 L122.16,348.72 L122.17,348.22 L122.17,347.72 L122.18,347.22 L122.18,346.72 L122.19,346.21 L122.19,345.71 L122.19,345.21 L122.19,344.71 L122.20,344.21 L122.20,343.71 L122.20,343.20 L122.20,342.70 L122.20,342.20 Z" fill="#c1272d" stroke="#3a1a1a" stroke-width="0.5"/>
<line x1="75.60" y1="423.10" x2="75.60" y2="425.10" stroke="#222" stroke-width="0.7"/>
<line x1="122.40" y1="423.10" x2="122.40" y2="425.10" stroke="#222" stroke-width="0.7"/>
<text x="75.60" y="433.75" font-size="7.99" text-anchor="middle" fill="#222">SERPINB5<tspan font-size="4.5" dy="-3">−</tspan></text>
<text x="122.40" y="433.75" font-size="7.99" text-anchor="middle" fill="#222">SERPINB5<tspan font-size="4.5" dy="-3">+</tspan></text>
<text x="33.67" y="385.00" font-size="8.65" text-anchor="middle" fill="#222" transform="rotate(-90 33.67 385.00)">RNA expression</text>
<line x1="179.30" y1="338.30" x2="179.30" y2="423.10" stroke="#222" stroke-width="0.9"/>
<line x1="179.30" y1="423.10" x2="281.20" y2="423.10" stroke="#222" stroke-width="0.9"/>
<line x1="177.30" y1="341.90" x2="179.30" y2="341.90" stroke="#222" stroke-width="0.7"/>
<text x="176.00" y="345.10" font-size="9.30" text-anchor="end" fill="#222">3</text>
<line x1="177.30" y1="367.60" x2="179.30" y2="367.60" stroke="#222" stroke-width="0.7"/>
<text x="176.00" y="370.80" font-size="9.30" text-anchor="end" fill="#222">2</text>
<line x1="177.30" y1="393.40" x2="179.30" y2="393.40" stroke="#222" stroke-width="0.7"/>
<text x="176.00" y="396.60" font-size="9.30" text-anchor="end" fill="#222">1</text>
<line x1="177.30" y1="419.10" x2="179.30" y2="419.10" stroke="#222" stroke-width="0.7"/>
<text x="176.00" y="422.30" font-size="9.30" text-anchor="end" fill="#222">0</text>
<text x="227.40" y="327.52" font-size="8.19" text-anchor="middle" font-weight="bold" fill="#111">CDK1</text>
<text x="221.50" y="340.23" font-size="13.00" text-anchor="middle" font-weight="bold" fill="#111">*</text>
<text x="228.90" y="340.23" font-size="13.00" text-anchor="middle" font-weight="bold" fill="#111">*</text>
<text x="236.30" y="340.23" font-size="13.00" text-anchor="middle" font-weight="bold" fill="#111">*</text>
<line x1="206.10" y1="339.30" x2="252.80" y2="339.30" stroke="#3a1515" stroke-width="1.1"/>
<line x1="206.10" y1="356.60" x2="206.10" y2="419.10" stroke="#333" stroke-width="0.9"/>
<line x1="186.00" y1="419.50" x2="227.60" y2="419.50" stroke="#333" stroke-width="1.0"/>
<line x1="203.30" y1="401.10" x2="208.90" y2="401.10" stroke="#333" stroke-width="0.9"/>
<line x1="205.20" y1="391.00" x2="207.00" y2="391.00" stroke="#666" stroke-width="0.5"/>
<line x1="205.20" y1="384.00" x2="207.00" y2="384.00" stroke="#666" stroke-width="0.5"/>
<line x1="205.20" y1="377.00" x2="207.00" y2="377.00" stroke="#666" stroke-width="0.5"/>
<line x1="205.20" y1="370.00" x2="207.00" y2="370.00" stroke="#666" stroke-width="0.5"/>
<path d="M253.00,342.20 L253.00,342.71 L253.00,343.22 L253.01,343.73 L253.01,344.23 L253.02,344.74 L253.03,345.25 L253.04,345.76 L253.05,346.27 L253.06,346.78 L253.08,347.29 L253.09,347.79 L253.11,348.30 L253.12,348.81 L253.14,349.32 L253.16,349.83 L253.17,350.34 L253.19,350.85 L253.21,351.35 L253.23,351.86 L253.24,352.37 L253.26,352.88 L253.28,353.39 L253.29,353.90 L253.31,354.41 L253.32,354.91 L253.34,355.42 L253.35,355.93 L253.36,356.44 L253.37,356.95 L253.38,357.46 L253.39,357.97 L253.39,358.47 L253.40,358.98 L253.40,359.49 L253.40,360.00 L253.40,360.50 L253.41,361.00 L253.41,361.50 L253.42,362.00 L253.43,362.50 L253.45,363.00 L253.46,363.50 L253.48,364.00 L253.50,364.50 L253.53,365.00 L253.55,365.50 L253.57,366.00 L253.60,366.50 L253.62,367.00 L253.65,367.50 L253.68,368.00 L253.70,368.50 L253.73,369.00 L253.75,369.50 L253.78,370.00 L253.80,370.50 L253.82,371.00 L253.84,371.50 L253.85,372.00 L253.87,372.50 L253.88,373.00 L253.89,373.50 L253.89,374.00 L253.90,374.50 L253.90,375.00 L253.90,375.50 L253.91,376.00 L253.93,376.50 L253.95,377.00 L253.97,377.50 L254.00,378.00 L254.03,378.50 L254.07,379.00 L254.10,379.50 L254.13,380.00 L254.17,380.50 L254.20,381.00 L254.23,381.50 L254.25,382.00 L254.27,382.50 L254.29,383.00 L254.30,383.50 L254.30,384.00 L254.32,384.50 L254.37,385.00 L254.45,385.50 L254.55,386.00 L254.65,386.50 L254.73,387.00 L254.78,387.50 L254.80,388.00 L254.86,388.53 L255.03,389.07 L255.25,389.60 L255.48,390.13 L255.64,390.67 L255.70,391.20 L255.59,391.75 L255.28,392.30 L254.85,392.85 L254.43,393.40 L254.11,393.95 L254.00,394.50 L254.10,395.00 L254.20,395.50 L254.29,396.03 L254.54,396.56 L254.94,397.09 L255.44,397.62 L256.00,398.15 L256.56,398.68 L257.06,399.21 L257.46,399.74 L257.71,400.27 L257.80,400.80 L257.71,401.32 L257.44,401.84 L257.02,402.36 L256.49,402.88 L255.90,403.40 L255.31,403.92 L254.78,404.44 L254.36,404.96 L254.09,405.48 L254.00,406.00 L253.97,406.50 L253.88,407.00 L253.75,407.50 L253.62,408.00 L253.53,408.50 L253.50,409.00 L253.52,409.50 L253.58,410.00 L253.65,410.50 L253.73,411.00 L253.78,411.50 L253.80,412.00 L254.09,412.50 L254.80,413.00 L255.51,413.50 L255.80,414.00 L256.47,414.54 L258.22,415.08 L260.38,415.62 L262.13,416.16 L262.80,416.70 L264.30,417.20 L267.30,417.70 L268.80,418.20 L271.45,418.75 L274.10,419.30 L231.50,419.30 L234.15,418.75 L236.80,418.20 L238.30,417.70 L241.30,417.20 L242.80,416.70 L243.47,416.16 L245.22,415.62 L247.38,415.08 L249.13,414.54 L249.80,414.00 L250.09,413.50 L250.80,413.00 L251.51,412.50 L251.80,412.00 L251.82,411.50 L251.88,411.00 L251.95,410.50 L252.03,410.00 L252.08,409.50 L252.10,409.00 L252.07,408.50 L251.98,408.00 L251.85,407.50 L251.73,407.00 L251.63,406.50 L251.60,406.00 L251.51,405.48 L251.24,404.96 L250.82,404.44 L250.29,403.92 L249.70,403.40 L249.11,402.88 L248.58,402.36 L248.16,401.84 L247.89,401.32 L247.80,400.80 L247.89,400.27 L248.14,399.74 L248.54,399.21 L249.04,398.68 L249.60,398.15 L250.16,397.62 L250.66,397.09 L251.06,396.56 L251.31,396.03 L251.40,395.50 L251.50,395.00 L251.60,394.50 L251.49,393.95 L251.18,393.40 L250.75,392.85 L250.33,392.30 L250.01,391.75 L249.90,391.20 L249.96,390.67 L250.12,390.13 L250.35,389.60 L250.58,389.07 L250.74,388.53 L250.80,388.00 L250.82,387.50 L250.87,387.00 L250.95,386.50 L251.05,386.00 L251.15,385.50 L251.23,385.00 L251.28,384.50 L251.30,384.00 L251.30,383.50 L251.31,383.00 L251.33,382.50 L251.35,382.00 L251.37,381.50 L251.40,381.00 L251.43,380.50 L251.47,380.00 L251.50,379.50 L251.53,379.00 L251.57,378.50 L251.60,378.00 L251.63,377.50 L251.65,377.00 L251.67,376.50 L251.69,376.00 L251.70,375.50 L251.70,375.00 L251.70,374.50 L251.71,374.00 L251.71,373.50 L251.72,373.00 L251.73,372.50 L251.75,372.00 L251.76,371.50 L251.78,371.00 L251.80,370.50 L251.83,370.00 L251.85,369.50 L251.87,369.00 L251.90,368.50 L251.92,368.00 L251.95,367.50 L251.98,367.00 L252.00,366.50 L252.03,366.00 L252.05,365.50 L252.08,365.00 L252.10,364.50 L252.12,364.00 L252.14,363.50 L252.15,363.00 L252.17,362.50 L252.18,362.00 L252.19,361.50 L252.19,361.00 L252.20,360.50 L252.20,360.00 L252.20,359.49 L252.20,358.98 L252.21,358.47 L252.21,357.97 L252.22,357.46 L252.23,356.95 L252.24,356.44 L252.25,355.93 L252.26,355.42 L252.28,354.91 L252.29,354.41 L252.31,353.90 L252.32,353.39 L252.34,352.88 L252.36,352.37 L252.37,351.86 L252.39,351.35 L252.41,350.85 L252.43,350.34 L252.44,349.83 L252.46,349.32 L252.48,348.81 L252.49,348.30 L252.51,347.79 L252.52,347.29 L252.54,346.78 L252.55,346.27 L252.56,345.76 L252.57,345.25 L252.58,344.74 L252.59,344.23 L252.59,343.73 L252.60,343.22 L252.60,342.71 L252.60,342.20 Z" fill="#c1272d" stroke="#3a1a1a" stroke-width="0.5"/>
<line x1="206.10" y1="423.10" x2="206.10" y2="425.10" stroke="#222" stroke-width="0.7"/>
<line x1="252.80" y1="423.10" x2="252.80" y2="425.10" stroke="#222" stroke-width="0.7"/>
<text x="206.10" y="433.75" font-size="7.99" text-anchor="middle" fill="#222">SERPINB5<tspan font-size="4.5" dy="-3">−</tspan></text>
<text x="252.80" y="433.75" font-size="7.99" text-anchor="middle" fill="#222">SERPINB5<tspan font-size="4.5" dy="-3">+</tspan></text>
<text x="165.97" y="385.00" font-size="8.65" text-anchor="middle" fill="#222" transform="rotate(-90 165.97 385.00)">RNA expression</text>
<defs>
<filter id="g1Blue" x="0" y="0" width="685" height="796" filterUnits="userSpaceOnUse" color-interpolation-filters="sRGB"><feTurbulence type="fractalNoise" baseFrequency="0.7" numOctaves="1" seed="4" result="t"/><feColorMatrix in="t" type="matrix" values="0 0 0 0 0.439 0 0 0 0 0.502 0 0 0 0 0.698 3.5 0 0 0 -1.55"/><feComposite in2="SourceAlpha" operator="in"/></filter>
<filter id="g1White" x="0" y="0" width="685" height="796" filterUnits="userSpaceOnUse" color-interpolation-filters="sRGB"><feTurbulence type="fractalNoise" baseFrequency="0.28" numOctaves="2" seed="21" result="t"/><feColorMatrix in="t" type="matrix" values="0 0 0 0 0.933 0 0 0 0 0.918 0 0 0 0 0.894 4.5 0 0 0 -2.6"/><feComposite in2="SourceAlpha" operator="in"/></filter>
<filter id="g1Dark" x="0" y="0" width="685" height="796" filterUnits="userSpaceOnUse" color-interpolation-filters="sRGB"><feTurbulence type="fractalNoise" baseFrequency="0.9" numOctaves="1" seed="9" result="t"/><feColorMatrix in="t" type="matrix" values="0 0 0 0 0.216 0 0 0 0 0.275 0 0 0 0 0.627 5.0 0 0 0 -3.1"/><feComposite in2="SourceAlpha" operator="in"/></filter>
<filter id="g1Brown" x="0" y="0" width="685" height="796" filterUnits="userSpaceOnUse" color-interpolation-filters="sRGB"><feTurbulence type="fractalNoise" baseFrequency="0.6" numOctaves="1" seed="33" result="t"/><feColorMatrix in="t" type="matrix" values="0 0 0 0 0.745 0 0 0 0 0.549 0 0 0 0 0.314 4.0 0 0 0 -2.0"/><feComposite in2="SourceAlpha" operator="in"/></filter>
<filter id="g1BigDark" x="0" y="0" width="685" height="796" filterUnits="userSpaceOnUse" color-interpolation-filters="sRGB"><feTurbulence type="fractalNoise" baseFrequency="0.07" numOctaves="2" seed="35" result="t"/><feColorMatrix in="t" type="matrix" values="0 0 0 0 0.627 0 0 0 0 0.471 0 0 0 0 0.294 4.0 0 0 0 -2.3"/><feComposite in2="SourceAlpha" operator="in"/></filter>
<filter id="g1BigLight" x="0" y="0" width="685" height="796" filterUnits="userSpaceOnUse" color-interpolation-filters="sRGB"><feTurbulence type="fractalNoise" baseFrequency="0.09" numOctaves="3" seed="37" result="t"/><feColorMatrix in="t" type="matrix" values="0 0 0 0 0.910 0 0 0 0 0.894 0 0 0 0 0.871 4.5 0 0 0 -2.75"/><feComposite in2="SourceAlpha" operator="in"/></filter>
<filter id="g2Blue" x="0" y="0" width="685" height="796" filterUnits="userSpaceOnUse" color-interpolation-filters="sRGB"><feTurbulence type="fractalNoise" baseFrequency="0.7" numOctaves="1" seed="14" result="t"/><feColorMatrix in="t" type="matrix" values="0 0 0 0 0.588 0 0 0 0 0.659 0 0 0 0 0.831 3.5 0 0 0 -1.6"/><feComposite in2="SourceAlpha" operator="in"/></filter>
<filter id="g2White" x="0" y="0" width="685" height="796" filterUnits="userSpaceOnUse" color-interpolation-filters="sRGB"><feTurbulence type="fractalNoise" baseFrequency="0.3" numOctaves="2" seed="27" result="t"/><feColorMatrix in="t" type="matrix" values="0 0 0 0 0.973 0 0 0 0 0.969 0 0 0 0 0.965 3.5 0 0 0 -1.7"/><feComposite in2="SourceAlpha" operator="in"/></filter>
<filter id="g2Tan" x="0" y="0" width="685" height="796" filterUnits="userSpaceOnUse" color-interpolation-filters="sRGB"><feTurbulence type="fractalNoise" baseFrequency="0.6" numOctaves="1" seed="17" result="t"/><feColorMatrix in="t" type="matrix" values="0 0 0 0 0.804 0 0 0 0 0.714 0 0 0 0 0.549 4.0 0 0 0 -2.05"/><feComposite in2="SourceAlpha" operator="in"/></filter>
<filter id="g2Dark" x="0" y="0" width="685" height="796" filterUnits="userSpaceOnUse" color-interpolation-filters="sRGB"><feTurbulence type="fractalNoise" baseFrequency="0.9" numOctaves="1" seed="19" result="t"/><feColorMatrix in="t" type="matrix" values="0 0 0 0 0.314 0 0 0 0 0.412 0 0 0 0 0.745 5.0 0 0 0 -3.1"/><feComposite in2="SourceAlpha" operator="in"/></filter>
<filter id="g2BigTan" x="0" y="0" width="685" height="796" filterUnits="userSpaceOnUse" color-interpolation-filters="sRGB"><feTurbulence type="fractalNoise" baseFrequency="0.08" numOctaves="2" seed="39" result="t"/><feColorMatrix in="t" type="matrix" values="0 0 0 0 0.765 0 0 0 0 0.706 0 0 0 0 0.627 3.5 0 0 0 -2.05"/><feComposite in2="SourceAlpha" operator="in"/></filter>
<filter id="g2BigWhite" x="0" y="0" width="685" height="796" filterUnits="userSpaceOnUse" color-interpolation-filters="sRGB"><feTurbulence type="fractalNoise" baseFrequency="0.09" numOctaves="3" seed="41" result="t"/><feColorMatrix in="t" type="matrix" values="0 0 0 0 0.980 0 0 0 0 0.980 0 0 0 0 0.980 4.0 0 0 0 -2.3"/><feComposite in2="SourceAlpha" operator="in"/></filter>
<filter id="nBg" x="0" y="0" width="685" height="796" filterUnits="userSpaceOnUse" color-interpolation-filters="sRGB"><feTurbulence type="fractalNoise" baseFrequency="0.8" numOctaves="1" seed="47" result="t"/><feColorMatrix in="t" type="matrix" values="0 0 0 0 0.294 0 0 0 0 0.373 0 0 0 0 0.804 4.5 0 0 0 -2.3"/><feComposite in2="SourceAlpha" operator="in"/></filter>
<filter id="nBlobBlue" x="0" y="0" width="685" height="796" filterUnits="userSpaceOnUse" color-interpolation-filters="sRGB"><feTurbulence type="fractalNoise" baseFrequency="0.8" numOctaves="1" seed="57" result="t"/><feColorMatrix in="t" type="matrix" values="0 0 0 0 0.314 0 0 0 0 0.345 0 0 0 0 0.745 3.5 0 0 0 -1.65"/><feComposite in2="SourceAlpha" operator="in"/></filter>
<filter id="nBlobTan" x="0" y="0" width="685" height="796" filterUnits="userSpaceOnUse" color-interpolation-filters="sRGB"><feTurbulence type="fractalNoise" baseFrequency="0.7" numOctaves="1" seed="43" result="t"/><feColorMatrix in="t" type="matrix" values="0 0 0 0 0.765 0 0 0 0 0.608 0 0 0 0 0.471 3.5 0 0 0 -1.7"/><feComposite in2="SourceAlpha" operator="in"/></filter>
<filter id="nBlobLight" x="0" y="0" width="685" height="796" filterUnits="userSpaceOnUse" color-interpolation-filters="sRGB"><feTurbulence type="fractalNoise" baseFrequency="0.6" numOctaves="1" seed="61" result="t"/><feColorMatrix in="t" type="matrix" values="0 0 0 0 0.667 0 0 0 0 0.675 0 0 0 0 0.831 3.5 0 0 0 -2.0"/><feComposite in2="SourceAlpha" operator="in"/></filter>
<filter id="fBlur" x="-20%" y="-20%" width="140%" height="140%"><feGaussianBlur stdDeviation="1.6"/></filter>
<filter id="n2Blue" x="0" y="0" width="685" height="796" filterUnits="userSpaceOnUse" color-interpolation-filters="sRGB"><feTurbulence type="fractalNoise" baseFrequency="0.8" numOctaves="1" seed="71" result="t"/><feColorMatrix in="t" type="matrix" values="0 0 0 0 0.275 0 0 0 0 0.353 0 0 0 0 0.765 4.0 0 0 0 -1.9"/><feComposite in2="SourceAlpha" operator="in"/></filter>
<filter id="n2White" x="0" y="0" width="685" height="796" filterUnits="userSpaceOnUse" color-interpolation-filters="sRGB"><feTurbulence type="fractalNoise" baseFrequency="0.12" numOctaves="3" seed="73" result="t"/><feColorMatrix in="t" type="matrix" values="0 0 0 0 0.957 0 0 0 0 0.957 0 0 0 0 0.980 4.5 0 0 0 -2.45"/><feComposite in2="SourceAlpha" operator="in"/></filter>
<filter id="n2Light" x="0" y="0" width="685" height="796" filterUnits="userSpaceOnUse" color-interpolation-filters="sRGB"><feTurbulence type="fractalNoise" baseFrequency="0.8" numOctaves="1" seed="77" result="t"/><feColorMatrix in="t" type="matrix" values="0 0 0 0 0.784 0 0 0 0 0.804 0 0 0 0 0.922 3.5 0 0 0 -1.8"/><feComposite in2="SourceAlpha" operator="in"/></filter>
</defs>
<text x="81.50" y="484.84" font-size="9.11" text-anchor="middle" font-weight="bold" fill="#111">CENPE</text>
<text x="30.63" y="518.70" font-size="9.38" text-anchor="middle" font-weight="bold" fill="#111" transform="rotate(-90 30.63 518.70)">shNC</text>
<text x="30.47" y="582.80" font-size="8.92" text-anchor="middle" font-weight="bold" fill="#111" transform="rotate(-90 30.47 582.80)">shSERPINB5</text>
<clipPath id="cG1"><rect x="31.4" y="490.5" width="100.29999999999998" height="57.700000000000045"/></clipPath>
<g clip-path="url(#cG1)">
<rect x="31.40" y="490.50" width="100.30" height="57.70" fill="#b89670"/>
<rect x="31.4" y="490.5" width="100.29999999999998" height="57.700000000000045" fill="#000" filter="url(#g1BigDark)"/>
<rect x="31.4" y="490.5" width="100.29999999999998" height="57.700000000000045" fill="#000" filter="url(#g1Brown)"/>
<rect x="31.4" y="490.5" width="100.29999999999998" height="57.700000000000045" fill="#000" filter="url(#g1Blue)"/>
<rect x="31.4" y="490.5" width="100.29999999999998" height="57.700000000000045" fill="#000" filter="url(#g1White)"/>
<rect x="31.4" y="490.5" width="100.29999999999998" height="57.700000000000045" fill="#000" filter="url(#g1BigLight)"/>
<rect x="31.4" y="490.5" width="100.29999999999998" height="57.700000000000045" fill="#000" filter="url(#g1Dark)"/>
</g>
<rect x="31.4" y="490.5" width="100.29999999999998" height="57.700000000000045" fill="none" stroke="#4a4a4a" stroke-width="0.9"/>
<rect x="117.10" y="545.90" width="13.60" height="1.30" fill="#111"/>
<clipPath id="cG2"><rect x="31.4" y="554.2" width="100.29999999999998" height="57.299999999999955"/></clipPath>
<g clip-path="url(#cG2)">
<rect x="31.40" y="554.20" width="100.30" height="57.30" fill="#e0dbd4"/>
<rect x="31.4" y="554.2" width="100.29999999999998" height="57.299999999999955" fill="#000" filter="url(#g2BigTan)"/>
<rect x="31.4" y="554.2" width="100.29999999999998" height="57.299999999999955" fill="#000" filter="url(#g2Tan)"/>
<rect x="31.4" y="554.2" width="100.29999999999998" height="57.299999999999955" fill="#000" filter="url(#g2Blue)"/>
<rect x="31.4" y="554.2" width="100.29999999999998" height="57.299999999999955" fill="#000" filter="url(#g2White)"/>
<rect x="31.4" y="554.2" width="100.29999999999998" height="57.299999999999955" fill="#000" filter="url(#g2BigWhite)"/>
<rect x="31.4" y="554.2" width="100.29999999999998" height="57.299999999999955" fill="#000" filter="url(#g2Dark)"/>
</g>
<rect x="31.4" y="554.2" width="100.29999999999998" height="57.299999999999955" fill="none" stroke="#4a4a4a" stroke-width="0.9"/>
<rect x="117.10" y="609.50" width="13.60" height="1.30" fill="#111"/>
<line x1="202.70" y1="552.50" x2="327.70" y2="552.50" stroke="#222" stroke-width="1.0" stroke-dasharray="2.4,1.4"/>
<line x1="202.70" y1="489.20" x2="202.70" y2="594.30" stroke="#111" stroke-width="1.2"/>
<line x1="202.10" y1="593.70" x2="327.60" y2="593.70" stroke="#111" stroke-width="1.2"/>
<line x1="197.50" y1="593.70" x2="202.70" y2="593.70" stroke="#111" stroke-width="1.1"/>
<text x="195.50" y="596.56" font-size="8.30" text-anchor="end" fill="#222">0</text>
<line x1="197.50" y1="572.86" x2="202.70" y2="572.86" stroke="#111" stroke-width="1.1"/>
<text x="195.50" y="575.72" font-size="8.30" text-anchor="end" fill="#222">25</text>
<line x1="197.50" y1="552.02" x2="202.70" y2="552.02" stroke="#111" stroke-width="1.1"/>
<text x="195.50" y="554.88" font-size="8.30" text-anchor="end" fill="#222">50</text>
<line x1="197.50" y1="531.18" x2="202.70" y2="531.18" stroke="#111" stroke-width="1.1"/>
<text x="195.50" y="534.04" font-size="8.30" text-anchor="end" fill="#222">75</text>
<line x1="197.50" y1="510.34" x2="202.70" y2="510.34" stroke="#111" stroke-width="1.1"/>
<text x="195.50" y="513.20" font-size="8.30" text-anchor="end" fill="#222">100</text>
<line x1="197.50" y1="489.50" x2="202.70" y2="489.50" stroke="#111" stroke-width="1.1"/>
<text x="195.50" y="492.36" font-size="8.30" text-anchor="end" fill="#222">125</text>
<line x1="202.70" y1="593.70" x2="202.70" y2="598.10" stroke="#111" stroke-width="1.2"/>
<text x="202.70" y="607.56" font-size="8.30" text-anchor="middle" fill="#222">-3</text>
<line x1="233.80" y1="593.70" x2="233.80" y2="598.10" stroke="#111" stroke-width="1.2"/>
<text x="233.80" y="607.56" font-size="8.30" text-anchor="middle" fill="#222">-2</text>
<line x1="264.90" y1="593.70" x2="264.90" y2="598.10" stroke="#111" stroke-width="1.2"/>
<text x="264.90" y="607.56" font-size="8.30" text-anchor="middle" fill="#222">-1</text>
<line x1="296.00" y1="593.70" x2="296.00" y2="598.10" stroke="#111" stroke-width="1.2"/>
<text x="296.00" y="607.56" font-size="8.30" text-anchor="middle" fill="#222">0</text>
<line x1="327.10" y1="593.70" x2="327.10" y2="598.10" stroke="#111" stroke-width="1.2"/>
<text x="327.10" y="607.56" font-size="8.30" text-anchor="middle" fill="#222">1</text>
<path d="M211.41,511.18 L212.19,511.18 L212.97,511.18 L213.75,511.19 L214.53,511.19 L215.31,511.19 L216.09,511.19 L216.87,511.20 L217.65,511.20 L218.43,511.21 L219.21,511.22 L219.99,511.22 L220.77,511.23 L221.55,511.24 L222.33,511.26 L223.11,511.27 L223.89,511.29 L224.67,511.31 L225.45,511.34 L226.23,511.37 L227.01,511.41 L227.79,511.46 L228.57,511.51 L229.35,511.57 L230.13,511.65 L230.91,511.74 L231.69,511.84 L232.47,511.96 L233.25,512.11 L234.03,512.29 L234.81,512.49 L235.59,512.73 L236.37,513.02 L237.15,513.36 L237.93,513.75 L238.71,514.21 L239.49,514.76 L240.27,515.38 L241.05,516.12 L241.83,516.96 L242.61,517.93 L243.39,519.04 L244.17,520.29 L244.95,521.71 L245.73,523.30 L246.51,525.05 L247.29,526.98 L248.07,529.06 L248.85,531.30 L249.63,533.66 L250.41,536.12 L251.19,538.65 L251.97,541.21 L252.75,543.76 L253.53,546.27 L254.31,548.70 L255.09,551.02 L255.87,553.21 L256.65,555.24 L257.43,557.10 L258.21,558.80 L258.99,560.33 L259.77,561.69 L260.55,562.90 L261.33,563.95 L262.11,564.88 L262.89,565.68 L263.67,566.38 L264.45,566.97 L265.23,567.49 L266.01,567.92 L266.79,568.30 L267.57,568.62 L268.35,568.89 L269.13,569.12 L269.91,569.31 L270.69,569.47 L271.48,569.61 L272.26,569.73 L273.04,569.83 L273.82,569.91 L274.60,569.98 L275.38,570.04 L276.16,570.09 L276.94,570.14 L277.72,570.17 L278.50,570.20 L279.28,570.23 L280.06,570.25 L280.84,570.26 L281.62,570.28 L282.40,570.29 L283.18,570.30 L283.96,570.31 L284.74,570.32 L285.52,570.33 L286.30,570.33 L287.08,570.34 L287.86,570.34 L288.64,570.34 L289.42,570.35 L290.20,570.35 L290.98,570.35 L291.76,570.35 L292.54,570.35 L293.32,570.35 L294.10,570.35 L294.88,570.36 L295.66,570.36 L296.44,570.36 L297.22,570.36 L298.00,570.36 L298.78,570.36 L299.56,570.36 L300.34,570.36 L301.12,570.36 L301.90,570.36 L302.68,570.36 L303.46,570.36 L304.24,570.36 L305.02,570.36" fill="none" stroke="#5b9e92" stroke-width="1.1"/>
<path d="M211.41,512.01 L212.19,512.01 L212.97,512.01 L213.75,512.01 L214.53,512.01 L215.31,512.01 L216.09,512.02 L216.87,512.02 L217.65,512.02 L218.43,512.02 L219.21,512.03 L219.99,512.04 L220.77,512.04 L221.55,512.05 L222.33,512.06 L223.11,512.08 L223.89,512.10 L224.67,512.12 L225.45,512.15 L226.23,512.19 L227.01,512.23 L227.79,512.29 L228.57,512.36 L229.35,512.46 L230.13,512.57 L230.91,512.72 L231.69,512.90 L232.47,513.13 L233.25,513.41 L234.03,513.76 L234.81,514.21 L235.59,514.75 L236.37,515.43 L237.15,516.27 L237.93,517.29 L238.71,518.52 L239.49,520.02 L240.27,521.79 L241.05,523.89 L241.83,526.32 L242.61,529.09 L243.39,532.19 L244.17,535.59 L244.95,539.24 L245.73,543.04 L246.51,546.91 L247.29,550.75 L248.07,554.45 L248.85,557.93 L249.63,561.13 L250.41,564.00 L251.19,566.53 L251.97,568.73 L252.75,570.60 L253.53,572.17 L254.31,573.48 L255.09,574.57 L255.87,575.45 L256.65,576.17 L257.43,576.76 L258.21,577.23 L258.99,577.61 L259.77,577.91 L260.55,578.16 L261.33,578.35 L262.11,578.51 L262.89,578.63 L263.67,578.73 L264.45,578.81 L265.23,578.87 L266.01,578.92 L266.79,578.96 L267.57,578.99 L268.35,579.02 L269.13,579.04 L269.91,579.05 L270.69,579.06 L271.48,579.07 L272.26,579.08 L273.04,579.09 L273.82,579.09 L274.60,579.10 L275.38,579.10 L276.16,579.10 L276.94,579.10 L277.72,579.11 L278.50,579.11 L279.28,579.11 L280.06,579.11 L280.84,579.11 L281.62,579.11 L282.40,579.11 L283.18,579.11 L283.96,579.11 L284.74,579.11 L285.52,579.11 L286.30,579.11 L287.08,579.11 L287.86,579.11 L288.64,579.11 L289.42,579.11 L290.20,579.11 L290.98,579.11 L291.76,579.11 L292.54,579.11 L293.32,579.11 L294.10,579.11 L294.88,579.11 L295.66,579.11 L296.44,579.11 L297.22,579.11 L298.00,579.11 L298.78,579.11 L299.56,579.11 L300.34,579.11 L301.12,579.11 L301.90,579.11 L302.68,579.11 L303.46,579.11 L304.24,579.11 L305.02,579.11" fill="none" stroke="#f0403f" stroke-width="1.1"/>
<line x1="226.96" y1="508.67" x2="226.96" y2="513.67" stroke="#5b9e92" stroke-width="0.8"/>
<line x1="225.46" y1="508.67" x2="228.46" y2="508.67" stroke="#5b9e92" stroke-width="0.8"/>
<line x1="225.46" y1="513.67" x2="228.46" y2="513.67" stroke="#5b9e92" stroke-width="0.8"/>
<line x1="257.75" y1="555.35" x2="257.75" y2="562.86" stroke="#5b9e92" stroke-width="0.8"/>
<line x1="256.25" y1="555.35" x2="259.25" y2="555.35" stroke="#5b9e92" stroke-width="0.8"/>
<line x1="256.25" y1="562.86" x2="259.25" y2="562.86" stroke="#5b9e92" stroke-width="0.8"/>
<line x1="243.13" y1="527.01" x2="243.13" y2="535.35" stroke="#f0403f" stroke-width="0.8"/>
<line x1="241.63" y1="527.01" x2="244.63" y2="527.01" stroke="#f0403f" stroke-width="0.8"/>
<line x1="241.63" y1="535.35" x2="244.63" y2="535.35" stroke="#f0403f" stroke-width="0.8"/>
<line x1="273.61" y1="565.36" x2="273.61" y2="572.03" stroke="#5b9e92" stroke-width="0.8"/>
<line x1="272.11" y1="565.36" x2="275.11" y2="565.36" stroke="#5b9e92" stroke-width="0.8"/>
<line x1="272.11" y1="572.03" x2="275.11" y2="572.03" stroke="#5b9e92" stroke-width="0.8"/>
<rect x="209.41" y="508.51" width="4.00" height="4.00" fill="#f0403f"/>
<rect x="224.96" y="512.34" width="4.00" height="4.00" fill="#f0403f"/>
<rect x="241.13" y="529.51" width="4.00" height="4.00" fill="#f0403f"/>
<rect x="255.75" y="572.69" width="4.00" height="4.00" fill="#f0403f"/>
<rect x="271.61" y="577.11" width="4.00" height="4.00" fill="#f0403f"/>
<rect x="286.85" y="576.20" width="4.00" height="4.00" fill="#f0403f"/>
<rect x="303.02" y="577.11" width="4.00" height="4.00" fill="#f0403f"/>
<circle cx="211.41" cy="509.92" r="2.10" fill="#5b9e92"/>
<circle cx="226.96" cy="511.42" r="2.10" fill="#5b9e92"/>
<circle cx="243.13" cy="521.01" r="2.10" fill="#5b9e92"/>
<circle cx="257.75" cy="558.69" r="2.10" fill="#5b9e92"/>
<circle cx="273.61" cy="568.94" r="2.10" fill="#5b9e92"/>
<circle cx="288.85" cy="571.78" r="2.10" fill="#5b9e92"/>
<circle cx="305.02" cy="568.94" r="2.10" fill="#5b9e92"/>
<line x1="209.20" y1="478.90" x2="218.40" y2="478.90" stroke="#5b9e92" stroke-width="0.9"/>
<circle cx="213.80" cy="478.90" r="2.10" fill="#5b9e92"/>
<line x1="209.20" y1="492.60" x2="218.40" y2="492.60" stroke="#f0403f" stroke-width="0.9"/>
<rect x="211.80" y="490.60" width="4.00" height="4.00" fill="#f0403f"/>
<text x="222.00" y="481.44" font-size="7.38" text-anchor="start" fill="#333">shNC IC<tspan font-size="4.43" dy="1.8">50</tspan><tspan dy="-1.8">= 0.03554 μM</tspan></text>
<text x="222.00" y="495.12" font-size="7.33" text-anchor="start" fill="#333">shSERPINB5 IC<tspan font-size="4.40" dy="1.8">50</tspan><tspan dy="-1.8">= 0.02624 μM</tspan></text>
<text x="178.58" y="542.60" font-size="9.54" text-anchor="middle" fill="#222" transform="rotate(-90 178.58 542.60)">Cell vailbility (%)</text>
<text x="264.90" y="618.58" font-size="8.67" text-anchor="middle" fill="#222">Paclitaxel log (μM)</text>
<line x1="313.50" y1="567.40" x2="313.50" y2="582.00" stroke="#222" stroke-width="1.0"/>
<text x="318.30" y="574.75" font-size="9.50" text-anchor="middle" font-weight="bold" fill="#111">*</text>
<text x="318.30" y="579.55" font-size="9.50" text-anchor="middle" font-weight="bold" fill="#111">*</text>
<text x="318.30" y="584.35" font-size="9.50" text-anchor="middle" font-weight="bold" fill="#111">*</text>
<line x1="371.30" y1="549.50" x2="501.20" y2="549.50" stroke="#222" stroke-width="1.0" stroke-dasharray="2.4,1.4"/>
<line x1="371.30" y1="484.80" x2="371.30" y2="593.70" stroke="#111" stroke-width="1.2"/>
<line x1="370.70" y1="593.10" x2="501.72" y2="593.10" stroke="#111" stroke-width="1.2"/>
<line x1="366.10" y1="593.10" x2="371.30" y2="593.10" stroke="#111" stroke-width="1.1"/>
<text x="364.10" y="595.96" font-size="8.30" text-anchor="end" fill="#222">0</text>
<line x1="366.10" y1="571.50" x2="371.30" y2="571.50" stroke="#111" stroke-width="1.1"/>
<text x="364.10" y="574.36" font-size="8.30" text-anchor="end" fill="#222">25</text>
<line x1="366.10" y1="549.90" x2="371.30" y2="549.90" stroke="#111" stroke-width="1.1"/>
<text x="364.10" y="552.76" font-size="8.30" text-anchor="end" fill="#222">50</text>
<line x1="366.10" y1="528.30" x2="371.30" y2="528.30" stroke="#111" stroke-width="1.1"/>
<text x="364.10" y="531.16" font-size="8.30" text-anchor="end" fill="#222">75</text>
<line x1="366.10" y1="506.70" x2="371.30" y2="506.70" stroke="#111" stroke-width="1.1"/>
<text x="364.10" y="509.56" font-size="8.30" text-anchor="end" fill="#222">100</text>
<line x1="366.10" y1="485.10" x2="371.30" y2="485.10" stroke="#111" stroke-width="1.1"/>
<text x="364.10" y="487.96" font-size="8.30" text-anchor="end" fill="#222">125</text>
<line x1="371.30" y1="593.10" x2="371.30" y2="597.50" stroke="#111" stroke-width="1.2"/>
<text x="371.30" y="606.96" font-size="8.30" text-anchor="middle" fill="#222">-4</text>
<line x1="403.78" y1="593.10" x2="403.78" y2="597.50" stroke="#111" stroke-width="1.2"/>
<text x="403.78" y="606.96" font-size="8.30" text-anchor="middle" fill="#222">-3</text>
<line x1="436.26" y1="593.10" x2="436.26" y2="597.50" stroke="#111" stroke-width="1.2"/>
<text x="436.26" y="606.96" font-size="8.30" text-anchor="middle" fill="#222">-2</text>
<line x1="468.74" y1="593.10" x2="468.74" y2="597.50" stroke="#111" stroke-width="1.2"/>
<text x="468.74" y="606.96" font-size="8.30" text-anchor="middle" fill="#222">-1</text>
<line x1="501.22" y1="593.10" x2="501.22" y2="597.50" stroke="#111" stroke-width="1.2"/>
<text x="501.22" y="606.96" font-size="8.30" text-anchor="middle" fill="#222">0</text>
<path d="M380.72,504.15 L381.53,504.16 L382.35,504.17 L383.16,504.18 L383.98,504.19 L384.79,504.20 L385.61,504.21 L386.42,504.23 L387.24,504.25 L388.05,504.27 L388.87,504.29 L389.68,504.32 L390.50,504.36 L391.31,504.39 L392.13,504.44 L392.94,504.49 L393.75,504.55 L394.57,504.62 L395.38,504.69 L396.20,504.78 L397.01,504.89 L397.83,505.01 L398.64,505.15 L399.46,505.30 L400.27,505.49 L401.09,505.69 L401.90,505.93 L402.72,506.21 L403.53,506.52 L404.35,506.88 L405.16,507.29 L405.98,507.75 L406.79,508.28 L407.60,508.88 L408.42,509.55 L409.23,510.32 L410.05,511.17 L410.86,512.13 L411.68,513.19 L412.49,514.37 L413.31,515.67 L414.12,517.09 L414.94,518.63 L415.75,520.30 L416.57,522.09 L417.38,523.99 L418.20,525.99 L419.01,528.08 L419.83,530.24 L420.64,532.45 L421.45,534.69 L422.27,536.93 L423.08,539.16 L423.90,541.35 L424.71,543.47 L425.53,545.51 L426.34,547.46 L427.16,549.30 L427.97,551.03 L428.79,552.63 L429.60,554.11 L430.42,555.47 L431.23,556.70 L432.05,557.82 L432.86,558.82 L433.68,559.72 L434.49,560.53 L435.30,561.24 L436.12,561.87 L436.93,562.43 L437.75,562.93 L438.56,563.36 L439.38,563.74 L440.19,564.08 L441.01,564.37 L441.82,564.62 L442.64,564.84 L443.45,565.04 L444.27,565.21 L445.08,565.35 L445.90,565.48 L446.71,565.59 L447.53,565.69 L448.34,565.77 L449.15,565.84 L449.97,565.91 L450.78,565.96 L451.60,566.01 L452.41,566.05 L453.23,566.09 L454.04,566.12 L454.86,566.14 L455.67,566.17 L456.49,566.19 L457.30,566.20 L458.12,566.22 L458.93,566.23 L459.75,566.24 L460.56,566.25 L461.38,566.26 L462.19,566.27 L463.00,566.28 L463.82,566.28 L464.63,566.29 L465.45,566.29 L466.26,566.29 L467.08,566.30 L467.89,566.30 L468.71,566.30 L469.52,566.30 L470.34,566.30 L471.15,566.31 L471.97,566.31 L472.78,566.31 L473.60,566.31 L474.41,566.31 L475.23,566.31 L476.04,566.31 L476.85,566.31 L477.67,566.31 L478.48,566.31" fill="none" stroke="#5b9e92" stroke-width="1.1"/>
<path d="M380.72,506.85 L381.53,506.88 L382.35,506.91 L383.16,506.94 L383.98,506.97 L384.79,507.02 L385.61,507.07 L386.42,507.12 L387.24,507.19 L388.05,507.26 L388.87,507.35 L389.68,507.45 L390.50,507.56 L391.31,507.70 L392.13,507.85 L392.94,508.02 L393.75,508.22 L394.57,508.46 L395.38,508.72 L396.20,509.02 L397.01,509.37 L397.83,509.77 L398.64,510.22 L399.46,510.73 L400.27,511.32 L401.09,511.98 L401.90,512.73 L402.72,513.57 L403.53,514.52 L404.35,515.58 L405.16,516.76 L405.98,518.06 L406.79,519.50 L407.60,521.08 L408.42,522.79 L409.23,524.64 L410.05,526.63 L410.86,528.73 L411.68,530.96 L412.49,533.28 L413.31,535.67 L414.12,538.13 L414.94,540.61 L415.75,543.11 L416.57,545.58 L417.38,548.01 L418.20,550.37 L419.01,552.65 L419.83,554.82 L420.64,556.87 L421.45,558.79 L422.27,560.57 L423.08,562.22 L423.90,563.73 L424.71,565.10 L425.53,566.34 L426.34,567.46 L427.16,568.47 L427.97,569.36 L428.79,570.16 L429.60,570.87 L430.42,571.49 L431.23,572.04 L432.05,572.53 L432.86,572.95 L433.68,573.32 L434.49,573.65 L435.30,573.93 L436.12,574.18 L436.93,574.40 L437.75,574.58 L438.56,574.75 L439.38,574.89 L440.19,575.01 L441.01,575.12 L441.82,575.21 L442.64,575.29 L443.45,575.36 L444.27,575.43 L445.08,575.48 L445.90,575.52 L446.71,575.56 L447.53,575.60 L448.34,575.63 L449.15,575.65 L449.97,575.68 L450.78,575.70 L451.60,575.71 L452.41,575.73 L453.23,575.74 L454.04,575.75 L454.86,575.76 L455.67,575.77 L456.49,575.77 L457.30,575.78 L458.12,575.79 L458.93,575.79 L459.75,575.79 L460.56,575.80 L461.38,575.80 L462.19,575.80 L463.00,575.81 L463.82,575.81 L464.63,575.81 L465.45,575.81 L466.26,575.81 L467.08,575.81 L467.89,575.81 L468.71,575.81 L469.52,575.82 L470.34,575.82 L471.15,575.82 L471.97,575.82 L472.78,575.82 L473.60,575.82 L474.41,575.82 L475.23,575.82 L476.04,575.82 L476.85,575.82 L477.67,575.82 L478.48,575.82" fill="none" stroke="#f0403f" stroke-width="1.1"/>
<line x1="380.72" y1="504.11" x2="380.72" y2="509.29" stroke="#5b9e92" stroke-width="0.8"/>
<line x1="379.22" y1="504.11" x2="382.22" y2="504.11" stroke="#5b9e92" stroke-width="0.8"/>
<line x1="379.22" y1="509.29" x2="382.22" y2="509.29" stroke="#5b9e92" stroke-width="0.8"/>
<line x1="396.63" y1="500.65" x2="396.63" y2="505.84" stroke="#5b9e92" stroke-width="0.8"/>
<line x1="395.13" y1="500.65" x2="398.13" y2="500.65" stroke="#5b9e92" stroke-width="0.8"/>
<line x1="395.13" y1="505.84" x2="398.13" y2="505.84" stroke="#5b9e92" stroke-width="0.8"/>
<line x1="413.52" y1="515.34" x2="413.52" y2="522.25" stroke="#5b9e92" stroke-width="0.8"/>
<line x1="412.02" y1="515.34" x2="415.02" y2="515.34" stroke="#5b9e92" stroke-width="0.8"/>
<line x1="412.02" y1="522.25" x2="415.02" y2="522.25" stroke="#5b9e92" stroke-width="0.8"/>
<line x1="413.52" y1="531.76" x2="413.52" y2="544.72" stroke="#f0403f" stroke-width="0.8"/>
<line x1="412.02" y1="531.76" x2="415.02" y2="531.76" stroke="#f0403f" stroke-width="0.8"/>
<line x1="412.02" y1="544.72" x2="415.02" y2="544.72" stroke="#f0403f" stroke-width="0.8"/>
<line x1="461.59" y1="561.13" x2="461.59" y2="569.77" stroke="#5b9e92" stroke-width="0.8"/>
<line x1="460.09" y1="561.13" x2="463.09" y2="561.13" stroke="#5b9e92" stroke-width="0.8"/>
<line x1="460.09" y1="569.77" x2="463.09" y2="569.77" stroke="#5b9e92" stroke-width="0.8"/>
<line x1="445.35" y1="562.86" x2="445.35" y2="568.04" stroke="#5b9e92" stroke-width="0.8"/>
<line x1="443.85" y1="562.86" x2="446.85" y2="562.86" stroke="#5b9e92" stroke-width="0.8"/>
<line x1="443.85" y1="568.04" x2="446.85" y2="568.04" stroke="#5b9e92" stroke-width="0.8"/>
<rect x="378.72" y="506.08" width="4.00" height="4.00" fill="#f0403f"/>
<rect x="394.63" y="509.88" width="4.00" height="4.00" fill="#f0403f"/>
<rect x="411.52" y="536.24" width="4.00" height="4.00" fill="#f0403f"/>
<rect x="426.79" y="567.51" width="4.00" height="4.00" fill="#f0403f"/>
<rect x="443.35" y="574.17" width="4.00" height="4.00" fill="#f0403f"/>
<rect x="459.59" y="572.70" width="4.00" height="4.00" fill="#f0403f"/>
<rect x="476.48" y="573.22" width="4.00" height="4.00" fill="#f0403f"/>
<circle cx="380.72" cy="507.05" r="2.10" fill="#5b9e92"/>
<circle cx="396.63" cy="503.24" r="2.10" fill="#5b9e92"/>
<circle cx="413.52" cy="518.62" r="2.10" fill="#5b9e92"/>
<circle cx="428.79" cy="553.70" r="2.10" fill="#5b9e92"/>
<circle cx="445.35" cy="565.45" r="2.10" fill="#5b9e92"/>
<circle cx="461.59" cy="565.45" r="2.10" fill="#5b9e92"/>
<circle cx="478.48" cy="566.83" r="2.10" fill="#5b9e92"/>
<line x1="380.40" y1="476.00" x2="389.60" y2="476.00" stroke="#5b9e92" stroke-width="0.9"/>
<circle cx="385.00" cy="476.00" r="2.10" fill="#5b9e92"/>
<line x1="380.40" y1="489.20" x2="389.60" y2="489.20" stroke="#f0403f" stroke-width="0.9"/>
<rect x="383.00" y="487.20" width="4.00" height="4.00" fill="#f0403f"/>
<text x="394.00" y="478.52" font-size="7.33" text-anchor="start" fill="#333">shNC IC<tspan font-size="4.40" dy="1.8">50</tspan><tspan dy="-1.8">= 0.003351 μM</tspan></text>
<text x="394.00" y="491.74" font-size="7.37" text-anchor="start" fill="#333">shSERPINB5 IC<tspan font-size="4.42" dy="1.8">50</tspan><tspan dy="-1.8">= 0.002147 μM</tspan></text>
<text x="349.59" y="540.50" font-size="9.27" text-anchor="middle" fill="#222" transform="rotate(-90 349.59 540.50)">Cell vailbility (%)</text>
<text x="437.00" y="618.59" font-size="8.69" text-anchor="middle" fill="#222">Vincristine log (μM)</text>
<line x1="487.50" y1="565.40" x2="487.50" y2="577.60" stroke="#222" stroke-width="1.0"/>
<text x="492.40" y="571.55" font-size="9.50" text-anchor="middle" font-weight="bold" fill="#111">*</text>
<text x="492.40" y="576.35" font-size="9.50" text-anchor="middle" font-weight="bold" fill="#111">*</text>
<text x="492.40" y="581.14" font-size="9.50" text-anchor="middle" font-weight="bold" fill="#111">*</text>
<line x1="547.00" y1="551.50" x2="671.80" y2="551.50" stroke="#222" stroke-width="1.0" stroke-dasharray="2.4,1.4"/>
<line x1="547.00" y1="488.90" x2="547.00" y2="593.50" stroke="#111" stroke-width="1.2"/>
<line x1="546.40" y1="592.90" x2="671.50" y2="592.90" stroke="#111" stroke-width="1.2"/>
<line x1="541.80" y1="592.90" x2="547.00" y2="592.90" stroke="#111" stroke-width="1.1"/>
<text x="539.80" y="595.76" font-size="8.30" text-anchor="end" fill="#222">0</text>
<line x1="541.80" y1="572.16" x2="547.00" y2="572.16" stroke="#111" stroke-width="1.1"/>
<text x="539.80" y="575.02" font-size="8.30" text-anchor="end" fill="#222">25</text>
<line x1="541.80" y1="551.42" x2="547.00" y2="551.42" stroke="#111" stroke-width="1.1"/>
<text x="539.80" y="554.28" font-size="8.30" text-anchor="end" fill="#222">50</text>
<line x1="541.80" y1="530.68" x2="547.00" y2="530.68" stroke="#111" stroke-width="1.1"/>
<text x="539.80" y="533.54" font-size="8.30" text-anchor="end" fill="#222">75</text>
<line x1="541.80" y1="509.94" x2="547.00" y2="509.94" stroke="#111" stroke-width="1.1"/>
<text x="539.80" y="512.80" font-size="8.30" text-anchor="end" fill="#222">100</text>
<line x1="541.80" y1="489.20" x2="547.00" y2="489.20" stroke="#111" stroke-width="1.1"/>
<text x="539.80" y="492.06" font-size="8.30" text-anchor="end" fill="#222">125</text>
<line x1="547.00" y1="592.90" x2="547.00" y2="597.30" stroke="#111" stroke-width="1.2"/>
<text x="547.00" y="606.76" font-size="8.30" text-anchor="middle" fill="#222">-4</text>
<line x1="578.00" y1="592.90" x2="578.00" y2="597.30" stroke="#111" stroke-width="1.2"/>
<text x="578.00" y="606.76" font-size="8.30" text-anchor="middle" fill="#222">-3</text>
<line x1="609.00" y1="592.90" x2="609.00" y2="597.30" stroke="#111" stroke-width="1.2"/>
<text x="609.00" y="606.76" font-size="8.30" text-anchor="middle" fill="#222">-2</text>
<line x1="640.00" y1="592.90" x2="640.00" y2="597.30" stroke="#111" stroke-width="1.2"/>
<text x="640.00" y="606.76" font-size="8.30" text-anchor="middle" fill="#222">-1</text>
<line x1="671.00" y1="592.90" x2="671.00" y2="597.30" stroke="#111" stroke-width="1.2"/>
<text x="671.00" y="606.76" font-size="8.30" text-anchor="middle" fill="#222">0</text>
<path d="M556.30,506.21 L557.20,506.21 L558.10,506.21 L559.00,506.21 L559.90,506.21 L560.79,506.21 L561.69,506.21 L562.59,506.21 L563.49,506.21 L564.39,506.21 L565.29,506.22 L566.19,506.22 L567.09,506.22 L567.99,506.22 L568.89,506.22 L569.78,506.23 L570.68,506.23 L571.58,506.23 L572.48,506.24 L573.38,506.24 L574.28,506.25 L575.18,506.26 L576.08,506.27 L576.98,506.28 L577.88,506.29 L578.77,506.31 L579.67,506.33 L580.57,506.35 L581.47,506.38 L582.37,506.41 L583.27,506.44 L584.17,506.49 L585.07,506.54 L585.97,506.60 L586.87,506.67 L587.76,506.75 L588.66,506.85 L589.56,506.97 L590.46,507.10 L591.36,507.26 L592.26,507.45 L593.16,507.67 L594.06,507.93 L594.96,508.23 L595.86,508.59 L596.75,509.00 L597.65,509.48 L598.55,510.05 L599.45,510.70 L600.35,511.45 L601.25,512.32 L602.15,513.31 L603.05,514.44 L603.95,515.72 L604.85,517.17 L605.75,518.79 L606.64,520.59 L607.54,522.56 L608.44,524.72 L609.34,527.04 L610.24,529.51 L611.14,532.11 L612.04,534.81 L612.94,537.58 L613.84,540.39 L614.74,543.18 L615.63,545.93 L616.53,548.59 L617.43,551.14 L618.33,553.55 L619.23,555.81 L620.13,557.89 L621.03,559.79 L621.93,561.51 L622.83,563.06 L623.73,564.44 L624.62,565.66 L625.52,566.73 L626.42,567.67 L627.32,568.49 L628.22,569.19 L629.12,569.81 L630.02,570.34 L630.92,570.79 L631.82,571.18 L632.72,571.51 L633.61,571.79 L634.51,572.04 L635.41,572.24 L636.31,572.42 L637.21,572.57 L638.11,572.70 L639.01,572.80 L639.91,572.90 L640.81,572.97 L641.71,573.04 L642.60,573.10 L643.50,573.14 L644.40,573.18 L645.30,573.22 L646.20,573.25 L647.10,573.27 L648.00,573.29 L648.90,573.31 L649.80,573.32 L650.69,573.34 L651.59,573.35 L652.49,573.35 L653.39,573.36 L654.29,573.37 L655.19,573.37 L656.09,573.38 L656.99,573.38 L657.89,573.39 L658.79,573.39 L659.68,573.39 L660.58,573.39 L661.48,573.40 L662.38,573.40 L663.28,573.40 L664.18,573.40" fill="none" stroke="#5b9e92" stroke-width="1.1"/>
<path d="M556.30,508.71 L557.20,508.71 L558.10,508.71 L559.00,508.71 L559.90,508.72 L560.79,508.72 L561.69,508.72 L562.59,508.73 L563.49,508.73 L564.39,508.74 L565.29,508.75 L566.19,508.76 L567.09,508.77 L567.99,508.78 L568.89,508.79 L569.78,508.81 L570.68,508.83 L571.58,508.85 L572.48,508.88 L573.38,508.91 L574.28,508.94 L575.18,508.98 L576.08,509.03 L576.98,509.08 L577.88,509.15 L578.77,509.22 L579.67,509.31 L580.57,509.41 L581.47,509.52 L582.37,509.66 L583.27,509.82 L584.17,510.00 L585.07,510.21 L585.97,510.46 L586.87,510.74 L587.76,511.07 L588.66,511.45 L589.56,511.89 L590.46,512.39 L591.36,512.96 L592.26,513.62 L593.16,514.37 L594.06,515.23 L594.96,516.20 L595.86,517.30 L596.75,518.53 L597.65,519.90 L598.55,521.43 L599.45,523.11 L600.35,524.95 L601.25,526.96 L602.15,529.12 L603.05,531.42 L603.95,533.85 L604.85,536.40 L605.75,539.03 L606.64,541.72 L607.54,544.44 L608.44,547.16 L609.34,549.84 L610.24,552.46 L611.14,554.98 L612.04,557.39 L612.94,559.66 L613.84,561.79 L614.74,563.76 L615.63,565.57 L616.53,567.22 L617.43,568.72 L618.33,570.06 L619.23,571.26 L620.13,572.33 L621.03,573.28 L621.93,574.11 L622.83,574.84 L623.73,575.48 L624.62,576.04 L625.52,576.53 L626.42,576.96 L627.32,577.32 L628.22,577.64 L629.12,577.92 L630.02,578.16 L630.92,578.36 L631.82,578.54 L632.72,578.69 L633.61,578.82 L634.51,578.94 L635.41,579.03 L636.31,579.12 L637.21,579.19 L638.11,579.25 L639.01,579.30 L639.91,579.35 L640.81,579.39 L641.71,579.42 L642.60,579.45 L643.50,579.48 L644.40,579.50 L645.30,579.52 L646.20,579.53 L647.10,579.55 L648.00,579.56 L648.90,579.57 L649.80,579.58 L650.69,579.58 L651.59,579.59 L652.49,579.59 L653.39,579.60 L654.29,579.60 L655.19,579.61 L656.09,579.61 L656.99,579.61 L657.89,579.61 L658.79,579.62 L659.68,579.62 L660.58,579.62 L661.48,579.62 L662.38,579.62 L663.28,579.62 L664.18,579.62" fill="none" stroke="#f0403f" stroke-width="1.1"/>
<line x1="556.30" y1="503.30" x2="556.30" y2="516.58" stroke="#f0403f" stroke-width="0.8"/>
<line x1="554.80" y1="503.30" x2="557.80" y2="503.30" stroke="#f0403f" stroke-width="0.8"/>
<line x1="554.80" y1="516.58" x2="557.80" y2="516.58" stroke="#f0403f" stroke-width="0.8"/>
<line x1="587.30" y1="506.62" x2="587.30" y2="512.43" stroke="#f0403f" stroke-width="0.8"/>
<line x1="585.80" y1="506.62" x2="588.80" y2="506.62" stroke="#f0403f" stroke-width="0.8"/>
<line x1="585.80" y1="512.43" x2="588.80" y2="512.43" stroke="#f0403f" stroke-width="0.8"/>
<line x1="602.49" y1="512.43" x2="602.49" y2="518.24" stroke="#5b9e92" stroke-width="0.8"/>
<line x1="600.99" y1="512.43" x2="603.99" y2="512.43" stroke="#5b9e92" stroke-width="0.8"/>
<line x1="600.99" y1="518.24" x2="603.99" y2="518.24" stroke="#5b9e92" stroke-width="0.8"/>
<rect x="554.30" y="508.19" width="4.00" height="4.00" fill="#f0403f"/>
<rect x="585.30" y="508.19" width="4.00" height="4.00" fill="#f0403f"/>
<rect x="600.49" y="526.61" width="4.00" height="4.00" fill="#f0403f"/>
<rect x="616.61" y="567.26" width="4.00" height="4.00" fill="#f0403f"/>
<rect x="631.49" y="576.96" width="4.00" height="4.00" fill="#f0403f"/>
<rect x="647.30" y="577.21" width="4.00" height="4.00" fill="#f0403f"/>
<rect x="662.18" y="577.63" width="4.00" height="4.00" fill="#f0403f"/>
<circle cx="556.30" cy="512.26" r="2.10" fill="#5b9e92"/>
<circle cx="587.30" cy="500.98" r="2.10" fill="#5b9e92"/>
<circle cx="602.49" cy="515.42" r="2.10" fill="#5b9e92"/>
<circle cx="618.61" cy="556.23" r="2.10" fill="#5b9e92"/>
<circle cx="633.49" cy="572.74" r="2.10" fill="#5b9e92"/>
<circle cx="649.30" cy="573.24" r="2.10" fill="#5b9e92"/>
<circle cx="664.18" cy="573.99" r="2.10" fill="#5b9e92"/>
<line x1="554.30" y1="478.10" x2="563.50" y2="478.10" stroke="#5b9e92" stroke-width="0.9"/>
<circle cx="558.90" cy="478.10" r="2.10" fill="#5b9e92"/>
<line x1="554.30" y1="489.70" x2="563.50" y2="489.70" stroke="#f0403f" stroke-width="0.9"/>
<rect x="556.90" y="487.70" width="4.00" height="4.00" fill="#f0403f"/>
<text x="568.80" y="480.62" font-size="7.33" text-anchor="start" fill="#333">NSUN2<tspan font-size="4.40" dy="-2.6">+/+</tspan><tspan dy="2.6"> IC<tspan font-size="4.40" dy="1.8">50</tspan><tspan dy="-1.8">= 0.01325 μM</tspan></tspan></text>
<text x="568.80" y="492.23" font-size="7.34" text-anchor="start" fill="#333">NSUN2<tspan font-size="4.41" dy="-2.6">-/-</tspan><tspan dy="2.6"> IC<tspan font-size="4.41" dy="1.8">50</tspan><tspan dy="-1.8">= 0.00919 μM</tspan></tspan></text>
<text x="524.58" y="541.70" font-size="9.54" text-anchor="middle" fill="#222" transform="rotate(-90 524.58 541.70)">Cell vailbility (%)</text>
<text x="610.10" y="618.28" font-size="8.67" text-anchor="middle" fill="#222">Paclitaxel log (μM)</text>
<line x1="671.50" y1="570.60" x2="671.50" y2="584.30" stroke="#222" stroke-width="1.0"/>
<text x="677.10" y="577.50" font-size="9.50" text-anchor="middle" font-weight="bold" fill="#111">*</text>
<text x="677.10" y="582.30" font-size="9.50" text-anchor="middle" font-weight="bold" fill="#111">*</text>
<text x="677.10" y="587.10" font-size="9.50" text-anchor="middle" font-weight="bold" fill="#111">*</text>
<line x1="204.50" y1="726.50" x2="330.00" y2="726.50" stroke="#222" stroke-width="1.0" stroke-dasharray="2.4,1.4"/>
<line x1="204.50" y1="664.40" x2="204.50" y2="768.60" stroke="#111" stroke-width="1.2"/>
<line x1="203.90" y1="768.00" x2="329.60" y2="768.00" stroke="#111" stroke-width="1.2"/>
<line x1="199.30" y1="768.00" x2="204.50" y2="768.00" stroke="#111" stroke-width="1.1"/>
<text x="197.30" y="770.86" font-size="8.30" text-anchor="end" fill="#222">0</text>
<line x1="199.30" y1="747.34" x2="204.50" y2="747.34" stroke="#111" stroke-width="1.1"/>
<text x="197.30" y="750.20" font-size="8.30" text-anchor="end" fill="#222">25</text>
<line x1="199.30" y1="726.68" x2="204.50" y2="726.68" stroke="#111" stroke-width="1.1"/>
<text x="197.30" y="729.54" font-size="8.30" text-anchor="end" fill="#222">50</text>
<line x1="199.30" y1="706.02" x2="204.50" y2="706.02" stroke="#111" stroke-width="1.1"/>
<text x="197.30" y="708.88" font-size="8.30" text-anchor="end" fill="#222">75</text>
<line x1="199.30" y1="685.36" x2="204.50" y2="685.36" stroke="#111" stroke-width="1.1"/>
<text x="197.30" y="688.22" font-size="8.30" text-anchor="end" fill="#222">100</text>
<line x1="199.30" y1="664.70" x2="204.50" y2="664.70" stroke="#111" stroke-width="1.1"/>
<text x="197.30" y="667.56" font-size="8.30" text-anchor="end" fill="#222">125</text>
<line x1="204.50" y1="768.00" x2="204.50" y2="772.40" stroke="#111" stroke-width="1.2"/>
<text x="204.50" y="781.86" font-size="8.30" text-anchor="middle" fill="#222">-4</text>
<line x1="235.65" y1="768.00" x2="235.65" y2="772.40" stroke="#111" stroke-width="1.2"/>
<text x="235.65" y="781.86" font-size="8.30" text-anchor="middle" fill="#222">-3</text>
<line x1="266.80" y1="768.00" x2="266.80" y2="772.40" stroke="#111" stroke-width="1.2"/>
<text x="266.80" y="781.86" font-size="8.30" text-anchor="middle" fill="#222">-2</text>
<line x1="297.95" y1="768.00" x2="297.95" y2="772.40" stroke="#111" stroke-width="1.2"/>
<text x="297.95" y="781.86" font-size="8.30" text-anchor="middle" fill="#222">-1</text>
<line x1="329.10" y1="768.00" x2="329.10" y2="772.40" stroke="#111" stroke-width="1.2"/>
<text x="329.10" y="781.86" font-size="8.30" text-anchor="middle" fill="#222">0</text>
<path d="M213.84,685.36 L214.62,685.36 L215.40,685.36 L216.18,685.36 L216.96,685.36 L217.74,685.36 L218.52,685.36 L219.30,685.36 L220.07,685.36 L220.85,685.36 L221.63,685.36 L222.41,685.36 L223.19,685.37 L223.97,685.37 L224.75,685.37 L225.53,685.37 L226.30,685.37 L227.08,685.37 L227.86,685.38 L228.64,685.38 L229.42,685.38 L230.20,685.39 L230.98,685.39 L231.76,685.40 L232.53,685.41 L233.31,685.41 L234.09,685.42 L234.87,685.44 L235.65,685.45 L236.43,685.47 L237.21,685.49 L237.99,685.51 L238.76,685.54 L239.54,685.58 L240.32,685.62 L241.10,685.66 L241.88,685.72 L242.66,685.79 L243.44,685.87 L244.22,685.96 L245.00,686.08 L245.77,686.21 L246.55,686.37 L247.33,686.55 L248.11,686.77 L248.89,687.03 L249.67,687.34 L250.45,687.69 L251.22,688.12 L252.00,688.61 L252.78,689.19 L253.56,689.86 L254.34,690.63 L255.12,691.53 L255.90,692.57 L256.68,693.75 L257.45,695.09 L258.23,696.61 L259.01,698.30 L259.79,700.18 L260.57,702.24 L261.35,704.48 L262.13,706.88 L262.91,709.42 L263.69,712.08 L264.46,714.81 L265.24,717.59 L266.02,720.37 L266.80,723.10 L267.58,725.76 L268.36,728.30 L269.14,730.70 L269.91,732.94 L270.69,735.00 L271.47,736.88 L272.25,738.57 L273.03,740.09 L273.81,741.43 L274.59,742.61 L275.37,743.65 L276.14,744.54 L276.92,745.32 L277.70,745.99 L278.48,746.57 L279.26,747.06 L280.04,747.48 L280.82,747.84 L281.60,748.15 L282.38,748.41 L283.15,748.63 L283.93,748.81 L284.71,748.97 L285.49,749.10 L286.27,749.22 L287.05,749.31 L287.83,749.39 L288.61,749.46 L289.38,749.52 L290.16,749.56 L290.94,749.60 L291.72,749.64 L292.50,749.67 L293.28,749.69 L294.06,749.71 L294.83,749.73 L295.61,749.74 L296.39,749.75 L297.17,749.77 L297.95,749.77 L298.73,749.78 L299.51,749.79 L300.29,749.79 L301.06,749.80 L301.84,749.80 L302.62,749.80 L303.40,749.81 L304.18,749.81 L304.96,749.81 L305.74,749.81 L306.52,749.81 L307.29,749.81" fill="none" stroke="#5b9e92" stroke-width="1.1"/>
<path d="M213.84,685.36 L214.62,685.36 L215.40,685.36 L216.18,685.37 L216.96,685.37 L217.74,685.37 L218.52,685.37 L219.30,685.37 L220.07,685.37 L220.85,685.38 L221.63,685.38 L222.41,685.38 L223.19,685.39 L223.97,685.39 L224.75,685.40 L225.53,685.40 L226.30,685.41 L227.08,685.42 L227.86,685.43 L228.64,685.44 L229.42,685.46 L230.20,685.48 L230.98,685.50 L231.76,685.53 L232.53,685.56 L233.31,685.60 L234.09,685.64 L234.87,685.69 L235.65,685.76 L236.43,685.83 L237.21,685.92 L237.99,686.02 L238.76,686.15 L239.54,686.30 L240.32,686.47 L241.10,686.67 L241.88,686.92 L242.66,687.20 L243.44,687.54 L244.22,687.93 L245.00,688.40 L245.77,688.94 L246.55,689.58 L247.33,690.32 L248.11,691.18 L248.89,692.17 L249.67,693.31 L250.45,694.61 L251.22,696.09 L252.00,697.76 L252.78,699.63 L253.56,701.70 L254.34,703.97 L255.12,706.44 L255.90,709.09 L256.68,711.89 L257.45,714.82 L258.23,717.83 L259.01,720.90 L259.79,723.96 L260.57,726.97 L261.35,729.90 L262.13,732.70 L262.91,735.35 L263.69,737.82 L264.46,740.09 L265.24,742.16 L266.02,744.03 L266.80,745.70 L267.58,747.18 L268.36,748.48 L269.14,749.62 L269.91,750.61 L270.69,751.47 L271.47,752.21 L272.25,752.85 L273.03,753.39 L273.81,753.86 L274.59,754.25 L275.37,754.59 L276.14,754.87 L276.92,755.12 L277.70,755.32 L278.48,755.50 L279.26,755.64 L280.04,755.77 L280.82,755.87 L281.60,755.96 L282.38,756.03 L283.15,756.10 L283.93,756.15 L284.71,756.19 L285.49,756.23 L286.27,756.26 L287.05,756.29 L287.83,756.31 L288.61,756.33 L289.38,756.35 L290.16,756.36 L290.94,756.37 L291.72,756.38 L292.50,756.39 L293.28,756.39 L294.06,756.40 L294.83,756.41 L295.61,756.41 L296.39,756.41 L297.17,756.42 L297.95,756.42 L298.73,756.42 L299.51,756.42 L300.29,756.42 L301.06,756.42 L301.84,756.43 L302.62,756.43 L303.40,756.43 L304.18,756.43 L304.96,756.43 L305.74,756.43 L306.52,756.43 L307.29,756.43" fill="none" stroke="#f0403f" stroke-width="1.1"/>
<line x1="259.95" y1="696.93" x2="259.95" y2="704.37" stroke="#5b9e92" stroke-width="0.8"/>
<line x1="258.45" y1="696.93" x2="261.45" y2="696.93" stroke="#5b9e92" stroke-width="0.8"/>
<line x1="258.45" y1="704.37" x2="261.45" y2="704.37" stroke="#5b9e92" stroke-width="0.8"/>
<line x1="259.95" y1="722.55" x2="259.95" y2="730.81" stroke="#f0403f" stroke-width="0.8"/>
<line x1="258.45" y1="722.55" x2="261.45" y2="722.55" stroke="#f0403f" stroke-width="0.8"/>
<line x1="258.45" y1="730.81" x2="261.45" y2="730.81" stroke="#f0403f" stroke-width="0.8"/>
<line x1="245.00" y1="685.36" x2="245.00" y2="689.49" stroke="#5b9e92" stroke-width="0.8"/>
<line x1="243.50" y1="685.36" x2="246.50" y2="685.36" stroke="#5b9e92" stroke-width="0.8"/>
<line x1="243.50" y1="689.49" x2="246.50" y2="689.49" stroke="#5b9e92" stroke-width="0.8"/>
<rect x="211.84" y="683.36" width="4.00" height="4.00" fill="#f0403f"/>
<rect x="226.49" y="683.36" width="4.00" height="4.00" fill="#f0403f"/>
<rect x="243.00" y="689.48" width="4.00" height="4.00" fill="#f0403f"/>
<rect x="257.95" y="724.60" width="4.00" height="4.00" fill="#f0403f"/>
<rect x="274.14" y="751.70" width="4.00" height="4.00" fill="#f0403f"/>
<rect x="289.41" y="752.86" width="4.00" height="4.00" fill="#f0403f"/>
<rect x="305.29" y="754.60" width="4.00" height="4.00" fill="#f0403f"/>
<circle cx="213.84" cy="684.62" r="2.10" fill="#5b9e92"/>
<circle cx="228.49" cy="684.62" r="2.10" fill="#5b9e92"/>
<circle cx="245.00" cy="687.18" r="2.10" fill="#5b9e92"/>
<circle cx="259.95" cy="700.32" r="2.10" fill="#5b9e92"/>
<circle cx="276.14" cy="741.97" r="2.10" fill="#5b9e92"/>
<circle cx="291.41" cy="747.92" r="2.10" fill="#5b9e92"/>
<circle cx="307.29" cy="749.90" r="2.10" fill="#5b9e92"/>
<line x1="206.30" y1="641.30" x2="215.50" y2="641.30" stroke="#5b9e92" stroke-width="0.9"/>
<circle cx="210.90" cy="641.30" r="2.10" fill="#5b9e92"/>
<line x1="206.30" y1="653.60" x2="215.50" y2="653.60" stroke="#f0403f" stroke-width="0.9"/>
<rect x="208.90" y="651.60" width="4.00" height="4.00" fill="#f0403f"/>
<text x="219.60" y="643.84" font-size="7.39" text-anchor="start" fill="#333">NSUN2<tspan font-size="4.43" dy="-2.6">+/+</tspan><tspan dy="2.6"> IC<tspan font-size="4.43" dy="1.8">50</tspan><tspan dy="-1.8">= 0.009290 μM</tspan></tspan></text>
<text x="219.60" y="656.16" font-size="7.45" text-anchor="start" fill="#333">NSUN2<tspan font-size="4.47" dy="-2.6">-/-</tspan><tspan dy="2.6"> IC<tspan font-size="4.47" dy="1.8">50</tspan><tspan dy="-1.8">= 0.005269 μM</tspan></tspan></text>
<text x="182.11" y="716.40" font-size="9.64" text-anchor="middle" fill="#222" transform="rotate(-90 182.11 716.40)">Cell vailbility(%)</text>
<text x="266.40" y="792.29" font-size="8.69" text-anchor="middle" fill="#222">Vincristine log (μM)</text>
<line x1="313.50" y1="745.00" x2="313.50" y2="760.10" stroke="#222" stroke-width="1.0"/>
<text x="319.50" y="752.60" font-size="9.50" text-anchor="middle" font-weight="bold" fill="#111">*</text>
<text x="319.50" y="757.39" font-size="9.50" text-anchor="middle" font-weight="bold" fill="#111">*</text>
<text x="319.50" y="762.19" font-size="9.50" text-anchor="middle" font-weight="bold" fill="#111">*</text>
<line x1="371.50" y1="727.50" x2="500.00" y2="727.50" stroke="#222" stroke-width="1.0" stroke-dasharray="2.4,1.4"/>
<line x1="371.50" y1="665.80" x2="371.50" y2="768.90" stroke="#111" stroke-width="1.2"/>
<line x1="370.90" y1="768.30" x2="499.00" y2="768.30" stroke="#111" stroke-width="1.2"/>
<line x1="366.30" y1="768.30" x2="371.50" y2="768.30" stroke="#111" stroke-width="1.1"/>
<text x="364.30" y="771.16" font-size="8.30" text-anchor="end" fill="#222">0</text>
<line x1="366.30" y1="747.86" x2="371.50" y2="747.86" stroke="#111" stroke-width="1.1"/>
<text x="364.30" y="750.72" font-size="8.30" text-anchor="end" fill="#222">25</text>
<line x1="366.30" y1="727.42" x2="371.50" y2="727.42" stroke="#111" stroke-width="1.1"/>
<text x="364.30" y="730.28" font-size="8.30" text-anchor="end" fill="#222">50</text>
<line x1="366.30" y1="706.98" x2="371.50" y2="706.98" stroke="#111" stroke-width="1.1"/>
<text x="364.30" y="709.84" font-size="8.30" text-anchor="end" fill="#222">75</text>
<line x1="366.30" y1="686.54" x2="371.50" y2="686.54" stroke="#111" stroke-width="1.1"/>
<text x="364.30" y="689.40" font-size="8.30" text-anchor="end" fill="#222">100</text>
<line x1="366.30" y1="666.10" x2="371.50" y2="666.10" stroke="#111" stroke-width="1.1"/>
<text x="364.30" y="668.96" font-size="8.30" text-anchor="end" fill="#222">125</text>
<line x1="371.50" y1="768.30" x2="371.50" y2="772.70" stroke="#111" stroke-width="1.2"/>
<text x="371.50" y="782.16" font-size="8.30" text-anchor="middle" fill="#222">-4</text>
<line x1="396.90" y1="768.30" x2="396.90" y2="772.70" stroke="#111" stroke-width="1.2"/>
<text x="396.90" y="782.16" font-size="8.30" text-anchor="middle" fill="#222">-3</text>
<line x1="422.30" y1="768.30" x2="422.30" y2="772.70" stroke="#111" stroke-width="1.2"/>
<text x="422.30" y="782.16" font-size="8.30" text-anchor="middle" fill="#222">-2</text>
<line x1="447.70" y1="768.30" x2="447.70" y2="772.70" stroke="#111" stroke-width="1.2"/>
<text x="447.70" y="782.16" font-size="8.30" text-anchor="middle" fill="#222">-1</text>
<line x1="473.10" y1="768.30" x2="473.10" y2="772.70" stroke="#111" stroke-width="1.2"/>
<text x="473.10" y="782.16" font-size="8.30" text-anchor="middle" fill="#222">0</text>
<line x1="498.50" y1="768.30" x2="498.50" y2="772.70" stroke="#111" stroke-width="1.2"/>
<text x="498.50" y="782.16" font-size="8.30" text-anchor="middle" fill="#222">1</text>
<path d="M379.12,687.20 L379.97,687.26 L380.81,687.33 L381.66,687.41 L382.51,687.49 L383.35,687.58 L384.20,687.68 L385.05,687.79 L385.89,687.91 L386.74,688.03 L387.59,688.17 L388.43,688.33 L389.28,688.49 L390.13,688.68 L390.97,688.88 L391.82,689.09 L392.67,689.33 L393.51,689.58 L394.36,689.86 L395.21,690.16 L396.05,690.49 L396.90,690.85 L397.75,691.23 L398.59,691.65 L399.44,692.10 L400.29,692.58 L401.13,693.11 L401.98,693.67 L402.83,694.28 L403.67,694.92 L404.52,695.62 L405.37,696.36 L406.21,697.15 L407.06,697.99 L407.91,698.88 L408.75,699.82 L409.60,700.82 L410.45,701.86 L411.29,702.96 L412.14,704.11 L412.99,705.30 L413.83,706.55 L414.68,707.83 L415.53,709.16 L416.37,710.52 L417.22,711.91 L418.07,713.33 L418.91,714.77 L419.76,716.23 L420.61,717.69 L421.45,719.16 L422.30,720.63 L423.15,722.08 L423.99,723.52 L424.84,724.94 L425.69,726.33 L426.53,727.70 L427.38,729.02 L428.23,730.31 L429.07,731.55 L429.92,732.75 L430.77,733.89 L431.61,734.99 L432.46,736.04 L433.31,737.03 L434.15,737.97 L435.00,738.87 L435.85,739.70 L436.69,740.49 L437.54,741.24 L438.39,741.93 L439.23,742.58 L440.08,743.18 L440.93,743.74 L441.77,744.27 L442.62,744.75 L443.47,745.20 L444.31,745.62 L445.16,746.00 L446.01,746.36 L446.85,746.69 L447.70,746.99 L448.55,747.27 L449.39,747.53 L450.24,747.76 L451.09,747.98 L451.93,748.18 L452.78,748.36 L453.63,748.53 L454.47,748.68 L455.32,748.82 L456.17,748.95 L457.01,749.07 L457.86,749.17 L458.71,749.27 L459.55,749.36 L460.40,749.44 L461.25,749.52 L462.09,749.59 L462.94,749.65 L463.79,749.71 L464.63,749.76 L465.48,749.81 L466.33,749.85 L467.17,749.89 L468.02,749.93 L468.87,749.96 L469.71,749.99 L470.56,750.02 L471.41,750.05 L472.25,750.07 L473.10,750.09 L473.95,750.11 L474.79,750.13 L475.64,750.15 L476.49,750.16 L477.33,750.17 L478.18,750.19 L479.03,750.20 L479.87,750.21 L480.72,750.22" fill="none" stroke="#5b9e92" stroke-width="1.1"/>
<path d="M379.12,686.62 L379.97,686.63 L380.81,686.64 L381.66,686.65 L382.51,686.66 L383.35,686.67 L384.20,686.69 L385.05,686.70 L385.89,686.72 L386.74,686.74 L387.59,686.77 L388.43,686.79 L389.28,686.82 L390.13,686.85 L390.97,686.89 L391.82,686.92 L392.67,686.97 L393.51,687.02 L394.36,687.07 L395.21,687.13 L396.05,687.19 L396.90,687.27 L397.75,687.35 L398.59,687.44 L399.44,687.54 L400.29,687.65 L401.13,687.77 L401.98,687.91 L402.83,688.06 L403.67,688.23 L404.52,688.42 L405.37,688.62 L406.21,688.85 L407.06,689.10 L407.91,689.37 L408.75,689.68 L409.60,690.01 L410.45,690.38 L411.29,690.78 L412.14,691.22 L412.99,691.71 L413.83,692.23 L414.68,692.81 L415.53,693.44 L416.37,694.11 L417.22,694.85 L418.07,695.64 L418.91,696.49 L419.76,697.41 L420.61,698.39 L421.45,699.43 L422.30,700.53 L423.15,701.70 L423.99,702.93 L424.84,704.21 L425.69,705.55 L426.53,706.94 L427.38,708.37 L428.23,709.84 L429.07,711.34 L429.92,712.85 L430.77,714.39 L431.61,715.92 L432.46,717.46 L433.31,718.98 L434.15,720.47 L435.00,721.94 L435.85,723.37 L436.69,724.76 L437.54,726.10 L438.39,727.39 L439.23,728.61 L440.08,729.78 L440.93,730.88 L441.77,731.93 L442.62,732.90 L443.47,733.82 L444.31,734.67 L445.16,735.46 L446.01,736.20 L446.85,736.88 L447.70,737.50 L448.55,738.08 L449.39,738.61 L450.24,739.09 L451.09,739.53 L451.93,739.93 L452.78,740.30 L453.63,740.64 L454.47,740.94 L455.32,741.21 L456.17,741.46 L457.01,741.69 L457.86,741.90 L458.71,742.08 L459.55,742.25 L460.40,742.40 L461.25,742.54 L462.09,742.66 L462.94,742.77 L463.79,742.87 L464.63,742.96 L465.48,743.04 L466.33,743.12 L467.17,743.18 L468.02,743.24 L468.87,743.30 L469.71,743.34 L470.56,743.39 L471.41,743.43 L472.25,743.46 L473.10,743.49 L473.95,743.52 L474.79,743.55 L475.64,743.57 L476.49,743.59 L477.33,743.61 L478.18,743.63 L479.03,743.64 L479.87,743.65 L480.72,743.67" fill="none" stroke="#f0403f" stroke-width="1.1"/>
<line x1="379.12" y1="681.63" x2="379.12" y2="691.45" stroke="#5b9e92" stroke-width="0.8"/>
<line x1="377.62" y1="681.63" x2="380.62" y2="681.63" stroke="#5b9e92" stroke-width="0.8"/>
<line x1="377.62" y1="691.45" x2="380.62" y2="691.45" stroke="#5b9e92" stroke-width="0.8"/>
<line x1="404.52" y1="688.99" x2="404.52" y2="702.07" stroke="#5b9e92" stroke-width="0.8"/>
<line x1="403.02" y1="688.99" x2="406.02" y2="688.99" stroke="#5b9e92" stroke-width="0.8"/>
<line x1="403.02" y1="702.07" x2="406.02" y2="702.07" stroke="#5b9e92" stroke-width="0.8"/>
<line x1="417.22" y1="705.34" x2="417.22" y2="715.16" stroke="#5b9e92" stroke-width="0.8"/>
<line x1="415.72" y1="705.34" x2="418.72" y2="705.34" stroke="#5b9e92" stroke-width="0.8"/>
<line x1="415.72" y1="715.16" x2="418.72" y2="715.16" stroke="#5b9e92" stroke-width="0.8"/>
<line x1="468.02" y1="739.68" x2="468.02" y2="746.22" stroke="#f0403f" stroke-width="0.8"/>
<line x1="466.52" y1="739.68" x2="469.52" y2="739.68" stroke="#f0403f" stroke-width="0.8"/>
<line x1="466.52" y1="746.22" x2="469.52" y2="746.22" stroke="#f0403f" stroke-width="0.8"/>
<line x1="480.72" y1="739.68" x2="480.72" y2="747.04" stroke="#f0403f" stroke-width="0.8"/>
<line x1="479.22" y1="739.68" x2="482.22" y2="739.68" stroke="#f0403f" stroke-width="0.8"/>
<line x1="479.22" y1="747.04" x2="482.22" y2="747.04" stroke="#f0403f" stroke-width="0.8"/>
<rect x="377.12" y="684.54" width="4.00" height="4.00" fill="#f0403f"/>
<rect x="402.52" y="686.58" width="4.00" height="4.00" fill="#f0403f"/>
<rect x="415.22" y="695.41" width="4.00" height="4.00" fill="#f0403f"/>
<rect x="440.62" y="729.84" width="4.00" height="4.00" fill="#f0403f"/>
<rect x="453.32" y="739.24" width="4.00" height="4.00" fill="#f0403f"/>
<rect x="466.02" y="740.63" width="4.00" height="4.00" fill="#f0403f"/>
<rect x="478.72" y="741.20" width="4.00" height="4.00" fill="#f0403f"/>
<circle cx="379.12" cy="686.54" r="2.10" fill="#5b9e92"/>
<circle cx="404.52" cy="695.29" r="2.10" fill="#5b9e92"/>
<circle cx="417.22" cy="710.50" r="2.10" fill="#5b9e92"/>
<circle cx="442.62" cy="741.97" r="2.10" fill="#5b9e92"/>
<circle cx="455.32" cy="748.43" r="2.10" fill="#5b9e92"/>
<circle cx="468.02" cy="749.90" r="2.10" fill="#5b9e92"/>
<circle cx="480.72" cy="750.80" r="2.10" fill="#5b9e92"/>
<line x1="353.80" y1="640.40" x2="363.00" y2="640.40" stroke="#5b9e92" stroke-width="0.9"/>
<circle cx="358.40" cy="640.40" r="2.10" fill="#5b9e92"/>
<line x1="353.80" y1="652.10" x2="363.00" y2="652.10" stroke="#f0403f" stroke-width="0.9"/>
<rect x="356.40" y="650.10" width="4.00" height="4.00" fill="#f0403f"/>
<text x="368.60" y="642.98" font-size="7.50" text-anchor="start" fill="#333">NSUN2<tspan font-size="4.50" dy="-2.6">-/-</tspan><tspan dy="2.6"> IC<tspan font-size="4.50" dy="1.8">50</tspan><tspan dy="-1.8">= 0.01012 μM</tspan></tspan></text>
<text x="368.60" y="654.69" font-size="7.53" text-anchor="start" fill="#333">NSUN2<tspan font-size="4.52" dy="-2.6">-/-</tspan><tspan dy="2.6"> + SERPINB5 IC<tspan font-size="4.52" dy="1.8">50</tspan><tspan dy="-1.8">= 0.01929 μM</tspan></tspan></text>
<text x="347.58" y="719.30" font-size="9.54" text-anchor="middle" fill="#222" transform="rotate(-90 347.58 719.30)">Cell vailbility (%)</text>
<text x="435.70" y="792.28" font-size="8.67" text-anchor="middle" fill="#222">Paclitaxel log (μM)</text>
<line x1="486.50" y1="740.30" x2="486.50" y2="752.00" stroke="#222" stroke-width="1.0"/>
<text x="492.10" y="748.60" font-size="9.50" text-anchor="middle" font-weight="bold" fill="#111">*</text>
<text x="492.10" y="753.39" font-size="9.50" text-anchor="middle" font-weight="bold" fill="#111">*</text>
<line x1="546.50" y1="724.50" x2="676.30" y2="724.50" stroke="#222" stroke-width="1.0" stroke-dasharray="2.4,1.4"/>
<line x1="546.50" y1="658.60" x2="546.50" y2="768.50" stroke="#111" stroke-width="1.2"/>
<line x1="545.90" y1="767.90" x2="677.00" y2="767.90" stroke="#111" stroke-width="1.2"/>
<line x1="541.30" y1="767.90" x2="546.50" y2="767.90" stroke="#111" stroke-width="1.1"/>
<text x="539.30" y="770.76" font-size="8.30" text-anchor="end" fill="#222">0</text>
<line x1="541.30" y1="746.10" x2="546.50" y2="746.10" stroke="#111" stroke-width="1.1"/>
<text x="539.30" y="748.96" font-size="8.30" text-anchor="end" fill="#222">25</text>
<line x1="541.30" y1="724.30" x2="546.50" y2="724.30" stroke="#111" stroke-width="1.1"/>
<text x="539.30" y="727.16" font-size="8.30" text-anchor="end" fill="#222">50</text>
<line x1="541.30" y1="702.50" x2="546.50" y2="702.50" stroke="#111" stroke-width="1.1"/>
<text x="539.30" y="705.36" font-size="8.30" text-anchor="end" fill="#222">75</text>
<line x1="541.30" y1="680.70" x2="546.50" y2="680.70" stroke="#111" stroke-width="1.1"/>
<text x="539.30" y="683.56" font-size="8.30" text-anchor="end" fill="#222">100</text>
<line x1="541.30" y1="658.90" x2="546.50" y2="658.90" stroke="#111" stroke-width="1.1"/>
<text x="539.30" y="661.76" font-size="8.30" text-anchor="end" fill="#222">125</text>
<line x1="546.50" y1="767.90" x2="546.50" y2="772.30" stroke="#111" stroke-width="1.2"/>
<text x="546.50" y="781.76" font-size="8.30" text-anchor="middle" fill="#222">-4</text>
<line x1="579.00" y1="767.90" x2="579.00" y2="772.30" stroke="#111" stroke-width="1.2"/>
<text x="579.00" y="781.76" font-size="8.30" text-anchor="middle" fill="#222">-3</text>
<line x1="611.50" y1="767.90" x2="611.50" y2="772.30" stroke="#111" stroke-width="1.2"/>
<text x="611.50" y="781.76" font-size="8.30" text-anchor="middle" fill="#222">-2</text>
<line x1="644.00" y1="767.90" x2="644.00" y2="772.30" stroke="#111" stroke-width="1.2"/>
<text x="644.00" y="781.76" font-size="8.30" text-anchor="middle" fill="#222">-1</text>
<line x1="676.50" y1="767.90" x2="676.50" y2="772.30" stroke="#111" stroke-width="1.2"/>
<text x="676.50" y="781.76" font-size="8.30" text-anchor="middle" fill="#222">0</text>
<path d="M556.25,682.59 L557.07,682.61 L557.88,682.64 L558.70,682.66 L559.51,682.70 L560.33,682.73 L561.14,682.77 L561.96,682.82 L562.77,682.87 L563.59,682.93 L564.40,683.00 L565.22,683.08 L566.03,683.17 L566.85,683.27 L567.66,683.38 L568.48,683.51 L569.29,683.66 L570.11,683.83 L570.92,684.02 L571.74,684.24 L572.55,684.49 L573.37,684.77 L574.18,685.09 L575.00,685.44 L575.82,685.85 L576.63,686.30 L577.45,686.81 L578.26,687.39 L579.08,688.03 L579.89,688.75 L580.71,689.55 L581.52,690.43 L582.34,691.41 L583.15,692.49 L583.97,693.67 L584.78,694.96 L585.60,696.36 L586.41,697.87 L587.23,699.49 L588.04,701.22 L588.86,703.05 L589.67,704.97 L590.49,706.97 L591.30,709.03 L592.12,711.15 L592.93,713.31 L593.75,715.48 L594.56,717.64 L595.38,719.79 L596.20,721.89 L597.01,723.94 L597.83,725.92 L598.64,727.81 L599.46,729.61 L600.27,731.30 L601.09,732.89 L601.90,734.37 L602.72,735.73 L603.53,736.99 L604.35,738.14 L605.16,739.19 L605.98,740.14 L606.79,740.99 L607.61,741.77 L608.42,742.46 L609.24,743.08 L610.05,743.64 L610.87,744.13 L611.68,744.57 L612.50,744.96 L613.31,745.30 L614.13,745.61 L614.94,745.88 L615.76,746.12 L616.58,746.33 L617.39,746.51 L618.21,746.67 L619.02,746.82 L619.84,746.94 L620.65,747.05 L621.47,747.15 L622.28,747.24 L623.10,747.31 L623.91,747.38 L624.73,747.43 L625.54,747.49 L626.36,747.53 L627.17,747.57 L627.99,747.60 L628.80,747.63 L629.62,747.66 L630.43,747.68 L631.25,747.70 L632.06,747.72 L632.88,747.74 L633.69,747.75 L634.51,747.76 L635.33,747.77 L636.14,747.78 L636.96,747.79 L637.77,747.79 L638.59,747.80 L639.40,747.81 L640.22,747.81 L641.03,747.82 L641.85,747.82 L642.66,747.82 L643.48,747.82 L644.29,747.83 L645.11,747.83 L645.92,747.83 L646.74,747.83 L647.55,747.83 L648.37,747.84 L649.18,747.84 L650.00,747.84 L650.81,747.84 L651.63,747.84 L652.44,747.84 L653.26,747.84 L654.08,747.84" fill="none" stroke="#5b9e92" stroke-width="1.1"/>
<path d="M556.25,680.78 L557.07,680.79 L557.88,680.80 L558.70,680.82 L559.51,680.83 L560.33,680.85 L561.14,680.87 L561.96,680.90 L562.77,680.93 L563.59,680.96 L564.40,681.00 L565.22,681.04 L566.03,681.09 L566.85,681.14 L567.66,681.20 L568.48,681.27 L569.29,681.36 L570.11,681.45 L570.92,681.55 L571.74,681.67 L572.55,681.81 L573.37,681.96 L574.18,682.13 L575.00,682.33 L575.82,682.56 L576.63,682.81 L577.45,683.10 L578.26,683.42 L579.08,683.79 L579.89,684.20 L580.71,684.67 L581.52,685.19 L582.34,685.77 L583.15,686.42 L583.97,687.15 L584.78,687.95 L585.60,688.84 L586.41,689.82 L587.23,690.89 L588.04,692.07 L588.86,693.34 L589.67,694.71 L590.49,696.18 L591.30,697.74 L592.12,699.40 L592.93,701.14 L593.75,702.96 L594.56,704.83 L595.38,706.75 L596.20,708.71 L597.01,710.68 L597.83,712.64 L598.64,714.58 L599.46,716.49 L600.27,718.35 L601.09,720.14 L601.90,721.85 L602.72,723.48 L603.53,725.02 L604.35,726.46 L605.16,727.79 L605.98,729.03 L606.79,730.17 L607.61,731.21 L608.42,732.16 L609.24,733.02 L610.05,733.80 L610.87,734.50 L611.68,735.12 L612.50,735.69 L613.31,736.19 L614.13,736.63 L614.94,737.03 L615.76,737.38 L616.58,737.70 L617.39,737.97 L618.21,738.22 L619.02,738.43 L619.84,738.62 L620.65,738.79 L621.47,738.94 L622.28,739.07 L623.10,739.18 L623.91,739.28 L624.73,739.37 L625.54,739.45 L626.36,739.51 L627.17,739.57 L627.99,739.63 L628.80,739.67 L629.62,739.71 L630.43,739.75 L631.25,739.78 L632.06,739.80 L632.88,739.83 L633.69,739.85 L634.51,739.87 L635.33,739.88 L636.14,739.90 L636.96,739.91 L637.77,739.92 L638.59,739.93 L639.40,739.94 L640.22,739.95 L641.03,739.95 L641.85,739.96 L642.66,739.96 L643.48,739.97 L644.29,739.97 L645.11,739.97 L645.92,739.98 L646.74,739.98 L647.55,739.98 L648.37,739.98 L649.18,739.98 L650.00,739.99 L650.81,739.99 L651.63,739.99 L652.44,739.99 L653.26,739.99 L654.08,739.99" fill="none" stroke="#f0403f" stroke-width="1.1"/>
<line x1="572.17" y1="685.93" x2="572.17" y2="694.65" stroke="#5b9e92" stroke-width="0.8"/>
<line x1="570.67" y1="685.93" x2="573.67" y2="685.93" stroke="#5b9e92" stroke-width="0.8"/>
<line x1="570.67" y1="694.65" x2="573.67" y2="694.65" stroke="#5b9e92" stroke-width="0.8"/>
<line x1="572.17" y1="677.21" x2="572.17" y2="685.93" stroke="#f0403f" stroke-width="0.8"/>
<line x1="570.67" y1="677.21" x2="573.67" y2="677.21" stroke="#f0403f" stroke-width="0.8"/>
<line x1="570.67" y1="685.93" x2="573.67" y2="685.93" stroke="#f0403f" stroke-width="0.8"/>
<line x1="589.08" y1="692.04" x2="589.08" y2="699.01" stroke="#f0403f" stroke-width="0.8"/>
<line x1="587.58" y1="692.04" x2="590.58" y2="692.04" stroke="#f0403f" stroke-width="0.8"/>
<line x1="587.58" y1="699.01" x2="590.58" y2="699.01" stroke="#f0403f" stroke-width="0.8"/>
<line x1="621.25" y1="733.02" x2="621.25" y2="740.00" stroke="#f0403f" stroke-width="0.8"/>
<line x1="619.75" y1="733.02" x2="622.75" y2="733.02" stroke="#f0403f" stroke-width="0.8"/>
<line x1="619.75" y1="740.00" x2="622.75" y2="740.00" stroke="#f0403f" stroke-width="0.8"/>
<line x1="654.08" y1="738.25" x2="654.08" y2="744.36" stroke="#f0403f" stroke-width="0.8"/>
<line x1="652.58" y1="738.25" x2="655.58" y2="738.25" stroke="#f0403f" stroke-width="0.8"/>
<line x1="652.58" y1="744.36" x2="655.58" y2="744.36" stroke="#f0403f" stroke-width="0.8"/>
<rect x="554.25" y="678.96" width="4.00" height="4.00" fill="#f0403f"/>
<rect x="570.17" y="680.27" width="4.00" height="4.00" fill="#f0403f"/>
<rect x="587.08" y="693.70" width="4.00" height="4.00" fill="#f0403f"/>
<rect x="602.02" y="725.18" width="4.00" height="4.00" fill="#f0403f"/>
<rect x="619.25" y="734.07" width="4.00" height="4.00" fill="#f0403f"/>
<rect x="635.17" y="737.47" width="4.00" height="4.00" fill="#f0403f"/>
<rect x="652.08" y="739.39" width="4.00" height="4.00" fill="#f0403f"/>
<circle cx="556.25" cy="682.62" r="2.10" fill="#5b9e92"/>
<circle cx="572.17" cy="690.47" r="2.10" fill="#5b9e92"/>
<circle cx="589.08" cy="705.46" r="2.10" fill="#5b9e92"/>
<circle cx="604.02" cy="738.25" r="2.10" fill="#5b9e92"/>
<circle cx="621.25" cy="744.01" r="2.10" fill="#5b9e92"/>
<circle cx="637.17" cy="748.02" r="2.10" fill="#5b9e92"/>
<circle cx="654.08" cy="748.02" r="2.10" fill="#5b9e92"/>
<line x1="529.30" y1="638.90" x2="538.50" y2="638.90" stroke="#5b9e92" stroke-width="0.9"/>
<circle cx="533.90" cy="638.90" r="2.10" fill="#5b9e92"/>
<line x1="529.30" y1="650.70" x2="538.50" y2="650.70" stroke="#f0403f" stroke-width="0.9"/>
<rect x="531.90" y="648.70" width="4.00" height="4.00" fill="#f0403f"/>
<text x="543.90" y="641.46" font-size="7.43" text-anchor="start" fill="#333">NSUN2<tspan font-size="4.46" dy="-2.6">-/-</tspan><tspan dy="2.6"> IC<tspan font-size="4.46" dy="1.8">50</tspan><tspan dy="-1.8">= 0.002622 μM</tspan></tspan></text>
<text x="543.90" y="653.27" font-size="7.47" text-anchor="start" fill="#333">NSUN2<tspan font-size="4.48" dy="-2.6">-/-</tspan><tspan dy="2.6"> + SERPINB5 IC<tspan font-size="4.48" dy="1.8">50</tspan><tspan dy="-1.8">= 0.003323 μM</tspan></tspan></text>
<text x="524.58" y="713.30" font-size="9.54" text-anchor="middle" fill="#222" transform="rotate(-90 524.58 713.30)">Cell vailbility (%)</text>
<text x="612.70" y="791.19" font-size="8.69" text-anchor="middle" fill="#222">Vincristine log (μM)</text>
<line x1="659.50" y1="739.50" x2="659.50" y2="749.30" stroke="#222" stroke-width="1.0"/>
<text x="664.00" y="749.25" font-size="9.50" text-anchor="middle" font-weight="bold" fill="#111">*</text>
<text x="81.80" y="659.66" font-size="9.20" text-anchor="middle" font-weight="bold" fill="#111">SERPINB5</text>
<text x="28.61" y="694.10" font-size="9.33" text-anchor="middle" font-weight="bold" fill="#111" transform="rotate(-90 28.61 694.10)">Resistant</text>
<text x="28.61" y="756.00" font-size="9.34" text-anchor="middle" font-weight="bold" fill="#111" transform="rotate(-90 28.61 756.00)">Sensitive</text>
<mask id="cNb" maskUnits="userSpaceOnUse" x="0" y="600" width="200" height="196"><path d="M37,700 C36,685 42,672 57,670 C70,669 77,674 80.6,677 C86,670 98,667 110,668.5 C124,670 129,682 128,700 C127,712 124,720 120,724 L46,724 C40,716 37,708 37,700 Z" fill="#fff" filter="url(#fBlur)"/></mask>
<clipPath id="cN1"><rect x="32.5" y="665.8" width="100.19999999999999" height="57.5"/></clipPath>
<g clip-path="url(#cN1)">
<rect x="32.50" y="665.80" width="100.20" height="57.50" fill="#f2f2f8"/>
<rect x="32.5" y="665.8" width="100.19999999999999" height="57.5" fill="#000" filter="url(#nBg)"/>
</g>
<rect x="32.5" y="665.8" width="100.19999999999999" height="57.5" fill="none" stroke="#4a4a4a" stroke-width="0.9"/>
<g clip-path="url(#cN1)">
<path d="M37,700 C36,685 42,672 57,670 C70,669 77,674 80.6,677 C86,670 98,667 110,668.5 C124,670 129,682 128,700 C127,712 124,720 120,724 L46,724 C40,716 37,708 37,700 Z" fill="#8284bc" filter="url(#fBlur)"/>
<g mask="url(#cNb)">
<rect x="32" y="665" width="101" height="60" fill="#000" filter="url(#nBlobBlue)"/>
<rect x="32" y="665" width="101" height="60" fill="#000" filter="url(#nBlobTan)"/>
<rect x="32" y="665" width="101" height="60" fill="#000" filter="url(#nBlobLight)"/>
</g>
</g>
<path d="M36.9,688.4000000000001 L41.1,690.7 L36.9,693.0 Z" fill="#000"/>
<path d="M78.3,672.9 L82.89999999999999,672.9 L80.6,677.1 Z" fill="#000"/>
<path d="M124.3,697.9000000000001 L128.5,700.2 L124.3,702.5 Z" fill="#000"/>
<rect x="120.40" y="720.70" width="10.00" height="1.30" fill="#111"/>
<clipPath id="cN2"><rect x="32.5" y="726.8" width="100.19999999999999" height="57.700000000000045"/></clipPath>
<g clip-path="url(#cN2)">
<rect x="32.50" y="726.80" width="100.20" height="57.70" fill="#d4d8f0"/>
<ellipse cx="72" cy="762" rx="20" ry="14" fill="#c8b0a8" fill-opacity="0.55" filter="url(#fBlur)"/>
<rect x="32.5" y="726.8" width="100.19999999999999" height="57.700000000000045" fill="#000" filter="url(#n2Light)"/>
<rect x="32.5" y="726.8" width="100.19999999999999" height="57.700000000000045" fill="#000" filter="url(#n2Blue)"/>
<rect x="32.5" y="726.8" width="100.19999999999999" height="57.700000000000045" fill="#000" filter="url(#n2White)"/>
</g>
<rect x="32.5" y="726.8" width="100.19999999999999" height="57.700000000000045" fill="none" stroke="#4a4a4a" stroke-width="0.9"/>
<g clip-path="url(#cN2)"><ellipse cx="105" cy="746" rx="4" ry="7" fill="#f8f8fc"/></g>
<path d="M52.5,752.7 L56.7,755.0 L52.5,757.3 Z" fill="#000"/>
<path d="M96.2,739.7 L100.4,742.0 L96.2,744.3 Z" fill="#000"/>
<rect x="120.40" y="781.60" width="10.00" height="1.30" fill="#111"/>
</svg></body></html>
